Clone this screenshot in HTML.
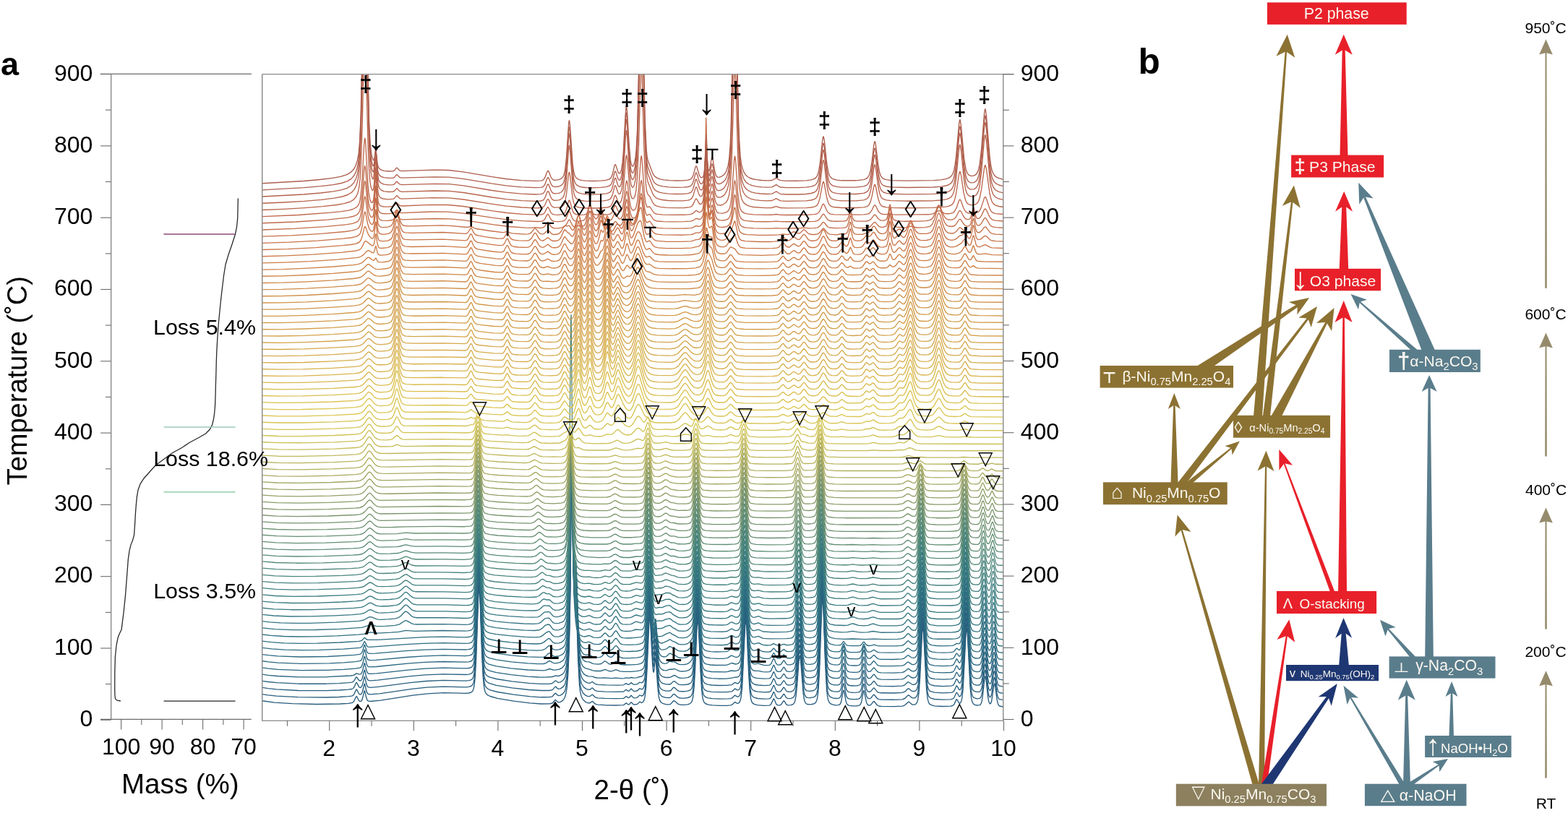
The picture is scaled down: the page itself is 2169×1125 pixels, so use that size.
<!DOCTYPE html><html><head><meta charset="utf-8"><title>figure</title><style>html,body{margin:0;padding:0;background:#fff;width:2169px;height:1125px;overflow:hidden}svg{display:block}</style></head><body>
<svg width="2169" height="1125" viewBox="0 0 2169 1125">
<defs><clipPath id="pc"><rect x="363.2" y="103.2" width="1024.1" height="893.6"/></clipPath></defs>
<rect width="2169" height="1125" fill="#fff"/>
<g clip-path="url(#pc)" fill="none" stroke-width="1.35" stroke-linejoin="round">
<path stroke="#285c7e" d="M360.1 969.4l19.5 2.7 25 1.6 33.5 .8 32-.5 12-.7 5.5-1 2-1.8 2.5-5.7 1-1.2 .5 .4 3 5.8 1 .7 1.5 0 1-.8 1-2.1 3-11.8 .5 .4 2 8.6 1.5 4.1 1.5 1.3 2.5 .3 14.5-1.4 44.5-6.9 20.5-2.4 22-1.1 30.5 .7 4.5-.4 3-.9 2-1.6 1.5-3.5 1-5.1 1-9.4 1.5-26.3 3-84.6 1-14 .5 .7 1 16.3 2.5 73.2 1.5 31 1 11.9 1 6.8 1 3.7 1.5 2.8 2 1.8 3.5 1.7 10 2.8 22.5 3.9 22.5 2.7 15.5 1.1 11.5-.1 4-.9 4-4.5 1 .4 2 2.2 1.5 .7 2.5-.4 3-1.8 2.5-3 1.5-3.5 2-10.3 1.5-17.3 1.5-33.3 1-37.7 1-64.4 2-199.8 2 183.3 1 37.7 .5 5.4 .5 0 1-5 .5 1.4 .5 7.5 2.5 81 2 37.4 1 8.2 1.5 6.3 2.5 4.8 3 2.8 3 1.4 2.5 .4 1.5-.4 2-1.7 1-.3 3.5 3.4 1.5 .7 2.5 .5 9.5 .6 15 .3 10.5-.3 1.5-.6 2.5-2.3 2.5 1.9 1 .2 1-.4 2.5-2.9 3 3.1 1.5 .3 2-.1 2.5-.8 2.5-2.8 .5-.1 2.5 1.3 2-1.2 1.5-2.9 1-4.3 1.5-13.4 1.5-25.9 2.5-58.7 1-11.8 .5 .2 .5 4.3 3 59.6 1 10.7 .5 1.2 .5-1.4 1.5-14.5 .5-3.6 .5 .2 2.5 36.9 1.5 15 1 4.7 1 2.4 1.5 2 2 1.3 4.5 1.4 5 .1 2-.9 3-3.6 1-.6 1.5 .6 3.5 3.3 2 1.1 3 .7 4.5 0 4.5-.6 3-1 2-1.5 1-1.7 1.5-5.6 1.5-13.5 1.5-26 2.5-57.8 1-10.7 .5 .8 1 13.6 2.5 58.2 1.5 24.3 1 9.3 1 5.2 1 2.7 2 2.4 4 1.6 6 .8 10.5 .5 11-.2 3.5-.4 2-.6 4-3.8 3 1.9 1.5 0 1.5-1 1-1.6 1.5-5.7 1.5-13.7 4-83.9 1-10.2 .5 1.2 1 14 2.5 58.3 1.5 24 1.5 12 1 3.7 1 2 2.5 2 4.5 1.3 8.5 .7 7.5-.2 1.5-.4 1.5-1.4 3.5-7.6 1 1.2 2.5 6 1 1.2 1.5 .7 2.5 0 1.5-.6 4-5.7 1 .8 2.5 4.2 1.5 1 2 .3 3-.3 2-.6 1.5-.9 1-1.2 1-2.4 1.5-7.5 1.5-14.8 2.5-33.9 1-7 .5 0 1 7.2 3.5 44.4 1 7.1 1 4.3 1.5 2.9 2 1.3 4.5 .4 4.5-.9 1.5-.8 1.5-1.5 1.5-3.5 1-5.1 1-9.4 1.5-26.2 3-84.9 1-14.7 .5 .3 1 15.8 2.5 72.7 2 37.9 1 9.1 1 4.9 1.5 3.5 2 1.8 3 1.2 4 .7 3.5-.1 2-.9 1-1.3 1-2.7 2.5-13.4 .5-1.8 .5-.4 1 3.7 2 11.2 1 3.2 1.5 2.1 2.5 1 4.5 .5 5 0 3-.5 2-1 1-1.3 1-2.8 2.5-13.5 .5-1.9 .5-.3 3.5 16.6 1.5 2.9 1.5 .9 1.5 0 1.5-.7 3.5-4.4 1-.4 4.5 5.5 2 1 3.5 .4 17.5 .2 11.5-.5 3.5-1.3 5-4.6 1 .2 3 2.7 2 1 2.5 0 2-1.1 1.5-2.1 1-3.2 1.5-10.4 1.5-21.2 3-61.7 .5-5.6 .5-1.8 1 8.1 4 77.3 1.5 13.2 1.5 5.6 1 1.7 1.5 1.2 5.5 1.7 11 .7 11.5-.4 2.5-.6 1.5-1 1-1.4 3-6.5 1 .7 2.5 4.5 1.5 .3 1.5-2.3 1-3.9 1.5-12.6 4-76.9 1-9.2 .5 1.2 1 12.9 3.5 69.4 1.5 14.2 1.5 6 2 2.7 1.5 .8 2.5 .6 4-.3 1-.6 1-1.6 1-3.1 1-5.7 3-26.7 .5-2 .5-.1 1 5.6 2.5 22.9 1 5.7 1 2.9 .5 .7 1 .2 1.5-3.3 3-20.8 1-3.9 .5 .6 .5 2.4 2.5 19.2 1.5 6.3 1 1.7 1 .9 5.5 1"/>
<path stroke="#285e7e" d="M360.1 960.2l10.5 1.6 12 1.3 29.5 1.6 39 .3 18-.5 13-.8 4.5-.6 2-1 1.5-2 2-4.9 1-1.2 .5 .4 3 5.8 1.5 .8 1.5-.4 1.5-2.6 3-11.8 .5 .3 2 8.7 1.5 4 1.5 1.3 2.5 .4 13-1.1 44.5-6.4 21-2.3 23-1 30.5 .7 4.5-.4 3-.9 2-1.7 1.5-3.4 1-5.1 1-9.4 1.5-26.1 3-82.3 1-12.9 .5 1.1 1 16.6 2.5 71.3 1.5 29.8 1 11.3 1 6.5 1 3.5 1.5 2.6 2 1.7 3.5 1.8 10 2.7 22.5 3.7 23 2.6 15 1 11.5-.1 4-.9 4-4.5 1 .4 2 2.2 1.5 .7 2.5-.5 3-1.7 2.5-3 1.5-3.4 2-10.3 1.5-17.4 1.5-33.1 1.5-65.4 2-207.1 .5-19.5 2 181.1 1 34.5 .5 4.3 .5-.7 1-6.1 .5 1.1 .5 7.2 2.5 80.2 2 37.2 1 8.1 1.5 6.2 2.5 4.8 3 2.8 3 1.4 2.5 .4 1.5-.5 2-1.7 1-.3 3.5 3.5 1.5 .7 2.5 .4 9.5 .6 15 .3 10.5-.3 1.5-.6 2.5-2.3 2.5 1.9 1 .2 1-.4 2.5-2.9 3 3.1 1.5 .4 2-.1 2.5-.9 2.5-2.7 .5-.1 2.5 1.2 2-1.1 1.5-3 1-4.3 1.5-13.5 1.5-25.8 2.5-57 1-10.6 .5 .7 .5 4.7 2.5 50 1.5 18.2 .5 .9 .5-1.8 1.5-15.1 .5-3.6 .5 .1 2.5 36.8 1.5 14.8 1 4.7 1 2.5 1.5 1.9 2 1.4 4.5 1.3 5 .1 2-.9 3-3.6 1-.5 1.5 .6 3.5 3.3 2 1.1 3 .6 4.5 0 4.5-.6 3-1 2-1.5 1-1.7 1.5-5.7 1.5-13.6 4-81.9 1-9.4 .5 1.4 1 14 2.5 56.8 1.5 23.1 1 8.7 1 4.8 1 2.6 2 2.2 4 1.5 6 .9 10.5 .4 11-.2 3.5-.3 2-.7 4-3.8 3 1.9 1.5 .1 1.5-1.1 1-1.6 1.5-5.8 1.5-13.9 4-82 1-8.8 .5 1.8 1 14.6 3.5 73.4 1.5 14.5 1 4.8 1.5 3.3 2.5 1.9 5 1.3 8 .6 7.5-.2 1.5-.4 1.5-1.4 3.5-7.6 1 1.2 2.5 6 1 1.2 1.5 .7 2.5 0 1.5-.6 4-5.7 1 .8 2.5 4.2 1.5 1 2 .3 3-.3 2-.6 1.5-.9 1-1.3 1-2.4 1.5-7.7 1.5-14.7 2.5-32.9 1-6.2 .5 .5 1 7.6 3.5 43.1 1 6.6 1 4 1.5 2.7 2 1.2 4.5 .4 4.5-1 2.5-1.6 1.5-2.7 1.5-6.8 1-9.6 1.5-26.4 3-82.6 1-12.8 .5 1.2 .5 6.3 3 81.4 2 35.7 1 8.4 1 4.6 1.5 3.2 2 1.7 3 1.2 4 .6 3.5-.1 2-.9 1-1.3 1-2.7 2.5-13.4 .5-1.8 .5-.4 1 3.7 2 11.2 1 3.2 1.5 2.1 2.5 1 4.5 .5 5-.1 3-.4 2-1 1-1.4 1-2.7 2.5-13.5 .5-1.9 .5-.3 3.5 16.6 1.5 2.9 1.5 .8 1.5 .1 1.5-.7 3.5-4.4 1-.4 4.5 5.5 2 1 3.5 .4 17.5 .2 11.5-.5 3.5-1.3 4-3.9 1-.6 1 .3 3 2.6 2 1 2.5-.1 2-1.1 1.5-2.2 1-3.4 1.5-10.7 1.5-21.5 2.5-52.2 1-12.5 .5-1 1 9.2 4 75.3 1.5 12.4 1.5 5.1 1 1.6 1.5 1.1 5.5 1.6 11 .7 11.5-.4 2.5-.6 1.5-1 1-1.4 3-6.6 1 .8 2.5 4.5 1 .4 .5-.2 1.5-2.4 1-4.1 1.5-13 4-75.5 1-7.6 1 7.5 4 75.6 1.5 13.2 1.5 5.5 1 1.7 1.5 1.1 4 1.1 3.5-.4 1-.7 1-1.6 1-3.4 1-5.8 2.5-22.6 1-4.9 .5 .3 .5 2.3 3 26.1 1 5.2 1 2.7 .5 .6 1-.1 1.5-3.5 3-20.6 1-3.2 1 3.7 2.5 18.7 1.5 5.8 1 1.6 1 .7 5.5 1"/>
<path stroke="#29607f" d="M360.1 951.0l10.5 1.6 12 1.3 30 1.6 38.5 .1 18-.6 13-.8 4.5-.7 2-1 1.5-2 2-4.9 1-1.2 .5 .4 3 5.8 1.5 .9 1.5-.5 1.5-2.6 3-11.8 .5 .3 2 8.7 1.5 4.1 1.5 1.2 2.5 .4 11.5-.9 44-5.7 22-2.2 24-1.1 30.5 .7 4.5-.4 3-.9 2-1.6 1.5-3.4 1-5.1 1-9.4 1.5-25.8 3-80 1-11.9 .5 1.5 1 16.9 2.5 69.3 1.5 28.6 1.5 14.4 1 4.5 1.5 3.3 2 1.9 3 1.6 9.5 2.7 21.5 3.6 23.5 2.6 16.5 1 12 0 4-.9 4-4.5 1 .4 2 2.2 1.5 .7 2.5-.5 3-1.7 2-2.2 1.5-2.8 1.5-5.3 1-6.4 1.5-17.3 1.5-32.9 1.5-65.5 2-202.9 .5-13.2 1.5 144.4 .5 33.6 1 31.3 .5 3.5 1.5-8.6 .5 .7 .5 6.9 3 92.1 1 18.2 1 10.8 1 6 1.5 4.9 2.5 4 3 2.4 2.5 1.1 2.5 .4 1.5-.5 2-1.7 1-.2 3.5 3.4 3 1 10.5 .7 17 .3 9-.4 3.5-2.8 2.5 1.9 1 .3 1-.5 2.5-2.9 3 3.1 1.5 .4 2-.1 2.5-.9 2.5-2.7 .5-.1 2.5 1.3 2-1.2 1.5-3 1-4.4 1.5-13.6 4-80.7 1-9.4 .5 1.2 .5 5 2.5 48.9 1.5 17 .5 .5 .5-2 1.5-15.6 .5-3.8 .5 .1 2.5 36.6 1.5 14.8 1 4.7 1 2.5 1.5 1.9 2 1.3 4.5 1.3 5 .1 2-.8 3-3.6 1-.6 1.5 .7 3 2.9 2.5 1.5 3 .5 4.5 0 4.5-.6 3-.9 2-1.6 1-1.7 1.5-5.8 1.5-13.7 4-79.9 1-8.2 1 7.7 3 64 1.5 21.9 1 8.1 1 4.6 1 2.4 1.5 1.7 3.5 1.5 5.5 1 9.5 .4 11.5 0 7-.8 1.5-1 3-3 3 1.8 1 .2 1.5-.6 1-1.2 1-2.4 1-4.5 1.5-14.1 3.5-71.3 1-14.3 .5-1.8 1 8.5 4 79.9 1.5 13.6 1 4.4 1.5 3.1 2.5 1.8 5 1.2 9 .7 7-.4 1.5-.7 1-1 3.5-7.6 1 1.2 2.5 6 1 1.2 1.5 .7 2.5 0 1.5-.6 4-5.7 1 .8 2.5 4.2 1.5 1 2 .3 3-.3 2-.6 1.5-.9 1-1.3 1-2.5 1.5-7.8 4-46.5 1-5.3 .5 .8 1 8 3 37.3 2 12.7 1.5 3.5 2 1.5 4.5 .5 5-.9 2.5-1.7 1.5-2.7 1.5-7.1 1-9.7 1.5-26.6 3-80.2 1-10.9 .5 2.1 .5 6.8 3 79.8 1.5 27.8 1 10.3 1 5.8 1.5 4 2.5 2.3 3 1.1 4 .6 3.5-.1 2-.9 1-1.3 1-2.7 2.5-13.4 .5-1.9 .5-.3 1 3.7 2 11.2 1 3.2 1.5 2.1 2.5 1 4.5 .5 5-.1 3-.4 2-1 1-1.4 1-2.7 2.5-13.5 .5-1.9 .5-.4 3.5 16.7 1.5 2.9 1.5 .8 1.5 0 1.5-.6 3.5-4.4 1-.4 4.5 5.5 2 1 3 .4 18 .2 11.5-.6 3.5-1.2 4-3.9 1-.5 1 .4 3 2.6 1.5 .7 2.5 .1 2-.8 1.5-1.7 1-2.5 1-4.7 1-8.4 1.5-21.8 2.5-51 1-11 .5-.3 1 10.3 3.5 67.2 1.5 14.7 1 5 1 2.6 1 1.4 1.5 1.1 5.5 1.5 11 .7 11.5-.5 2.5-.5 1.5-1 1-1.4 3-6.6 1 .8 2.5 4.5 1 .4 .5-.2 1-1.4 1-3 1.5-10.2 1.5-20.8 2.5-51.1 1-12.5 .5-1.2 1 8.7 4 73.8 1.5 12.2 1.5 5.1 2 2.2 3.5 1.2 4-.1 1-.5 1-1.2 1-2.5 1-4.6 3-25.6 1-4.1 .5 .8 .5 2.6 3 25.5 1 4.8 1 2.4 1 .6 .5-.3 1.5-3.8 3-20.3 .5-2.1 .5-.4 1 4.2 2.5 18.2 1.5 5.3 1 1.5 1 .7 5.5 .9"/>
<path stroke="#2a6280" d="M360.1 941.9l11 1.6 12 1.2 30 1.5 38 0 18-.6 13.5-1 4-.5 2-.8 1.5-1.7 2-3.9 1-1 3.5 4.8 1.5 .6 1.5-.6 1.5-2.5 3-11.9 .5 .3 2 8.7 1.5 4 1.5 1.3 2.5 .4 10.5-.7 43.5-5.2 22.5-2.1 24.5-1 31 .7 4.5-.4 3-.9 2-1.6 1.5-3.4 1-5.1 1-9.3 1.5-25.5 3-77.8 1-10.8 .5 1.9 .5 6.6 3 77.8 1.5 27.4 1.5 13.7 1 4.3 1.5 3.1 2 1.8 3 1.6 9.5 2.6 21.5 3.4 23.5 2.5 16.5 1 12-.1 4-.8 4-3.6 1 .3 2 1.6 1.5 .5 2.5-.5 3-1.8 2-2.1 1.5-2.8 2-8.1 1.5-13.8 1.5-26.6 2-78.8 2-198.1 .5-7 1.5 142.8 .5 31.3 1 28.3 .5 2.5 1.5-10.2 .5 .4 .5 6.6 3 91.3 1 18.1 1 10.7 1 6 1.5 4.8 2.5 4 3 2.4 2.5 1.2 2.5 .4 1.5-.3 2-1.3 1-.2 3.5 2.8 4 1 11 .6 16 .2 8.5-.3 3.5-2.2 2.5 1.5 1 .2 1-.4 2.5-2.3 3 2.4 3.5 .2 2.5-.8 2.5-2.2 3 .7 2-1.3 1.5-3 1-4.5 1.5-13.6 4-78.8 1-8.2 .5 1.6 .5 5.3 2.5 47.9 1 12.9 .5 2.8 .5 .3 .5-2.3 1.5-16.2 .5-3.9 .5 0 2.5 36.5 1.5 14.8 1 4.7 1 2.4 1.5 1.9 2 1.4 4.5 1.3 5 .1 2-.7 3-3.2 1.5-.5 1.5 .8 3 2.6 2 1.1 3 .5 4.5-.1 4.5-.5 3-1 2-1.5 1-1.8 1.5-5.8 1.5-13.9 3.5-69.4 1-13.7 .5-1.6 1 8.5 3 62.4 1.5 20.8 1 7.6 1 4.2 1 2.2 1.5 1.7 3.5 1.4 6 .9 9.5 .5 11.5-.1 6.5-.7 4.5-3.3 3 1.3 1.5 0 2-1.9 1-2.4 1-4.6 1.5-14.3 3.5-69.7 1-13 .5-1.1 1 9.2 4 77.5 1.5 12.8 1 4 1.5 2.9 3 1.9 5 1 9 .6 6.5-.4 1.5-.7 1-1 3.5-7.6 1 1.2 2.5 6 1 1.2 1.5 .7 2.5 0 1.5-.6 4-5.7 1 .8 2.5 4.2 1.5 1 2 .3 3-.3 2-.5 1.5-1 1-1.3 1-2.6 1.5-7.9 4-45.4 1-4.4 .5 1.1 1 8.4 3 36.1 2 11.9 1.5 3.2 2 1.4 4.5 .5 5-1 2.5-1.7 1.5-2.8 1-4 1-7.5 2-32.3 3-77.7 .5-6.8 .5-2.2 1 10.2 3 78 1.5 26.1 1 9.6 1 5.4 1.5 3.7 2 1.9 3 1.2 4 .6 4-.1 2-.9 1-1.3 1-2.7 2.5-13.4 .5-1.9 .5-.3 1 3.7 2 11.2 1 3.2 1.5 2.1 2.5 1 4.5 .5 5-.1 3-.4 2-1 1-1.4 1-2.8 2.5-13.5 .5-1.8 .5-.4 3.5 16.7 1.5 2.8 1.5 .9 1.5 0 1.5-.7 3.5-4.4 1-.4 4.5 5.6 2 .9 3 .4 18 .3 11.5-.6 3.5-1.3 4-3.8 1-.3 5.5 3.6 2.5 0 2-.8 1.5-1.8 1-2.6 1-4.9 1-8.6 1.5-22 2.5-49.7 1-9.6 .5 .5 1 11.3 3.5 65.3 1.5 13.8 1 4.5 1 2.5 1 1.3 2 1.2 5.5 1.3 11.5 .6 11-.5 2.5-.7 1.5-1.4 3.5-7.4 1 .7 2.5 4.6 1 .3 .5-.2 1-1.4 1-3.2 1.5-10.6 1.5-21.1 2.5-49.9 1-11 .5-.3 1 9.8 3.5 65.7 1.5 14.5 1 4.9 1 2.5 2 2.2 4 1.1 3.5-.2 1-.6 1-1.2 1-2.6 1-4.8 3-25.1 .5-2.5 .5-.8 1 4 3 24.9 1 4.4 1 2.1 1 .4 .5-.3 1-2.2 1-4.5 2.5-17.4 .5-1.7 .5 0 1 4.7 2 14.9 1.5 6.5 1 1.9 1.5 1.1 5.5 .9"/>
<path stroke="#2a6480" d="M360.1 932.7l11 1.6 12.5 1.2 30.5 1.4 38-.2 33-1.7 4-.7 4-2.4 4 1.3 1.5-.3 1-.6 1.5-2.7 3-11.9 .5 .3 2 8.6 1.5 4.1 1.5 1.3 2.5 .4 9-.6 43.5-4.7 23.5-2 25-.9 31 .7 4.5-.4 3-.9 2-1.6 1.5-3.5 1-5 1-9.3 1.5-25.2 3-75.3 1-9.8 .5 2.2 .5 6.7 3 75.9 1.5 26.2 1.5 12.9 1 4.1 1.5 3 2 1.7 3 1.5 9.5 2.5 20.5 3.1 23 2.5 14.5 .8 10 .1 9.5-.6 4-1.3 4.5 .3 2.5-.8 2.5-1.4 2-1.9 1.5-2.4 1.5-4.2 1-5 1.5-13.7 1.5-26.6 2-79.1 2-193.9 .5-1 1.5 141.4 1 46.5 .5 8.4 .5 1.7 1.5-11.7 .5 0 .5 6.4 3 90.5 1 18.1 1 10.6 1 6 1.5 4.8 2.5 3.9 3 2.4 4 1.4 5.5 .3 3.5 1.3 3 .5 5 .2 6-.3 8 .7 7-.5 8.5 .7 2.5-.2 3-.7 4 .5 3-.9 3.5 .7 4-.3 4-1.4 3-.5 2-1.5 1.5-3.2 1-4.5 1.5-13.7 3.5-68.3 1-13.7 .5-1.7 1 7.6 2.5 46.7 1 12 .5 2.5 .5-.1 .5-2.5 1.5-16.7 .5-4 .5 0 2.5 36.3 1.5 14.8 1 4.7 1 2.4 1.5 1.9 2 1.3 4 1.2 4.5 0 3-.6 3.5-2.1 1.5-.3 1.5 .6 3 2.1 2 .8 3 .4 4.5-.2 4-.6 3-1.1 2-1.6 1-1.7 1.5-5.9 1.5-13.8 3.5-67.8 1-12.5 .5-1 1 9.2 3 60.8 1.5 19.6 1 7.2 1 3.9 1 2.1 1.5 1.5 3.5 1.4 5.5 .8 9.5 .5 11-.1 8-.9 4-1.1 3.5-.1 1.5-.7 1.5-1.7 1-2.5 1-4.7 1.5-14.4 3.5-68.1 1-11.7 .5-.5 1 10 2.5 51.9 1.5 23 1.5 12 1 3.7 1.5 2.7 2.5 1.5 3.5 .8 9.5 .9 8-.3 1.5-.7 1-1 3.5-7.6 1 1.2 2.5 6 1 1.2 1.5 .7 2.5 0 1.5-.6 4-5.7 1 .8 2.5 4.2 1.5 1 2 .3 3-.3 2-.5 1.5-1 1-1.4 1-2.6 1.5-8 3.5-39.5 1-7.5 .5-.8 1 5.1 3.5 40 2 11 1.5 3 2 1.3 5 .4 4.5-.9 2.5-1.7 1.5-2.9 1-4.1 1-7.7 2-32.5 3-74.9 .5-6 .5-1.3 1 11.4 3 76.1 1.5 24.5 1 8.9 1 4.9 1.5 3.5 2 1.7 3 1.1 4 .6 4-.1 2-.9 1-1.3 1-2.7 2.5-13.4 .5-1.9 .5-.3 1 3.7 2 11.2 1 3.2 1.5 2.1 2.5 1 4.5 .4 5 0 3-.4 2-1 1-1.4 1-2.8 2.5-13.5 .5-1.8 .5-.4 3.5 16.6 1.5 2.9 1.5 .9 1.5 0 1.5-.7 3.5-4.4 1-.4 4.5 5.6 2 .9 3 .4 17 .3 12-.5 3.5-1.1 4-3.6 1.5-.7 4 2.9 1.5 .6 2.5 0 2-.9 1.5-1.8 1-2.7 1-5.1 1-8.8 4-70.4 1-8.2 .5 1.2 1 12.2 3.5 63.4 1.5 12.8 1 4.2 1 2.2 1 1.2 2 1.2 5.5 1.2 12 .5 10.5-.5 2.5-.7 1.5-1.3 3.5-7.4 1 .7 2.5 4.5 1 .4 .5-.3 1-1.4 1-3.4 1.5-10.9 1.5-21.4 2.5-48.5 1-9.6 .5 .4 1 10.9 2.5 48.8 1.5 20.7 1.5 10.5 1.5 4.2 2 2 4 1 3.5-.3 1-.5 1-1.3 1-2.8 1-5 3-24.4 .5-2.2 .5-.3 1 4.6 2.5 21.1 1 5.3 1 2.9 .5 .7 1 .3 1.5-2.9 1-4.6 2-14.2 1-4 .5 .4 .5 2 2.5 17.5 1.5 6 1 1.7 1 .8 2 .6 4 .5"/>
<path stroke="#2a6680" d="M360.1 923.5l11.5 1.7 13 1.2 32.5 1.2 39-.4 19.5-.9 15.5-1.2 6.5-1 1.5-.7 1-1 1.5-3.8 2.5-10.3 .5 .3 .5 1.7 2.5 10.1 1.5 1.9 2.5 .6 9-.4 43-4.3 24-1.8 25.5-.9 30.5 .7 5-.4 3-.8 2-1.6 1.5-3.5 1-5 1-9.2 1.5-24.8 3-73.1 1-8.8 1 9.4 3 73.9 1.5 25 1.5 12.3 1 3.9 1.5 2.8 2 1.7 3 1.4 9.5 2.4 20.5 3 23 2.2 21.5 .9 3.5-.5 5-1.9 5 1.5 3 .2 5.5-1.1 4-2 2.5-2.5 1.5-2.8 2-8.1 1.5-13.7 1.5-26.3 2-79.1 2-187.7 .5 4.7 1.5 138 1 42.8 .5 7.2 .5 .8 1.5-13.2 .5-.3 .5 6.1 3 89.8 1 18 1 10.5 1 6 1.5 4.7 2 3.3 3 2.4 5.5 1.4 5 1.8 4 .6 7 0 6-2.1 5 2.1 3 .4 2.5-.5 4.5-1.8 5.5 2.3 5.5 .5 10.5-.1 7.5-.6 5-1.1 3-1.8 1.5-2.3 1-3.3 1.5-10.7 1.5-21.1 2.5-51.3 1-12.6 .5-1.2 1 8.2 2.5 45.5 1 11.2 .5 2.1 .5-.4 2.5-24 .5-.1 2.5 36.2 1.5 14.8 1 4.6 1 2.4 1.5 1.9 2 1.3 2.5 .7 2.5 .1 5-1.6 3.5 0 3-.7 6.5 3.2 3 .3 4.5-.1 3.5-.7 2.5-1.1 2.5-1.8 1.5-2.3 1.5-5.7 1.5-13.6 3.5-65.8 1-11.3 .5-.5 1 9.9 2.5 50.4 1.5 22.3 1 8.7 1 5 1 2.7 2 2.2 3.5 1.3 5.5 .9 19 .3 4-.4 4.5-1.4 5 .5 2.5-.3 2.5-1.1 1.5-1.8 1-2.5 1-4.8 1.5-14.5 3.5-66.4 1-10.4 .5 0 1 10.7 2.5 50.5 1.5 21.8 1.5 11.2 1 3.5 1.5 2.4 3 1.5 6 .1 5.5 1.3 5 .2 4-.3 1.5-.7 1-1 3.5-7.6 1 1.2 2.5 6 1 1.2 1.5 .7 2.5 0 1.5-.6 4-5.7 1 .8 2.5 4.2 1.5 1 2 .3 3-.3 2-.5 1.5-1 1-1.4 1-2.7 1.5-8 3.5-38.6 1-6.8 .5-.4 1 5.6 3.5 38.7 2 10.4 1.5 2.7 2 1.2 5 .4 4.5-1 2.5-1.7 1.5-2.9 1-4.3 1-7.8 2-32.6 2.5-63.2 1-14 .5-.4 1 12.5 3 73.9 1.5 23 1 8.2 1 4.6 1.5 3.1 2 1.6 3.5 1.2 4 .5 3.5-.2 2-.9 1-1.3 1-2.7 2.5-13.4 .5-1.8 .5-.4 1 3.7 2 11.2 1 3.2 1.5 2.1 2.5 1 4.5 .4 5 0 3-.4 2-1 1-1.4 1-2.8 2.5-13.5 .5-1.9 .5-.3 3.5 16.6 1.5 2.9 1.5 .9 1.5 0 1.5-.7 3.5-4.4 1-.4 4.5 5.5 2 1 3 .4 17 .3 12-.5 3.5-1.1 5-4.2 1 .2 3 2.4 2 .9 2.5-.1 2-.9 1.5-1.9 1-2.8 1.5-9.2 1.5-18.8 3-55.3 1-6.7 1 7 4 69.1 1.5 12 1.5 5 1 1.5 1.5 1.1 5.5 1.5 11.5 .6 11.5-.4 2.5-.5 1.5-1 1-1.5 3-6.5 1 .7 2 4 1.5 .8 1.5-1.8 1-3.4 1.5-11.3 4-68.7 1-8.1 .5 1.2 1 11.7 3.5 62 1.5 12.5 1.5 5.4 2 2.4 4 1.2 4-.3 1-.6 1-1.4 1-2.8 1-5.2 3-23.8 .5-1.7 .5 0 1 5.1 2.5 20.5 1 5 1 2.6 .5 .6 1 .1 1.5-3.1 3-18.6 1-3.4 1 3 2.5 17.1 1.5 5.5 1 1.6 1 .7 6 .9"/>
<path stroke="#2b6881" d="M360.1 914.3l11.5 1.6 13 1.2 32.5 1.2 39-.5 20-1 15.5-1.2 6-1 1.5-.6 1-1 1.5-3.8 2.5-10.3 .5 .3 .5 1.7 2.5 10.1 1.5 2 2.5 .6 8.5-.3 42-3.8 24.5-1.7 26.5-.9 30.5 .7 5-.4 3-.8 2-1.6 1.5-3.4 1-5.1 1-9.1 1.5-24.5 3-70.6 .5-6.1 .5-1.8 1 9.8 4 89.3 1 11.4 1 6.7 1 3.6 1.5 2.7 2 1.6 3 1.3 9.5 2.3 20.5 2.9 23 2.1 13.5 .7 8.5-.1 3-.9 3.5-2.5 1.5-.6 1 .3 4 2.5 3.5 .5 5-1 4-1.9 2-1.8 1.5-2.4 1.5-4.2 1-4.9 1.5-13.6 1.5-26.2 1-29.5 1-49.4 2-180.9 .5 9.9 1.5 134 1 39.2 .5 6.1 .5 .1 1.5-14.8 .5-.6 .5 5.8 3 89.1 1 17.9 1 10.5 1 5.9 1.5 4.7 2 3.2 2.5 2 2 .7 4 .2 4 2 2.5 .8 6 .5 4-.7 4-3 1.5-.6 1 .4 4 3.2 1.5 .5 2 .1 2-.8 3.5-2.8 1-.3 1 .3 3 2.6 2 1.2 2.5 .5 4 .2 9.5-.1 7.5-.6 4.5-1 3-1.7 1.5-2.4 1-3.4 1.5-10.6 1.5-21 2.5-49.7 1-11.5 .5-.8 1 8.8 2.5 44.2 1 10.4 .5 1.8 .5-.7 2-20.7 .5-4.1 .5-.2 2.5 36.1 1.5 14.7 1 4.6 1 2.4 1.5 1.9 2 1.2 2.5 .7 2-.1 2-.9 3-2.1 1-.2 3 .9 3.5 .2 4 2.5 2 .8 3 .3 4.5-.2 3-.6 2.5-1.2 3-2.6 1.5-2.2 1.5-5.5 1.5-13.5 3.5-63.8 1-10.1 .5 .1 1 10.4 2.5 49.1 1.5 21.2 1.5 10.8 1.5 4.4 1.5 1.8 3 1.3 5 .9 7 .5 15-.2 2.5-.6 5-2.2 5.5 1.5 2-.3 2-.9 1.5-1.8 1-2.6 1-4.9 1-8.5 1.5-21.8 2.5-48.8 1-9.2 .5 .6 1 11.3 2.5 49.1 1.5 20.6 1.5 10.3 1 3.3 1 1.7 1.5 1.1 2 .6 5.5-.6 7 2.2 4.5 .2 3.5-.3 1.5-.7 1-1 3.5-7.6 1 1.1 2.5 6.1 2 1.8 2.5 .2 2-.7 4-5.7 1 .8 2.5 4.2 1.5 1 4.5 .1 3.5-1.2 1-1 1-2 1.5-6.3 1.5-12.4 2.5-28.6 1-6 .5 0 1 6 3.5 37.5 2 9.6 1.5 2.5 2 1.1 4.5 .3 4.5-.7 3-2 1.5-2.9 1-4.4 1-7.9 1.5-22.2 3-71.6 1-12.3 .5 .4 1 13.4 2.5 61.3 2 31.8 1 7.7 1 4.2 1.5 2.8 2 1.6 3.5 1.1 4 .4 3.5-.2 2-.8 1-1.4 1-2.7 2.5-13.4 .5-1.8 .5-.4 1 3.7 2 11.2 1 3.2 1.5 2.1 2.5 1 4.5 .4 5 0 3-.4 2-1 1-1.4 1-2.8 2.5-13.5 .5-1.9 .5-.3 3.5 16.6 1.5 2.9 1.5 .9 1.5 0 1.5-.7 3.5-4.4 1-.4 4.5 5.5 2 1 3 .4 17 .2 12-.5 3.5-1.1 4-3.5 1-.4 1 .2 3 2.3 2 .9 2.5-.1 2-1 1.5-2 1-2.9 1.5-9.5 1.5-19.1 2.5-46.5 1-11.3 .5-1 1 8.1 4 67.2 1.5 11.1 1.5 4.6 1 1.4 1.5 1 6 1.5 12 .5 11-.5 2.5-.7 1.5-1.4 3.5-7.3 1 .7 2 3.9 1.5 .9 1.5-1.9 1-3.6 1.5-11.7 4-67.3 1-6.5 1 6.8 4 67.5 1.5 11.6 1.5 4.9 1 1.4 1.5 1.1 4 .9 3.5-.4 1-.6 1-1.5 1-3 1-5.3 2.5-20.2 1-4.2 .5 .4 .5 2.2 3 23.2 1 4.6 1 2.3 .5 .5 1 0 1.5-3.3 3-18.4 .5-2.1 .5-.6 1 3.5 2.5 16.6 1.5 5.1 1 1.4 1 .6 6 .9"/>
<path stroke="#2c6a82" d="M360.1 905.2l11 1.5 13 1.1 31 1.2 38-.5 37-2.1 7.5-1 2.5-1.4 1.5-3.1 2.5-8.6 .5 .3 .5 1.4 2.5 8.3 1.5 1.6 2.5 .5 7.5-.3 42-3.5 25.5-1.5 26.5-.8 30.5 .7 4.5-.3 3-.7 2.5-1.8 1.5-3.4 1-5 1-9 1.5-24.1 2.5-59.3 1-14.6 .5-1.3 1 10.1 4 86.3 1 10.9 1 6.3 1 3.4 1.5 2.6 2 1.5 3 1.3 9.5 2.2 20.5 2.7 22.5 2 15 .6 7.5-.3 3-1.2 3.5-3.6 1.5-.8 1 .5 3.5 3.3 2.5 1.1 5.5-.4 5-2.1 2.5-2.4 1.5-2.7 2-8 1.5-13.4 1.5-25.9 1-29.2 1-49.5 2-174 .5 15.2 1.5 133 1 39.2 .5 7.2 .5 1.8 1.5-8.8 .5 .2 .5 5.4 2.5 64.7 2 30.4 1 6.6 1.5 5 2 3.3 2 1.7 2.5 .7 4.5-.4 5.5 3.1 5.5 .8 3-.2 2-.6 2-1.6 3-3.5 1-.4 1 .6 3.5 4 2.5 1.2 1.5-.1 1.5-.7 4-4.3 1-.5 1 .4 4.5 5.1 1.5 .7 2.5 .5 9.5 .2 9.5-.5 5.5-1.1 3-1.6 1.5-2.4 1-3.4 1.5-10.6 1.5-20.8 2.5-48 1-10.3 .5-.3 1 9.3 2.5 43.7 1 10.5 .5 2.2 .5 0 .5-2.2 1.5-13.8 .5-3.3 .5-.1 2.5 30 1.5 12.2 1 3.8 1 2 1.5 1.6 1.5 .8 2.5 .6 2.5-.4 2-1.3 2.5-2.6 1.5-.6 3.5 1.9 3 .7 3.5 2.4 2 .9 3.5 .4 4.5-.2 3-.7 2-1.1 3.5-3.4 1.5-2.1 1.5-5.4 1.5-13.3 3.5-61.7 1-8.9 .5 .6 1 10.9 3.5 62.2 1.5 13.1 1 4.3 1 2.3 2 2 3 1 5 .8 7 .4 9.5 .1 5-.4 2.5-.8 3.5-2.5 1.5-.5 5.5 2.4 2-.1 2-.9 1.5-1.8 1-2.7 1-4.9 1-8.5 4-68.7 1-8 .5 1.1 1 11.7 2.5 47.7 1.5 19.4 1.5 9.6 1 3 1 1.5 1.5 1.1 2 .4 5.5-1.3 6.5 2.9 3.5 .3 4.5-.1 1.5-.4 1.5-1.1 3.5-6.2 1 .9 2.5 5 1 1 1.5 .6 2.5 0 1.5-.5 4-4.7 1 .7 2.5 3.4 1.5 .8 4.5 0 3.5-1.2 1-1.1 1-2 1.5-6.4 1.5-12.3 2.5-27.6 1-5.3 .5 .4 1 6.3 3.5 36.1 1 5.7 1 3.3 1.5 2.3 2 1 4.5 .3 4.5-.8 2.5-1.4 1.5-2.2 1.5-5.8 1-8 1.5-22.3 3-69.3 1-10.6 .5 1.1 .5 5.3 3 68.4 2 29.9 1 7 1 3.9 1.5 2.6 2 1.4 3 1 4 .6 4-.1 2-.7 1-1.1 1-2.3 2.5-11 .5-1.6 .5-.3 3 12.4 1 2.6 1.5 1.8 2.5 .8 9.5 .3 3-.3 2-.8 1-1.2 1-2.3 2.5-11.1 .5-1.6 .5-.3 3.5 13.8 1.5 2.4 1.5 .7 1.5 0 1.5-.6 3.5-3.6 1-.3 4.5 4.5 2 .8 3 .4 17.5 .2 11.5-.6 3.5-1.1 4-3.5 1-.4 1 .3 3 2.3 1.5 .7 2.5 .1 2-.7 1.5-1.5 1-2.2 1-4.2 1-7.3 1.5-19.3 2.5-45.4 1-10 .5-.2 1 9 3.5 59.7 1.5 13.2 1 4.4 1 2.4 2 2 4 1.2 6.5 .7 9 .2 8.5-.2 4-.8 2-1.9 3-5.4 1 .5 2 3.1 1.5 .5 1-1.1 1-2.6 1.5-9.2 1.5-18.6 2.5-45.4 1-11 .5-.9 1 7.9 4 65.6 1.5 10.7 1.5 4.5 2 2 3.5 1 4-.1 2-1.5 1-2.3 1-4.2 3-22.7 1-3.5 1 3.2 3 22.7 1 4.2 1 2.1 1 .4 .5-.3 1-1.8 1.5-6.7 2-13 .5-1.8 .5-.2 1 3.9 2.5 16.1 1.5 4.7 2 1.8 6 .8"/>
<path stroke="#2c6c82" d="M360.1 896.0l15.5 1.9 18.5 1.2 22.5 .5 25-.2 33.5-1.3 22.5-1.8 2-.6 1-.9 3.5-7.3 1 1.1 2.5 5.4 1.5 1.1 2.5 .2 50.5-3.6 23-1.3 28-.7 30.5 .7 4.5-.3 3-.7 2-1.2 1.5-2.5 1-3.6 1-6.7 2-28.8 3-65.8 .5-5.1 .5-.9 1 10.4 4 83.4 1 10.3 1 5.9 1 3.3 1.5 2.4 2 1.4 3 1.3 9.5 2.1 20.5 2.5 22.5 1.9 14 .5 6.5-.5 4-1.7 4.5-4.1 1-.5 1.5 .7 3.5 3.9 2.5 1.2 2.5 .1 3.5-.5 2.5-.8 2.5-1.3 2-1.9 1.5-2.7 2-7.7 1.5-13.2 1.5-25.5 1-29.1 1-49.6 2-166.9 2 154.1 1.5 51.2 .5 5.1 .5 1.8 1-.1 1 6.5 2.5 45.9 2 20.9 1 4.7 1 2.7 1.5 2.3 2.5 2 2.5 .7 4.5-.9 6.5 3.2 7 .5 3.5-1.1 4-4.3 1.5-.9 1 .5 3.5 4 1.5 .8 1.5 .2 2.5-1.2 3.5-4.3 1.5-.9 1 .5 4.5 5.7 1.5 .9 2.5 .6 9 .3 10-.5 5.5-1 3-1.6 1.5-2.4 1-3.3 1.5-10.6 1.5-20.5 2.5-46.2 1-9.2 .5 .3 .5 3.6 3 49.8 1.5 14.3 .5 1.2 .5-.4 2-9.5 .5 .1 3.5 26.4 1.5 4.6 1 1.3 1.5 .9 2.5 .3 3.5-.7 2-.9 3-2.5 1.5-.5 3.5 2.2 3 .9 5 3 3.5 .6 5-.2 3-.7 2-1.2 3.5-3.3 1.5-2.2 1.5-5.4 1.5-13.3 3.5-59.7 1-7.9 .5 1.1 1 11.2 3.5 60 1.5 12.3 1 4 1 2.1 2 1.8 3 1 5 .8 7.5 .4 14-.4 2.5-.8 3.5-2.5 1.5-.5 5.5 2.4 2-.1 2-.9 1.5-1.8 1-2.6 1.5-8.8 1.5-18 3-53.5 1-6.8 .5 1.6 1 12.1 3.5 59.4 1.5 11.7 1 3.8 1.5 2.6 1.5 1 2 .3 4.5-1.2 1.5-.1 5 2.6 5.5 .6 4-.1 2-.5 4-4.5 1 .7 2.5 3.3 2.5 1 4-.3 4-3.2 1 .4 2.5 2.3 1.5 .5 5-.3 3-1.1 1-1.1 1-2.1 1.5-6.5 4-38.8 1-4.5 .5 .7 1 6.6 3 31.1 2 10.7 1.5 2.9 2 1.3 4.5 .4 5-.8 2.5-1.4 1.5-2.3 1.5-5.9 1-8.1 1.5-22.3 3-66.9 1-9 .5 1.8 .5 5.8 3 66.7 1.5 23 1 8.6 1 4.9 1.5 3.3 2.5 1.9 3 1 3.5 .5 4 .1 2.5-.4 1-.7 1-1.5 2.5-7.3 .5-1 .5-.2 3 8.2 1 1.7 1.5 1.2 3 .6 9.5 .2 4.5-.7 2-2.3 2.5-7.3 .5-1.1 .5-.1 3.5 9 1.5 1.6 1.5 .5 3-.4 3.5-2.4 1-.2 4 2.8 3 .8 15 .3 14.5-.4 3-.5 2-.8 4.5-4.2 1-.4 1 .3 4.5 3.3 2.5 .3 2-.6 1.5-1.5 1-2.3 1-4.3 1-7.5 1.5-19.5 2.5-44 1-8.7 .5 .4 1 9.9 2.5 44.2 1.5 18.8 1.5 9.5 1.5 3.9 2 1.9 3.5 1.1 6 .7 9 .3 9-.2 4.5-.6 2-1.3 3-3.8 1 .3 2 1.8 1 .1 1.5-1.5 1-2.9 1.5-9.5 1.5-18.9 2.5-44.2 1-9.6 .5-.2 1 8.9 3.5 58.2 1.5 12.8 1 4.2 1 2.3 2 1.8 4 1 3.5-.2 2-1.6 1-2.3 1-4.4 3-22.2 .5-2.2 .5-.5 1 3.7 3 22 1 3.8 1 1.9 1 .3 .5-.4 1.5-3.7 2.5-15.1 1-4 .5 .1 .5 1.6 2.5 15.9 1.5 5.6 1 1.7 1.5 .9 6 .8"/>
<path stroke="#2e6e82" d="M360.1 886.8l15 1.9 18 1.1 21.5 .5 24-.2 31.5-1.1 26.5-1.7 4-1 3.5-3.9 .5 .1 2 1.9 1.5 .9 14 .1 65-3.7 26.5-.6 29.5 .7 4.5-.3 3.5-.7 2-1.2 1.5-2.4 1-3.6 1-6.7 2-28.2 2.5-55.5 1-12.5 .5-.6 1 10.6 2.5 55.6 1.5 24.9 1 9.7 1 5.7 1 3 1.5 2.3 2 1.4 3 1.2 9.5 2 19.5 2.3 22 1.7 13.5 .5 6.5-.5 3.5-1.4 6.5-5.1 1.5-.6 1.5 1 3.5 4.3 2.5 1.3 2.5 .2 3.5-.4 2.5-.7 2.5-1.3 2-1.8 1.5-2.5 2-7.6 1.5-13 1.5-25.1 1-28.8 1-49.8 2-159.2 2 159.2 1.5 56.1 1 13.9 2 14.2 2 22.4 1.5 11.8 2 7.1 1.5 2.2 2.5 1.8 3.5 .7 4.5-1.2 6.5 3 3.5 .4 4-.1 2-.5 1.5-.9 3.5-4.1 1.5-.8 1 .5 3.5 3.9 2.5 .8 2.5-1.1 4-5.2 1.5-.9 1 .7 4.5 6.3 1.5 1 2.5 .7 8.5 .4 10.5-.4 5.5-1 3-1.6 1.5-2.3 1-3.4 1.5-10.5 1.5-20.1 2.5-44.3 1-8.1 .5 .7 .5 3.9 3 49.9 1.5 15.8 1 3.7 .5 .2 1.5-1.9 .5 .3 3 12.3 1.5 3.1 1.5 1.1 2 .3 2.5-.6 4.5-2 4.5-2.5 1 .3 2.5 2 3.5 1.2 5 3 3.5 .5 4.5-.1 3-.6 2-.9 2.5-2.1 2.5-2.9 1.5-3.9 1.5-10.2 4-63.3 1-6.8 .5 1.5 .5 4.6 3 51.6 1.5 17.8 1 6.7 1 3.7 1 2 1.5 1.4 3 1.1 5 .8 17.5 .4 6-.7 5.5-3.4 1 0 3.5 2 2 .4 2.5-.4 2-1.6 1-2 1-3.7 1.5-11.5 3.5-57.6 1-11.3 .5-1.3 1 7.1 4 64.4 1.5 10.8 1 3.5 1.5 2.4 1.5 .9 2 .4 4.5-1.3 1.5-.1 5.5 2.7 6 .6 5-.3 4-2.1 4 2.1 3 .3 3.5-.3 3.5-1.4 3.5 1.2 2.5 .2 4.5-.6 2.5-1 1-1.2 1-2.1 1.5-6.5 4-37.7 1-3.8 .5 1 1 6.9 3 30 2 9.9 1.5 2.7 2 1.1 4.5 .4 5-.8 2.5-1.4 1.5-2.3 1-3.4 1-6.2 2-26.9 3-64.4 .5-5.7 .5-1.7 1 8.6 3 64.8 1.5 21.6 1 7.9 1 4.5 1.5 3 2.5 1.8 6 1.4 7 .2 2-1 2.5-3.5 1-.6 3 4 2 1.4 5.5 .5 10 0 2-.3 1.5-.7 3-3.9 1-.6 3.5 4.4 2.5 1 3.5-.2 4.5-1.2 4 1.3 3 .4 25.5-.1 5-.4 3-.8 2-1.4 3.5-3.9 1-.4 1 .4 3 2.7 2 1.2 2 .3 2-.6 1.5-1.5 1-2.4 1-4.4 1-7.7 4-62.2 1-7.3 .5 1 1 10.5 3.5 56.1 1.5 11.5 1 3.7 1 2 2 1.7 3.5 1 5.5 .7 8.5 .3 13.5-.4 2.5-.6 3.5-2.4 3 .5 1-.3 1.5-1.9 1-3 1.5-9.9 1.5-19.1 2.5-42.9 1-8.2 .5 .4 1 9.8 3.5 56.4 1.5 11.8 1 3.9 1 2.1 1 1.1 1.5 .8 4 .7 3-.3 1-.5 1-1.2 1-2.4 1-4.5 3-21.6 .5-1.8 .5-.2 1 4.2 2.5 18.6 1 4.7 1 2.5 .5 .6 1 .1 1.5-2.5 3-16.7 1-3.4 .5 .4 .5 1.8 2.5 15.5 1.5 5.2 1 1.5 1.5 .9 6 .7"/>
<path stroke="#307081" d="M360.1 877.6l14.5 1.8 17.5 1.1 20.5 .5 23.5-.1 30-1 29.5-1.7 7.5-.9 9.5-2.4 10.5 1.2 18-.9 10.5-.9 10-2 12 1 38-.8 31.5 .6 4.5-.2 3.5-.7 2-1.2 1.5-2.4 1-3.6 1-6.6 2-27.7 2.5-53.4 1-11.7 .5-.2 1 10.8 2.5 53.9 1.5 23.6 1 9.3 1 5.3 1 2.9 1.5 2.1 2 1.3 3 1.2 9 1.8 18.5 2.1 21.5 1.6 14 .5 6.5-.5 3-1.2 6-4.8 3.5-1.6 1.5 .7 4 5.1 2.5 1.4 2.5 .2 3.5-.3 5-1.8 2-1.7 1.5-2.4 2-7.4 1.5-12.8 1.5-24.7 1-28.7 1-49.8 1.5-134.5 .5-16.5 2 163.1 1 45.8 1 26.3 1.5 22.3 1.5 11.1 1 4 1.5 3.3 1.5 1.8 2.5 1.7 2.5 .8 2.5 .3 6-1.6 6 2.7 7 .3 3.5-1.1 4-4.5 1.5-.9 1 .6 3.5 3.7 1 .6 1.5 .1 2.5-1.4 4-5.8 1.5-.8 1 .8 4.5 6.9 2 1.4 2 .6 6 .4 6.5-.2 11.5-1.2 2-.5 1.5-.9 1.5-2.3 1-3.4 1.5-10.4 4-62.2 1-7 .5 1.2 1 10.8 3.5 55.7 1.5 11.1 1.5 4.6 1 1.3 1.5 .8 2.5 .4 3-.1 2-.5 4.5-2.5 6-2.5 4 2.9 2.5 .9 4 2.6 2 .7 3 .4 4-.1 3-.5 2-.8 2.5-1.8 3-3.4 1-2.2 1-4.3 2-19.7 3-49.2 .5-4.3 .5-1.4 1 6.6 3 50.1 1.5 16.8 1 6.2 1 3.4 1 1.8 1.5 1.4 3 1 5 .8 17.5 .4 6-.8 5.5-3.3 1 0 3.5 1.9 2 .5 2.5-.4 2-1.6 1-2 1-3.8 1.5-11.5 3.5-56 1-10.2 .5-.8 1 7.7 2.5 42.7 1.5 19.3 1.5 10.1 1 3.2 1.5 2.2 1.5 .9 2 .3 5.5-1.5 6.5 2.9 8.5 .6 24-.2 5.5-.6 3-1.1 2-2.6 1.5-5.1 1.5-10.3 2.5-25 1-6.3 .5-.6 1 4.2 3.5 33.1 2 9.3 1.5 2.5 2 1 4.5 .4 5-.8 2.5-1.4 1.5-2.4 1-3.4 1-6.3 2-26.9 3-61.8 .5-4.8 .5-1.1 1 9.6 3 62.7 1.5 20.2 1 7.4 1 4 1.5 2.8 2.5 1.7 6.5 1.5 12 .7 12.5-.3 17 .6 11.5-.4 13.5 .5 20-.3 5-.5 3-1 2-1.5 3.5-4.2 1-.4 1 .3 3 3 2 1.4 2 .4 2-.5 1.5-1.5 1-2.5 1.5-8 1.5-16.5 3-48.6 1-6.1 1 6.1 4 60.9 1.5 10.6 1.5 4.5 1.5 1.7 2 1 3.5 .8 5.5 .5 19.5 0 6-.5 4-1 2-1.5 1-1.8 1-3.2 1-5.9 1.5-16.1 3-48.9 1-6.9 .5 1.1 1 10.5 3.5 54.4 1.5 11 1.5 4.7 2 2.1 4 1 4-.2 1-.6 1-1.2 1-2.6 1-4.6 2.5-18.2 1-4.2 .5 .1 .5 1.7 3 21 1 4.3 1 2.2 .5 .5 1 .1 1.5-2.8 3-16.5 1-2.8 1 2.8 2.5 15.1 1.5 4.7 1 1.4 1.5 .7 6 .8"/>
<path stroke="#327281" d="M360.1 868.5l20 2.1 25 1 31-.1 35-1.2 29-2 4-.9 8-3.1 2 .2 6 1.8 4 .4 9.5-.3 13-1 6-1.5 7-4.6 2-.6 2 .6 6 3.6 2.5 .7 3.5 .4 38-.4 29.5 .7 4.5-.2 3.5-.7 2-1.2 1.5-2.3 1-3.6 1-6.5 1.5-18.3 3-60.3 1-10.7 .5 .1 1 11 2.5 52 1.5 22.5 1 8.7 1 5 1 2.8 1.5 1.9 2 1.3 3 1.1 9 1.8 18 2 21 1.4 14 .4 6.5-.5 3.5-1.8 5.5-5.1 4-1.1 1.5 .5 4 5.2 1.5 1.3 1.5 .6 2.5 .3 3.5-.3 5-1.8 2-1.7 1.5-2.3 2-7.4 1.5-12.6 1.5-24.5 1.5-49.5 2-159.1 .5-11.2 2 159.8 1 43 1 24.7 1.5 21.1 1.5 10.5 1 3.7 1.5 3.2 1.5 1.7 2.5 1.5 2.5 .9 2.5 .2 6-1.6 6 2.7 3.5 .4 4-.2 2-.6 1.5-.9 3.5-4.1 1.5-.9 1 .5 3.5 3.7 1 .5 1.5 0 2.5-1.7 4-6.3 1-.8 .5 0 1 .9 4.5 7.6 2 1.5 2 .6 4.5 .4 5-.1 3-.5 5.5-1.9 6.5 .6 1.5-.2 1.5-.8 1.5-2.2 1-3.3 1.5-10.4 4-60.1 1-6 1 5.9 4 59.8 1.5 10.2 1.5 4 1 .9 1 .4 7-.3 2-.7 4-2.2 5-1.3 1.5 .6 3 2.7 3 1.3 3.5 2.4 2 .7 7 .3 3-.4 2-.8 2.5-1.9 3-3.3 1-2.3 1-4.2 2-19.6 3-47.2 .5-3.8 .5-.9 1 7.2 3 48.4 1.5 15.8 1 5.7 1 3.2 1 1.7 1.5 1.2 3.5 1.1 5 .7 17.5 .3 5.5-.7 5.5-3.4 1 .1 3.5 1.9 2 .5 2.5-.5 2-1.6 1.5-3.6 1.5-8.9 1.5-17.6 2.5-41.5 1-9.1 .5-.3 1 8.3 2.5 41.3 1.5 18.2 1.5 9.4 1 2.9 1.5 2 1.5 .8 2 .3 5.5-1.5 6.5 2.8 10.5 .7 22-.3 5-.7 3-1.2 1.5-1.5 1-1.9 1.5-5.4 1.5-10.3 2.5-23.9 1-5.4 .5-.2 1 4.8 3.5 32.3 2 8.7 1.5 2.3 2.5 1.1 4.5 .2 4.5-.7 2.5-1.4 1.5-2.4 1-3.5 1-6.4 2-26.9 2.5-51.8 1-11.3 .5-.3 1 10.3 3 60.6 1.5 18.8 1 6.8 1 3.7 1.5 2.6 2 1.3 6 1.5 10.5 .6 7.5-.1 7.5-1.4 7 1.4 5 .4 8.5-.2 7.5-1.4 10.5 1.7 24-.2 4.5-.5 3-1.1 2-1.7 3-4 1.5-1 1 .4 3 3.2 2 1.6 2 .5 2-.4 1.5-1.6 1-2.4 1.5-8.3 1.5-16.6 2.5-40.9 1-10 .5-.9 1 7 4 59 1.5 9.8 1.5 4.1 1.5 1.6 2 1 3.5 .7 5.5 .5 19.5 .1 6-.6 4-1 2-1.6 1-1.7 1-3.4 1-6.1 1.5-16.2 3-47.4 .5-4.2 .5-1.4 1 6.2 4 59.1 1.5 10.1 1.5 4.3 1 1.2 1.5 .9 4 .8 3.5-.3 1-.6 1-1.3 1.5-4.8 3-20.4 1-3.5 .5 .5 .5 1.9 3 20.4 1 4 1 2 .5 .4 1-.1 1.5-3 3-16.2 .5-1.7 .5-.4 1 3.2 2.5 14.6 1.5 4.3 1 1.2 1.5 .7 6 .7"/>
<path stroke="#337481" d="M360.1 859.3l13 1.5 15.5 1.1 18 .4 21 0 37-1.1 32-1.9 6.5-1.3 7-3.8 2-.6 2 .3 5 2.3 3.5 .9 5 .3 9-.5 9.5-.8 4.5-1.2 3.5-2.2 5.5-5.9 2-.8 2 1.1 6 5.7 2.5 1.2 3.5 .7 39.5 0 27.5 .8 5-.2 3.5-.7 2-1.1 1.5-2.4 1-3.5 1-6.4 1.5-18 3-58 1-9.8 .5 .4 1 11.1 2.5 50.1 1.5 21.4 1 8.3 1 4.7 1 2.5 1.5 1.9 2 1.2 3 1.1 9 1.7 17.5 1.8 21 1.4 13.5 .4 6.5-.5 3.5-1.7 5.5-5.1 1.5-.5 3.5-.4 1.5 .4 4 5 1.5 1.2 1.5 .6 2.5 .3 3.5-.3 5-1.7 2-1.7 1.5-2.3 2-7.3 1.5-12.5 1.5-24.1 1.5-49.3 2-154.5 .5-6.1 2 155.9 1 40.3 1 23.2 1.5 19.8 1.5 9.9 1 3.6 1.5 2.9 1.5 1.6 2.5 1.5 2.5 .8 2.5 .2 6-1.7 6 2.8 3.5 .3 4-.2 2-.5 1.5-.9 3.5-4.1 1.5-.9 1 .5 3.5 3.6 1 .5 1.5 0 2.5-1.8 3.5-5.8 1.5-1.5 .5 0 1 1 4.5 7.7 2 1.6 2 .6 5 .4 5-.3 2.5-.8 4.5-2.4 1.5-.5 6 1.7 1.5 0 1.5-.7 1.5-2.2 1-3.3 1.5-10.3 3.5-51.7 1-10.2 .5-1.2 1 6.4 4 57.4 1.5 9.3 1 2.8 1.5 1.4 4.5-.7 4.5 .2 5-2.3 5-1 1.5 .7 3 2.8 2.5 1.1 4.5 2.9 3 .7 4 .2 4-.4 2.5-.9 2-1.5 3-3 1-1.7 1-3.1 1.5-10.1 3.5-51.1 1-9.1 .5-.4 1 7.6 2.5 39.8 1.5 17.8 1.5 9.2 1.5 3.9 1.5 1.5 3 1.1 4.5 .7 7 .4 10.5 .1 5.5-.4 2.5-.8 3.5-2.5 1.5-.5 5 2.4 2 .1 2-.6 1.5-1.4 1-2 1-3.8 1-6.8 1.5-17.4 2.5-39.8 1-8.1 .5 .2 1 8.7 2.5 39.9 1.5 17.1 1.5 8.7 1 2.7 1.5 1.8 1.5 .7 2 .3 5.5-1.6 5 2.4 2 .6 11 .5 21-.3 4.5-.7 3-1.2 1.5-1.4 1-1.6 2-6.8 4-33.1 1-4.5 .5 .1 1 5.2 3.5 31.5 2 8.1 1.5 2.1 2 .9 4.5 .4 4.5-.6 3-1.6 1.5-2.4 1-3.5 1-6.5 1.5-18.1 3-58.3 1-9.9 .5 .3 1 11 2.5 50 2 25.9 1 6.2 1 3.3 1.5 2.4 2 1.3 7 1.4 13 .5 4.5-.4 5.5-1.9 2-.2 7.5 2.4 7.5 .4 5.5-.5 5.5-1.9 2-.3 6 2.1 4 .6 24-.1 4.5-.5 3-1.1 2-1.8 3-4.1 1.5-.8 1 .4 3 3.2 2 1.6 2 .5 2-.4 1.5-1.6 1-2.6 1.5-8.4 1.5-16.8 2.5-39.6 1-8.9 .5-.3 1 7.8 3.5 52.3 1.5 11.6 1 3.9 1 2.1 1.5 1.5 2.5 1 9 1.1 19.5 0 6-.6 3.5-1 2-1.6 1-1.8 1-3.5 1-6.2 1.5-16.5 2.5-39.8 1-9.4 .5-.8 1 7.1 2.5 39.4 1.5 17.9 1.5 9.3 1.5 3.9 2 1.7 3.5 .9 4-.1 2-1.4 1-2 1-3.7 3-19.9 1-2.9 1 2.9 3 19.8 1 3.6 1 1.8 1 .4 .5-.3 1-1.6 1-3.6 2.5-13.8 .5-1.4 .5-.1 1 3.5 2.5 14.1 1.5 4 1 1 1.5 .7 6 .6"/>
<path stroke="#357781" d="M360.1 850.1l18.5 1.9 23 1 28.5-.1 33.5-1 24-1.2 11.5-1 5-1.5 6-3.9 2-.6 2 .4 5.5 2.9 3.5 .9 5 .3 10-.5 8.5-.8 4.5-1.3 3.5-2.4 5-5.4 2-.8 2 1.1 6 5.7 2.5 1.2 3.5 .7 39.5 .1 27.5 .8 5-.2 3.5-.6 2-1.1 1.5-2.3 1-3.4 1-6.4 1.5-17.6 3-55.8 1-8.9 .5 .7 1 11.1 2.5 48.3 1.5 20.3 1 7.8 1 4.4 1 2.4 1.5 1.8 2 1.1 3 1.1 9 1.6 17.5 1.8 20.5 1.2 13 .3 6.5-.4 2-.6 2-1.2 5.5-4.9 6-.6 1.5 .7 4 4.8 2.5 1.3 2.5 .3 3.5-.4 5-1.6 2-1.6 1.5-2.4 2-7.2 1.5-12.3 1.5-23.8 1.5-49 2-149.3 .5-1.4 2 151.4 1 37.7 1 21.8 1.5 18.7 1.5 9.3 1 3.3 1.5 2.8 1.5 1.5 2.5 1.4 2.5 .8 2.5 .1 6-1.7 6 2.7 3.5 .4 4-.2 2-.5 1.5-1 3.5-4.1 1.5-.9 1 .5 3.5 3.7 1 .5 1.5 0 2.5-1.9 3.5-5.7 1.5-1.5 .5 0 1 1 4.5 7.7 2 1.5 2 .7 5 .4 5-.4 2.5-.7 4.5-2.5 1.5-.4 6 1.7 1.5 0 1.5-.7 1-1.1 1-2.4 1.5-7.9 1.5-15.8 2.5-38.5 1-9.3 .5-.7 1 6.7 2.5 37.9 1.5 17.1 1.5 8.7 1 2.6 1.5 1.2 4.5-.8 4.5 .2 5-2.3 5-1 1.5 .7 3 2.8 6.5 3.8 3 .9 4.5 .1 4-.4 2.5-.8 2.5-1.9 2.5-2.6 1.5-3 1.5-7.6 1.5-15.8 2.5-37.8 1-8 .5-.1 1 8 3.5 50.6 1.5 11 1 3.7 1 2 1.5 1.4 3 1.1 5 .7 7 .3 10 .1 5.5-.4 2.5-.8 3.5-2.5 1.5-.5 5 2.4 2 .1 2-.6 1.5-1.4 1-2 1-3.9 1-6.7 1.5-17.3 2.5-38.1 1-7 .5 .7 1 9 2.5 38.5 1.5 16 1.5 8 1 2.4 1 1.3 2 1.1 2 .2 5.5-1.6 6.5 2.8 10 .6 22-.3 5-.6 3-1.3 1.5-1.3 1-1.6 2-6.9 4-32 1-3.9 .5 .5 1 5.4 3.5 30.2 2 7.4 1.5 2 2 .9 4.5 .3 4.5-.6 2.5-1.1 1.5-1.8 1.5-4.7 1-6.6 1.5-18 3-56 1-8.5 .5 1 .5 4.3 3 55.3 2 24.1 1 5.7 1 3.1 1.5 2.1 2 1.2 3 .9 4.5 .6 12.5 .4 4.5-.4 5.5-1.9 2-.3 7.5 2.4 7.5 .4 5.5-.5 5.5-1.9 2-.3 6 2.1 4 .6 24 0 4.5-.5 2.5-.9 2.5-2.1 3-4 1.5-.7 1 .4 3 3.2 2 1.4 2 .6 2-.5 1.5-1.6 1-2.7 1.5-8.6 1.5-16.9 2.5-38.4 1-7.6 .5 .2 1 8.5 2.5 38.7 1.5 16.4 1.5 8.4 1.5 3.4 1.5 1.3 2.5 1 9 1 19 0 5.5-.4 4-1 2-1.2 1-1.4 1-2.6 1-4.9 2-20.2 2.5-38.5 1-8.3 .5-.1 1 7.9 3.5 50.7 1.5 11 1 3.7 1 2 2 1.6 4 .8 3.5-.2 2-1.4 1-2.1 1-3.8 3-19.4 .5-1.8 .5-.5 1 3.4 3 19.2 1 3.3 1 1.5 1 .3 .5-.4 1-1.8 1-3.6 2-11.1 1-3.4 .5 .2 .5 1.5 2.5 13.8 1 3.7 1 2 1 1 1.5 .5 6 .6"/>
<path stroke="#377980" d="M360.1 841.0l19 1.9 24 .8 30-.1 35-1.2 22-1.1 9.5-1 4.5-1.5 6-3.9 2-.7 2 .4 5.5 3.2 3.5 .9 5.5 .3 10.5-.5 8-.8 4-1.1 3.5-2.5 5-5.3 2-.8 2 1 6 5.8 2.5 1.2 3.5 .7 40 .2 27 .8 5-.2 3.5-.6 2-1.1 1.5-2.3 1-3.4 1-6.3 1.5-17.3 3-54.1 1-8.1 .5 .9 1 11.3 2.5 46.8 1.5 19.4 1 7.4 1 4.1 1 2.3 1.5 1.7 2 1.1 3 1 9.5 1.6 17.5 1.7 20 1.2 13.5 .2 6-.5 3-1.4 5-4.5 1.5-.7 3.5 .5 2.5-.3 1 .2 4.5 4.7 3 1.3 5.5-.2 5-1.6 2-1.6 1.5-2.3 2-7.1 1.5-12.2 1.5-23.5 1.5-48.6 2-143.2 .5 3.2 2 145.7 1 35.1 1 20.5 1.5 17.6 1.5 8.8 1 3.1 1.5 2.6 1.5 1.5 2.5 1.3 2.5 .7 2.5 .2 6-1.6 6 2.6 3.5 .3 4-.2 2-.5 1.5-.8 3.5-3.9 1.5-.8 1 .4 3.5 3.4 2 .5 1.5-.5 1.5-1.4 3.5-5.5 1.5-1.4 1.5 1 4.5 7.4 2 1.5 2 .6 5 .4 5-.4 2.5-.7 4.5-2.5 1.5-.4 6 1.7 1.5 0 1.5-.7 1-1.2 1-2.4 1.5-7.8 1.5-15.7 2.5-37.3 1-8.4 .5-.4 1 7.1 2.5 36.9 1.5 16.2 1.5 8.2 1 2.3 1 .9 1.5 .2 3.5-.9 4.5 .2 5-2.3 5-.7 1.5 .8 3 2.6 6.5 3.6 3 .9 4 .1 4-.3 3-.9 2.5-1.8 2.5-2.6 1-1.7 1-3.1 1.5-10.2 3.5-48 1-7.1 .5 .4 1 8.3 2.5 37.4 1.5 15.8 1.5 8 1.5 3.3 1.5 1.3 3 1 10.5 .9 11 .1 6-.3 2.5-.8 3.5-2.3 1.5-.5 5 2.2 3-.1 1.5-.7 1.5-2 1-2.9 1-5.2 1.5-14.3 3-43.3 1-6.1 .5 1.1 1 9.4 3.5 48.3 1.5 9.7 1 3.1 1.5 2.2 2 .9 2 .2 5.5-1.4 6.5 2.6 10.5 .6 22-.3 4.5-.7 3-1.2 1.5-1.4 1-1.6 1.5-4.6 1.5-8.7 3-24.8 1-3.3 .5 .7 1 5.7 3 26.1 2 8.9 1.5 2.5 2 1.1 4.5 .4 5-.6 2.5-1.2 1.5-1.8 1.5-4.8 1-6.6 1.5-18.1 3-54.1 1-7.2 .5 1.5 .5 4.8 3 53.9 1.5 18.7 1 6.9 1 3.9 1.5 2.7 2.5 1.6 7.5 1.3 12.5 .4 4.5-.4 5.5-1.9 2-.3 7.5 2.4 7.5 .4 5.5-.4 5.5-2 2-.2 6 2 4 .7 24-.1 4.5-.5 2.5-.9 2-1.5 3.5-4.4 1.5-.8 1 .5 3 3.1 2 1.4 2 .6 2-.5 1.5-1.8 1-2.7 1.5-8.8 4-53.9 1-6.5 .5 .8 1 9.1 3.5 48.8 1.5 9.9 1.5 4.3 1.5 1.7 2 .9 8.5 1.2 20 .1 6-.5 4-.9 2-1.3 1-1.4 1-2.8 1-5 1.5-13.8 3-43.8 1-7 .5 .5 1 8.6 3.5 48.9 1.5 10.2 1 3.4 1 1.7 2.5 1.7 4 .6 3-.2 2-1.6 1-2.1 1-4 3-18.7 .5-1.5 .5-.1 1 3.8 2.5 16.1 1 4 1 2.1 .5 .5 1 .1 1.5-2.3 3-14.5 1-2.8 .5 .4 .5 1.7 2.5 13.4 1.5 4.5 1 1.2 1.5 .8 6.5 .6"/>
<path stroke="#397b80" d="M360.1 831.8l20 1.9 24.5 .8 31.5-.2 37-1.3 19-1.1 8-.9 4-1.4 6-4.2 2-.6 2 .5 5.5 3.3 3.5 1 5.5 .3 10.5-.4 8-.8 4-1.1 3.5-2.3 5-5.2 2-.7 2 1 6 5.5 2.5 1.2 3.5 .7 40 .1 27 .8 5-.2 3.5-.6 2-1.1 1.5-2.3 1-3.4 1-6.3 1.5-17.1 3-52.6 1-7.5 .5 1.2 1 11.4 2.5 45.6 1.5 18.6 1.5 9.3 1 2.9 1.5 2.1 2 1.3 2.5 .9 9 1.7 16.5 1.6 20.5 1.2 14 .4 6.5-.5 3.5-1.4 4.5-4.2 2-.8 3.5 1.1 4 0 4.5 4 2.5 1.1 6-.2 5-1.6 2-1.5 1.5-2.3 2-7.1 1.5-12.1 1.5-23.2 1.5-48.2 2-136.7 .5 7.4 2 139.6 1.5 43.6 1.5 20.8 1.5 10.5 1 3.8 1.5 3.1 1.5 1.6 2.5 1.5 5 1.1 6.5-1.3 6 2.2 7 .2 3.5-.9 4.5-4.1 1-.3 1 .4 3.5 2.9 2 .4 1.5-.6 1.5-1.3 3.5-5.1 1.5-1.2 1.5 .9 4.5 6.8 2 1.4 2 .6 5 .3 5-.3 2.5-.7 6-2.8 6 1.6 1.5 0 1.5-.7 1-1.2 1-2.4 1.5-8 1.5-15.6 2.5-36.2 1-7.7 .5 0 1 7.5 3.5 47.3 1.5 10 1.5 4 1 .9 1 .2 4-.9 4 .2 5.5-2.3 5-.2 1 .3 3 2.4 8.5 4.2 7 .4 3-.4 2.5-.7 3-2.1 2.5-2.8 1-2.4 1-4.5 1.5-13 3-41.6 1-6.4 .5 .7 1 8.8 3.5 47.3 1.5 9.8 1 3.2 1 1.7 1.5 1.2 3 .9 11 1 16.5-.2 2.5-.7 3.5-2.1 1.5-.4 5 1.9 3-.2 1.5-.8 1.5-2 1-2.9 1-5.3 1.5-14.3 3-42.1 1-5.2 1 5.3 4 52.6 1.5 9.1 1 2.9 1.5 2 2 1 2 .2 5.5-1.2 7 2.4 10.5 .4 21.5-.3 4.5-.6 3-1.2 1.5-1.4 1-1.7 1.5-4.6 1.5-8.7 3-24.1 .5-2.1 .5-.7 .5 1 1 5.9 3 25.3 2 8.3 1.5 2.3 2 1 4.5 .4 5-.6 2.5-1.1 1.5-1.9 1-2.8 1-5.1 2-22 3-52.4 .5-4.6 .5-1.4 1 7.2 3 52.8 1.5 17.5 1 6.5 1 3.6 1.5 2.5 2.5 1.4 7.5 1.3 12.5 .4 4.5-.4 5.5-1.8 2-.3 7.5 2.4 7.5 .3 5.5-.4 5.5-1.8 2-.3 6 2 4 .6 24-.1 4.5-.5 2.5-.9 2-1.5 3.5-4.4 1.5-.6 1 .5 3 3 2 1.4 2 .5 2-.5 1.5-1.8 1-2.9 1.5-8.9 4-52.5 1-5.4 1 5.1 4 52.8 1.5 9.2 1.5 3.9 1.5 1.5 2 .9 9 1.1 19.5 .1 6-.5 4-.9 2-1.3 1-1.5 1-2.9 1-5.1 1.5-14 3-42.3 1-5.8 .5 1 1 9.2 3.5 47.1 1.5 9.4 1.5 4 2 1.8 4 .9 4-.2 2-1.6 1-2.3 1-4 2.5-15.8 1-3.5 .5 .2 .5 1.6 3 18.1 1 3.6 1 1.9 .5 .5 1 0 1.5-2.5 3-14.3 1-2.3 1 2.5 2.5 13.1 1.5 4 1 1.1 1.5 .7 6.5 .6"/>
<path stroke="#3c7d7f" d="M360.1 822.6l20.5 1.9 25.5 .8 32.5-.3 38-1.4 16.5-.9 7-.9 4-1.5 6-4.3 2-.6 2 .6 5.5 3.4 3.5 1.1 5.5 .3 10.5-.4 7.5-.6 4.5-1.1 3.5-2.1 5-4.7 2-.7 2 .9 6 5 2.5 1.1 3.5 .6 39.5 .1 27.5 .7 5-.2 3.5-.6 2-1.1 1.5-2.3 1-3.4 1-6.2 1.5-17 3-51.1 1-6.7 .5 1.4 .5 4.5 3 51.4 1.5 17.8 1.5 8.8 1 2.8 1.5 2 2 1.2 2.5 .9 9 1.6 16.5 1.6 20.5 1.2 13.5 .3 6.5-.5 3.5-1.5 4.5-4 1.5-.7 1 .1 3.5 1.7 4 .1 4.5 3.3 2.5 .9 6-.2 5-1.6 1.5-1 1.5-1.8 2-5.5 1.5-9.5 1.5-18.6 1-21.1 1-36 2-129.6 .5 11 2 133.2 1.5 40.8 1.5 19.6 1.5 9.9 1 3.6 1.5 2.9 1.5 1.5 2.5 1.5 5 1 6.5-1 6 1.9 7 .2 3.5-.8 4.5-3.5 1-.3 4.5 2.8 2 .2 2.5-1.3 4-5.1 1.5-1.1 1.5 .9 4.5 6.2 2 1.3 2 .5 5 .4 5-.4 2.5-.6 6-2.6 6 1.5 1.5-.1 1.5-.7 1-1.3 1-2.4 1.5-8 1.5-15.6 2.5-35.1 1-6.9 .5 .3 1 7.8 3.5 45.9 1.5 9.5 1.5 3.8 1 .8 1 .2 4-.8 3.5 .1 2-.5 4-1.9 4.5 .2 1.5 .4 3 2.1 3 1.1 3.5 2 2 .7 7 .4 5.5-1 3-1.9 2.5-2.8 1-2.5 1-4.6 1.5-13.1 3-40.5 1-5.5 .5 1 .5 3.6 3 40.9 1.5 14.2 1 5.4 1 2.9 1 1.6 2 1.4 3.5 .9 5.5 .5 17.5 .2 5-.5 5.5-2.4 6.5 1.5 2.5-.5 1.5-1 1-1.6 1-3 1.5-9.3 3.5-45.8 1-8.7 .5-.9 1 5.8 4 51.1 1.5 8.5 1 2.7 1.5 1.9 1.5 .7 2.5 .4 5.5-1 7 2.1 10.5 .4 21.5-.3 4.5-.6 3-1.2 1.5-1.3 1-1.7 1.5-4.6 1.5-8.7 2.5-20.4 1-4.8 .5-.4 1 3.7 3.5 27.9 2 7.8 1.5 2.1 2 1 4.5 .3 5-.6 2.5-1.1 1.5-2 1-2.8 1-5.2 2-22.2 3-50.7 .5-3.9 .5-.8 1 7.9 3 51.6 1.5 16.5 1 6 1 3.3 1.5 2.3 2 1.2 7 1.4 13 .4 5-.3 5.5-1.7 2-.2 7.5 2.1 7 .3 6-.4 5.5-1.7 2-.2 6 1.8 4 .6 24-.1 4.5-.5 2.5-.9 2-1.6 3.5-4.2 1-.6 1.5 .5 3 2.9 2 1.4 2 .5 2-.5 1-1 1-2.1 1.5-7 1.5-14.3 2.5-35.2 1-8.7 .5-.8 1 5.8 4 51 1.5 8.5 1.5 3.5 1.5 1.4 2 .8 9 1.1 20 0 6-.5 3.5-.8 2-1.4 1-1.5 1-3 1-5.2 1.5-14.1 3-40.8 .5-3.5 .5-1.1 1 5.4 4 50.9 1.5 8.7 1.5 3.6 2 1.6 3.5 .8 4 0 2-1.2 1-1.6 1-3.2 3-17.6 1-2.9 .5 .5 .5 1.7 3 17.6 1 3.3 1 1.7 .5 .4 1-.2 1.5-2.6 3-14 .5-1.4 .5-.3 1 2.9 2.5 12.5 1.5 3.7 1 1 1.5 .6 6.5 .6"/>
<path stroke="#407f7e" d="M360.1 813.4l21 1.9 26 .8 33.5-.4 39-1.4 15-.9 6-.9 3.5-1.4 6-4.5 2-.6 2 .6 5.5 3.7 3 1 5 .4 11-.3 8-.6 4.5-1 3.5-1.9 5-4.3 2-.6 2 .8 6 4.5 2.5 1 3.5 .6 39.5 0 27.5 .7 5-.2 3.5-.6 2-1.1 1.5-2.3 1-3.4 1-6.2 1.5-16.8 3-49.6 1-6.1 1 6.3 3 50 1.5 17.1 1.5 8.4 1 2.6 1.5 2 2 1.1 2.5 .8 8.5 1.5 16 1.6 20 1.1 14.5 .4 6.5-.5 3-1.2 5-4.3 1.5-.6 1 .2 4 2.4 4.5 .3 3.5 2.3 2.5 .9 6-.1 5-1.4 2-1.3 1.5-1.7 2-5.5 1.5-9.4 1.5-18.3 1-20.9 1-35.6 2-122.2 .5 14.2 1.5 104.4 1 38.4 1 21.8 1.5 18.5 1.5 9.3 1 3.3 1.5 2.8 1.5 1.5 2.5 1.3 5 1 6.5-.8 6 1.7 7 .2 3.5-.7 4.5-2.9 1-.3 4.5 2.3 2 .1 2.5-1.3 4-4.7 1.5-.9 1.5 .9 4.5 5.6 2 1.2 2 .5 5 .3 5-.3 8.5-2.9 6 1.2 1.5-.1 1.5-.7 1-1.3 1-2.5 1.5-8.1 1.5-15.4 2.5-34.1 1-6.1 .5 .6 1 8.2 3.5 44.4 1.5 9 1.5 3.5 1 .8 1 .2 4-.7 3.5 0 2-.7 3-1.6 1.5-.3 5 1 3 1.8 3 .9 4 2.2 2.5 .7 7.5 .2 5-1.1 3-1.9 2-2.4 1-2.6 1-4.7 1.5-13.1 3-39.4 1-4.7 1 5.1 3 40 1.5 13.4 1 5 1 2.8 1 1.5 1.5 1 3.5 1 5 .5 18.5 .3 5-.4 5.5-2 5 1.1 2 0 2-.5 1.5-1.1 1-1.6 1-3.1 1.5-9.3 3.5-44.8 1-8 .5-.5 1 6.4 2.5 34.1 1.5 15.4 1.5 7.9 1 2.6 1.5 1.7 3.5 1.1 6-.8 7 1.9 10.5 .3 21.5-.3 4.5-.6 3-1.1 1.5-1.3 1-1.7 1.5-4.7 1.5-8.6 2.5-19.9 1-4.3 .5-.2 1 4 3.5 27.1 2 7.3 1.5 2 2.5 .9 4.5 .2 4.5-.6 2.5-1.1 1.5-2 1-2.9 1-5.4 2-22.2 2.5-42.9 1-9.3 .5-.2 1 8.6 3 50.2 1.5 15.5 1 5.6 1 3 1.5 2.1 2 1.2 6 1.2 10 .5 8.5-.2 7.5-1.8 7 1.7 4.5 .5 8.5-.2 8-1.9 7 1.7 3.5 .4 24-.1 4.5-.5 2.5-.9 2-1.5 3.5-4.2 1-.4 1.5 .5 3 2.8 2 1.3 2 .5 1.5-.3 1.5-1.3 1-2.2 1.5-7.1 1.5-14.3 2.5-34 1-7.7 .5-.3 1 6.5 3.5 44.9 1.5 10 1 3.4 1 1.8 1.5 1.3 2.5 .9 9 .9 19.5 0 6-.5 3.5-.9 2-1.3 1-1.6 1-3.1 1-5.3 1.5-14.2 2.5-34.1 1-8 .5-.5 1 6.2 2.5 33.8 1.5 15.2 1.5 8 1.5 3.2 2 1.5 3.5 .7 4-.1 2-1.1 1-1.8 1-3.2 3-17.1 1-2.4 1 2.7 3 16.9 1 3.1 1 1.5 1 .3 .5-.3 1-1.5 1-3 2.5-11.9 .5-1.1 .5-.1 1 3.2 2.5 12 1.5 3.4 1 .9 1.5 .5 6.5 .5"/>
<path stroke="#44817d" d="M360.1 804.3l20.5 1.8 26 .8 33.5-.3 38.5-1.4 15-.8 6.5-.9 4-1.6 6-4.7 2-.6 2 .7 5.5 3.8 4 1.3 8.5 .2 15-.9 5.5-1.4 7-4.9 2-.6 2 .7 6 4.1 2.5 .8 3.5 .5 39 0 28 .6 5-.2 3.5-.6 2-1.1 1.5-2.3 1-3.4 1-6.1 1.5-16.6 3-48 .5-4.2 .5-1.3 1 6.5 4 60.7 1 7.8 1 4.6 1 2.5 1.5 1.8 4.5 1.9 8.5 1.5 16 1.4 20 1.2 13.5 .3 6.5-.4 3.5-1.3 5-4.4 1.5-.4 1.5 .6 3.5 2.5 4.5 .3 6 2.7 6-.1 5.5-1.4 2-1.2 1.5-1.8 2-5.3 1.5-9.4 1.5-18 1-20.6 1-35.2 2-114.5 2 116.1 1 35.6 1 20.4 1.5 17.4 1.5 8.8 1 3.1 1.5 2.6 1.5 1.4 2.5 1.2 4.5 1 6.5-.5 6.5 1.4 6.5 .2 4-.6 5.5-2.5 4 1.6 2 .2 3-1.4 4-4.2 1.5-.8 1.5 .8 4.5 5.1 2 1.1 2 .5 5 .2 5-.2 8.5-2.6 6 .9 2.5-.5 1.5-1.7 1-2.5 1.5-8.1 4-48.2 1-5.4 .5 .9 1 8.4 3.5 43 1.5 8.4 1 2.6 1.5 1.5 1.5 .1 7-.7 5-2.3 1.5-.2 4.5 1.2 3.5 1.7 3 .7 5 2.4 6 .6 4.5-.2 3-.7 2.5-1.2 2-1.6 1-1.5 1-2.6 1.5-8.4 3.5-42.7 1-8.3 .5-.8 1 5.6 4 48.3 1.5 8.1 1.5 3.3 1.5 1.4 3 1 11 .9 16 0 3.5-.5 4.5-1.5 5.5 .8 3.5-.6 1.5-1.1 1-1.7 1-3.1 1-5.5 1.5-14.3 2.5-33.3 1-7.1 .5-.1 1 6.8 2.5 33.3 1.5 14.5 1.5 7.5 1 2.3 1.5 1.6 3.5 1.1 6-.5 7 1.5 10.5 .3 21.5-.3 4.5-.6 3-1 1.5-1.3 1-1.7 1.5-4.7 1.5-8.6 2.5-19.3 1-3.9 .5 .1 1 4.3 3.5 26.2 2 6.8 1.5 1.8 2 .8 4.5 .3 4.5-.5 2.5-1 1.5-1.5 1.5-3.9 1-5.4 1.5-15.2 3-48.7 1-8.1 .5 .3 1 9.3 2.5 41.7 2 21.5 1 5.2 1 2.8 1.5 2 2 1 6 1.2 10 .5 8.5-.2 7.5-1.6 7 1.6 4.5 .4 8.5-.2 8-1.7 7 1.6 3.5 .3 23.5-.1 4.5-.4 3-1 2-1.6 3-3.5 1.5-.9 1.5 .5 5 4 2 .5 1.5-.3 1.5-1.4 1-2.2 1.5-7.3 1.5-14.3 2.5-32.7 1-6.7 .5 .2 1 7.1 2.5 33 1.5 14.1 1.5 7.2 1.5 2.9 1.5 1.2 2.5 .8 9 .9 19 0 5.5-.4 4-.8 2-1.1 1-1.2 1-2.3 1-4.1 1.5-11.8 3-38.4 1-6.9 .5-.1 1 6.9 3.5 43.2 1.5 9.4 1 3.1 1 1.6 2 1.4 4 .7 3.5-.2 2-1.2 1-1.9 1-3.3 3-16.5 .5-1.5 .5-.3 1 3 3 16.3 1 2.8 1 1.3 1 .2 .5-.3 1-1.6 3-12.7 1-2.7 .5 .2 .5 1.3 3 13.6 1.5 3 1 .8 1.5 .5 6.5 .5"/>
<path stroke="#49837c" d="M360.1 795.1l20 1.8 24.5 .7 32-.2 37.5-1.1 18.5-1 7.5-1 4-1.7 5.5-4.4 2-.9 2 .4 5 3.7 3 1.4 3.5 .6 5.5 .1 13-.5 6.5-.7 4-1.6 5.5-3.6 2-.5 2 .6 6 3.6 2.5 .7 3.5 .4 39 0 27.5 .6 8.5-.7 2.5-1.2 1.5-2.3 1-3.4 1-6.1 1.5-16.3 2.5-40.4 1-10 .5-1 1 6.8 4 58.8 1 7.4 1 4.4 1 2.3 1.5 1.7 4.5 1.9 8.5 1.4 16 1.4 20 1.1 13.5 .3 6-.4 3.5-1.4 4.5-3.9 1.5-.8 1.5 .4 3.5 2.8 1.5 .8 4 .3 5.5 1.9 6.5-.1 5.5-1.4 2-1.2 1.5-1.7 2-5.3 1.5-9.2 1.5-17.8 1-20.3 1-34.7 1.5-93.4 .5-13.1 2 112.8 1 33 1 19.1 1.5 16.4 1.5 8.2 1 2.9 1.5 2.5 1.5 1.3 2.5 1.2 4.5 .9 7-.2 5 1 4 .3 7-.4 6-2 5.5 1.3 3-1.1 4.5-4.2 1.5-.6 1.5 .8 4.5 4.5 4 1.4 10 .1 8.5-2.4 6 .8 2.5-.6 1.5-1.7 1-2.6 1.5-8.1 4-46.9 1-4.7 1 4.6 4 46.7 1.5 7.9 1 2.5 1.5 1.4 1.5 .2 7-.8 5-2.5 1.5-.1 7.5 3.1 4 .7 4.5 2.1 5.5 .5 4.5-.1 3.5-.7 2.5-1 2-1.6 1-1.5 1-2.7 1.5-8.5 3.5-41.8 1-7.5 .5-.5 1 6 2.5 32.2 1.5 14.5 1.5 7.6 1.5 3.1 1.5 1.3 3 .9 11.5 .9 16 0 7.5-1.5 5.5 .5 3.5-.8 1.5-1.1 1-1.7 1-3.2 1-5.5 1.5-14.3 2.5-32.2 1-6.3 .5 .2 1 7.3 2.5 32.4 1.5 13.7 1.5 7 1 2.1 1.5 1.5 4 1.1 5.5-.3 7 1.2 10.5 .3 21.5-.3 4.5-.6 3-1 1.5-1.3 1-1.6 1.5-4.7 4-27.2 1-3.4 .5 .3 1 4.4 3.5 25.3 2 6.3 1.5 1.7 2 .7 4.5 .3 4.5-.5 2.5-1 1.5-1.5 1.5-4 1-5.5 1.5-15.3 3-47.2 1-7 .5 .8 .5 3.7 3 46.7 2 20.2 1 4.8 1 2.6 1.5 1.8 2 1 6 1.1 10.5 .5 8-.2 7.5-1.4 7 1.4 4.5 .4 8.5-.2 8-1.5 10.5 1.7 23.5-.1 4.5-.4 3-1 2-1.6 3-3.5 1.5-.8 1.5 .5 5 3.9 2 .5 1.5-.3 1.5-1.4 1-2.3 1.5-7.4 4-45.7 1-5.6 .5 .7 1 7.6 3.5 41.4 1.5 8.5 1.5 3.7 1.5 1.4 2 .8 8.5 1 20 .1 6-.5 4-.7 2-1.1 1-1.3 1-2.3 1-4.3 1.5-11.8 3-37.1 1-5.8 .5 .5 1 7.4 3.5 41.4 1.5 8.6 1 2.8 1 1.5 2.5 1.4 4 .5 3-.2 2-1.3 1-1.9 1-3.4 3-15.9 .5-1.2 .5 0 1 3.3 2.5 13.7 1 3.3 1 1.8 1.5 .5 1.5-2 3-12.4 1-2.3 1 1.9 2.5 11.4 1.5 3.7 1 1.1 1.5 .6 7 .5"/>
<path stroke="#4d867b" d="M360.1 785.9l21.5 1.8 27.5 .7 36.5-.4 40-1.4 10.5-.8 5-1 3.5-1.8 5.5-4.6 2-.5 2 .8 4 3.2 2.5 1.4 3 .8 3.5 .4 13.5-.3 9-.8 3.5-1 6.5-3.6 2-.4 2 .6 6 3 6 1 38.5-.1 28 .5 8.5-.6 2-.9 1.5-1.6 1-2.5 1-4.5 2-19.6 3-44.9 .5-3.6 .5-.7 1 7 4 57 1 7 1 4.1 1 2.3 1.5 1.6 2.5 1.2 3.5 .9 11.5 1.4 24 1.7 21 .6 4.5-.2 3-.8 2.5-1.5 3.5-3.3 1.5-.6 1.5 .4 5 4 5 .7 4 1 7 0 6-1.3 2-1.2 1.5-1.7 2-5.3 1.5-9 1.5-17.5 1.5-34.5 2-108.6 .5-9.3 2 108.8 1 30.6 1 17.8 1.5 15.4 1.5 7.7 1 2.8 1.5 2.3 1.5 1.2 2.5 1.1 5 1 6.5 0 8.5 .9 7.5-.2 6-1.4 5.5 .7 2.5-.8 5-4 1.5-.5 1.5 .8 4.5 4 2 .8 2.5 .5 9 0 3-.5 5.5-1.6 6.5 .5 2.5-.6 1.5-1.8 1-2.6 1.5-8.1 3.5-40.7 1-8 .5-.9 1 5 4 45.3 1 5.6 1 3.2 1 1.6 1.5 .8 8-.7 4.5-2.4 1.5-.4 7.5 3.4 4 .4 4 1.8 3 .6 5.5 .1 5-.4 3.5-1.1 2-1.5 1.5-2.7 1.5-6.7 1.5-13.2 2.5-31.3 1-6.7 .5-.2 1 6.4 3.5 41.3 1.5 9.1 1 3.1 1 1.6 1.5 1.2 3 .8 12 .9 16 0 7-1.1 6 .1 3-.7 1.5-1.2 1-1.7 1-3.2 1-5.6 4-45.3 1-5.6 .5 .7 1 7.5 2.5 31.5 1.5 13 1.5 6.4 1 2 1 1.1 2 .9 2.5 .5 5.5 0 6.5 .8 7.5 .2 24.5-.2 5-.5 3-1 1.5-1.3 1-1.6 1.5-4.7 4-26.5 1-3 .5 .5 1 4.7 3 21.8 2 7.4 1.5 2.1 2 1 4.5 .3 5-.5 2.5-1 1.5-1.5 1.5-4.1 1-5.6 1.5-15.3 3-45.7 1-5.9 .5 1.3 .5 4 3 45.6 1.5 15.7 1 5.8 1 3.2 1.5 2.3 2.5 1.3 6 1.1 10.5 .5 8-.2 7.5-1.2 7 1.2 5 .4 8.5-.2 7.5-1.2 10.5 1.4 23.5-.2 4.5-.4 3-1 2-1.5 3-3.4 1.5-.8 1.5 .6 5 3.8 2 .4 1.5-.3 1.5-1.5 1-2.3 1.5-7.4 4-44 1-4.5 .5 1 1 8 3.5 39.3 1.5 7.8 1.5 3.3 1.5 1.3 2 .7 9 1 19.5 0 6-.4 4-.7 2-1.1 1-1.3 1-2.4 1-4.3 1.5-11.8 3-35.4 1-4.8 .5 .9 1 7.8 3.5 39.4 1.5 7.8 1.5 3.3 2.5 1.7 4 .6 3.5-.2 2-1.4 1-1.9 1-3.4 2.5-13.2 1-2.9 .5 .3 .5 1.3 3 15.2 1 3 1 1.6 1.5 .3 1.5-2.2 3-12 1-1.7 1 2.2 2.5 10.9 1.5 3.3 1 .9 1.5 .6 7 .5"/>
<path stroke="#518879" d="M360.1 776.7l21.5 1.8 28 .7 37.5-.4 40-1.5 9.5-.7 4.5-1 3-1.5 5.5-4.7 2-.9 2 .6 4.5 3.6 2.5 1.5 3 .8 3.5 .4 13-.2 9.5-.7 3.5-.9 6.5-3 2-.4 2 .5 6 2.5 6 .8 38.5-.1 28 .5 8.5-.7 2-.8 1.5-1.6 1-2.5 1-4.5 2-19.3 2.5-37.9 1-8.7 .5-.5 1 7.2 2.5 38 1.5 17.1 1 6.7 1 3.9 1 2.1 1.5 1.5 2.5 1.2 3.5 .8 11.5 1.4 24 1.6 20.5 .6 4.5-.2 3-.8 2.5-1.6 3.5-3.2 1.5-.6 1.5 .6 4.5 3.8 3 1.1 10.5 1 5.5-.5 4-1.1 2-1.2 1.5-1.6 2-5.2 1.5-8.9 1.5-17.2 1.5-33.8 2-103.6 .5-5.6 2 104.3 1 28.2 1 16.7 1.5 14.4 1.5 7.2 1 2.6 1.5 2.1 1.5 1.2 2.5 1.1 5.5 1 13.5 .7 8 0 6.5-.7 4.5 .1 3.5-.9 4.5-3.3 1.5-.6 1.5 .4 5 3.8 4.5 1.1 9 0 8.5-1.7 6.5 .3 2.5-.7 1-1 1-1.9 1.5-6.3 1.5-12.5 2.5-30.5 1-7.3 .5-.6 1 5.3 2.5 30.1 1.5 13.7 1 5.3 1 3 1 1.4 1.5 .9 7.5-.6 5-2.6 1.5-.4 6.5 3.5 5 .3 4 1.7 3 .6 5.5 .1 5-.4 3.5-1 2-1.4 1-1.5 1-2.9 1.5-8.7 3.5-39.9 1-6.1 .5 .2 1 6.7 2.5 30.5 1.5 13 1.5 6.6 1.5 2.7 2 1.2 3 .7 12 .8 16.5 0 11.5-.8 3.5-.9 1.5-1.2 1-1.7 1-3.3 1-5.6 4-44.1 1-4.7 .5 .9 1 7.8 3.5 39.5 1.5 7.8 1 2.6 1.5 1.7 2 .9 3 .5 18.5 .9 24.5-.2 5.5-.5 3-.9 1.5-1.3 1-1.6 1.5-4.7 3.5-23 1-4.7 .5-.6 .5 .7 1 4.8 3 21 2 6.9 1.5 2 2 .8 4.5 .3 5-.5 2.5-1 1.5-1.6 1-2.3 1-4.3 2-18.6 3-44 .5-3.8 .5-1.1 1 6.1 3 44.4 1.5 14.7 1 5.4 1 3 1.5 2 2.5 1.3 6 1 11 .4 7.5 0 7.5-1 7 1 5 .2 8.5-.1 7.5-1 10.5 1.2 23.5-.2 4.5-.4 2.5-.7 2-1.4 3.5-3.7 1.5-.7 1.5 .5 5 3.7 2 .4 1.5-.3 1.5-1.5 1-2.4 1.5-7.4 3.5-37.7 1-7.2 .5-.8 1 4.8 4 42.1 1.5 7 1.5 3 1.5 1.2 2 .6 9 .9 20 .1 6-.5 3.5-.7 2-1.1 1-1.3 1-2.4 1-4.4 1.5-11.7 3-33.7 .5-2.9 .5-.8 1 4.6 4 42.1 1.5 7.1 1.5 3 2 1.3 3.5 .7 4-.1 2-1 1-1.4 1-2.6 3-14.6 1-2.3 1 1.9 3 14.6 1 2.7 1 1.3 1.5 .2 1-1.2 1.5-4.3 2-8.3 .5-1.2 .5-.1 1 2.5 2.5 10.3 1.5 3 1 .8 1.5 .5 7 .5"/>
<path stroke="#568a78" d="M360.1 767.6l22 1.7 28 .7 38-.4 40-1.5 8.5-.6 4.5-1 3-1.6 5.5-4.9 2-.9 2 .6 4.5 3.8 2.5 1.5 3 .9 3.5 .4 12.5-.2 10-.6 3.5-.7 6.5-2.5 2-.3 8 2.4 6 .7 38-.2 28.5 .4 8.5-.7 2-.8 1.5-1.6 1-2.4 1-4.5 2-18.9 2.5-36.8 1-8 .5-.3 1 7.4 2.5 36.9 1.5 16.3 1 6.3 1 3.7 1 2 1.5 1.5 5 1.7 10 1.3 20 1.4 21 .8 8-.1 4-.6 3-1.6 4-3.6 1.5-.5 1.5 .6 5 4.3 2 .8 2.5 .5 6 0 5.5-.5 4-1.1 3-1.6 2-2 1.5-2.7 2-7.7 1.5-12.8 1.5-25.8 1.5-60.2 2-214.3 .5-6.2 2 216.3 1.5 64 1.5 26.3 1.5 12.8 1 4.7 1.5 4 2 2.8 2.5 1.9 3.5 1.4 5 .9 17 1 13-.4 2.5-.8 5-3.1 1.5-.4 1.5 .5 5 3.1 5 1 9 0 8.5-1.5 6 .2 2.5-.8 1-1 1-1.9 1.5-6.3 1.5-12.4 2.5-29.5 1-6.7 .5-.3 1 5.7 3.5 38.7 1.5 8.5 1 2.8 1 1.4 1 .6 1.5 .3 5.5-.5 2.5-.8 3.5-2.1 1.5-.3 6.5 3.9 5 0 6 1.9 8.5 .1 6.5-1 1.5-.8 1.5-2.1 1-3 1-5.2 1.5-13.2 2.5-29.2 1-5.4 .5 .5 1 6.9 3.5 38.5 1.5 8 1 2.6 1 1.4 1.5 1 2.5 .7 10 .8 21.5 .1 7.5-.4 4-.7 2-.8 1.5-1.7 1-2.5 1-4.3 1.5-11.8 3-34.2 1-4 1 4.5 4 42.8 1.5 7.3 1 2.3 1.5 1.7 2.5 .9 4 .6 16.5 .6 25-.2 5.5-.5 3-.9 2-1.9 1.5-3.6 1.5-7.2 2.5-17.2 1-4.2 .5-.5 1 2.9 3.5 23.1 2 6.4 1.5 1.8 2 .8 4.5 .2 5-.5 2.5-1 1.5-1.6 1-2.4 1-4.4 2-18.5 3-42.4 .5-3.2 .5-.6 1 6.7 3 43.1 1.5 13.7 1 5 1 2.8 1.5 1.9 2.5 1.1 6.5 1 11 .4 7 0 7.5-.8 12 1 8.5-.1 7.5-.8 11 1 23-.2 4.5-.4 2.5-.8 2-1.3 3.5-3.6 1.5-.7 1.5 .6 5 3.5 2 .4 1.5-.3 1-.8 1-1.7 1.5-5.8 1.5-11.6 2.5-27.7 1-6.3 .5-.3 1 5.2 2.5 27.7 1.5 12.3 1.5 6.5 1.5 2.6 1.5 1.1 2.5 .7 9 .7 19.5 0 6-.4 3.5-.7 2-1.1 1-1.3 1-2.5 1-4.4 1.5-11.6 2.5-27.8 1-6.4 .5-.4 1 5.2 2.5 27.5 1.5 12.4 1.5 6.4 1.5 2.7 2 1.2 4 .6 3.5-.1 2-1 1-1.5 1-2.7 3-13.9 1-1.8 1 2.3 3 13.8 1 2.4 1 1.2 1.5 0 1-1.3 1-2.5 2.5-9.6 .5-.9 .5 0 3.5 12.5 1.5 2.6 2.5 1.2 7 .4"/>
<path stroke="#5c8c76" d="M360.1 758.4l22 1.7 28 .7 38.5-.4 40-1.5 8-.6 4.5-1 3.5-2 5-4.7 2-.9 2 .7 4.5 3.9 2.5 1.6 3 .9 3.5 .4 22-.6 4-.6 6.5-1.9 2-.3 8 1.8 6 .5 37.5-.2 29 .4 8.5-.7 2-.8 1.5-1.6 1-2.4 1-4.5 1.5-12.6 3-41.4 1-7.5 .5 0 1 7.5 2.5 35.7 1.5 15.6 1 6 1 3.5 1 1.8 1.5 1.4 2.5 1 3.5 .8 11.5 1.3 24.5 1.5 19.5 .5 4-.2 3-.9 2-1.2 4-3.6 1.5-.4 1.5 .7 5 4.3 3.5 1.3 4.5 .3 6.5-.1 5-.5 3.5-.8 2-.9 1.5-1.3 2-3.9 1.5-6.8 1.5-13.3 2-38.9 2-92.1 .5 .7 2 93.7 2 38.4 1.5 12.6 1.5 6.3 1 2.2 1.5 1.8 4 2 5 .9 7 .5 23.5 .1 5-.9 5.5-3.3 1.5-.4 1.5 .5 5 3.1 5 1 9.5 0 8-1.2 6 0 2.5-.9 1-1 1-1.9 1.5-6.3 1.5-12.3 2.5-28.5 1-6 .5 0 1 5.9 3.5 37.3 1.5 8.1 1 2.6 1 1.3 2.5 .9 5.5-.4 2.5-1 3.5-2.2 1.5-.3 6.5 3.9 5 0 5.5 1.8 8.5 .2 7-1.1 1.5-.8 1-1.2 1-2.2 1-4 1.5-10.9 3-33.2 1-4.7 .5 .8 .5 2.8 3 32.9 1.5 11.6 1 4.3 1 2.5 1 1.3 2 1.1 4 .7 6 .5 22.5 .1 10.5-.7 3-.7 1.5-.9 1-1.3 1-2.5 1.5-7.6 3.5-37.1 1-6.9 .5-.6 1 4.9 4 41.2 1.5 6.8 1 2.2 1.5 1.5 2.5 .9 4 .5 16.5 .6 25-.2 5.5-.5 3-.8 2-1.9 1.5-3.6 1.5-7.1 2.5-16.7 1-3.8 .5-.2 1 3.1 3.5 22.2 2 6 1.5 1.6 2 .7 5 .2 4.5-.5 2.5-1 1.5-1.6 1-2.5 1-4.4 2-18.6 2.5-35.6 1-7.6 .5-.2 1 7.3 3 41.7 1.5 12.8 1 4.6 1 2.5 1.5 1.8 2 .9 6.5 1.1 11.5 .4 7 0 7.5-.6 12.5 .8 8-.1 7.5-.6 11 .8 23-.3 4.5-.4 2.5-.7 2-1.3 3.5-3.5 1.5-.6 1.5 .5 5 3.4 2 .4 1.5-.3 1-.8 1-1.7 1.5-5.8 1.5-11.4 2.5-26.3 1-5.4 .5 0 1 5.7 2.5 26.4 1.5 11.4 1.5 5.8 1.5 2.4 1.5 1 2.5 .6 9 .7 19 0 9.5-.9 2-.9 1.5-1.7 1-2.6 1-4.4 1.5-11.5 2.5-26.4 1-5.4 .5 0 1 5.7 2.5 26.4 1.5 11.3 1.5 5.8 1.5 2.4 2 1 4 .6 3.5-.1 2-1.1 1-1.5 1-2.7 3-13.2 .5-1.2 .5-.1 1 2.5 2.5 11.4 1 2.9 1 1.5 1.5 .5 1.5-1.5 3-10.3 1-2 .5 .2 .5 1.1 3 10.9 1.5 2.4 2.5 1 7 .4"/>
<path stroke="#628e74" d="M360.1 749.2l22 1.7 28.5 .7 39.5-.5 39.5-1.4 7.5-.6 4.5-1.2 3-1.9 5-4.8 2-.9 2 .8 4.5 4.1 2.5 1.6 3 .9 3.5 .4 22-.4 12.5-2.1 8 1.3 5.5 .3 38-.3 29 .3 8.5-.6 2-.8 1.5-1.6 1-2.4 1-4.4 1.5-12.4 3-40.1 1-6.8 .5 .2 1 7.5 2.5 34.6 1.5 14.8 1 5.7 1 3.3 1 1.7 1.5 1.3 5.5 1.7 11.5 1.3 24.5 1.4 19.5 .5 4-.3 2.5-.6 2.5-1.5 4-3.5 1.5-.4 1.5 .7 4.5 4.1 4 1.5 4.5 .3 7 0 5-.5 3.5-.8 2-.9 1.5-1.2 2-3.8 1.5-6.7 1.5-13 2-37.8 2-85.9 .5 3.3 2 87.9 2 35.4 1.5 11.8 1.5 5.8 1 2.1 1.5 1.7 4 1.8 5 .9 7.5 .5 23 0 5-.9 5.5-3.3 1.5-.4 1.5 .5 5 3.1 4.5 1 10.5 0 7-.8 6-.2 2.5-.7 1.5-1.3 1-2 1.5-6.3 1.5-12.1 2.5-27.5 1-5.3 .5 .2 1 6.2 2.5 27.5 1.5 11.6 1.5 5.8 1.5 2.3 2.5 .9 5-.3 2.5-.9 4-2.6 1.5-.4 6.5 3.9 5 .1 5.5 1.7 9 .1 6.5-.9 1.5-.9 1-1.1 1-2.3 1-4 1.5-10.8 3-32 1-4 1 3.9 3 32 1.5 10.9 1 4.1 1 2.2 1 1.2 1.5 .9 4 .8 6 .4 22.5 .2 11-.7 3-.7 1.5-.9 1-1.4 1-2.5 1.5-7.5 3.5-36.1 1-6.2 .5-.3 1 5.3 2.5 27.4 1.5 12.2 1.5 6.4 1 2 1.5 1.4 2.5 .8 4.5 .6 16 .5 25-.2 5.5-.5 3-.7 2-1.9 1.5-3.6 1.5-7 2.5-16.1 1-3.4 .5 0 1 3.3 3.5 21.3 2 5.5 1.5 1.5 2 .6 4.5 .3 4.5-.5 2.5-.8 1.5-1.2 1.5-3.2 1-4.5 1.5-12.6 3-40.2 1-6.7 .5 .3 1 7.7 2.5 34.5 2 17.8 1 4.2 1 2.3 1.5 1.6 2 .9 6.5 1 12 .4 14-.4 13 .6 15-.5 11.5 .6 22.5-.3 4.5-.4 2.5-.7 2-1.3 3.5-3.4 1.5-.6 1.5 .5 5 3.3 3 .3 1.5-1 1-1.8 1.5-5.7 1.5-11.3 2.5-24.8 1-4.5 .5 .4 1 6 3.5 32.8 1.5 6.8 1.5 2.9 1.5 1.1 2 .6 8.5 .8 20 .1 10-.9 2-.9 1-1 1-1.9 1-3.4 1.5-9.4 3-29.3 1-4.5 .5 .5 1 5.9 3.5 32.7 1.5 6.8 1 2.2 1 1.1 2.5 1.1 4 .4 3-.1 2-1.1 1-1.5 1-2.7 2.5-10.9 1-2.6 .5 .1 .5 .9 3 12.6 1 2.5 1 1.4 1.5 .4 1.5-1.7 3-9.8 1-1.7 1 1.6 2.5 9 1.5 2.9 1 .8 1.5 .5 7.5 .4"/>
<path stroke="#688f73" d="M360.1 740.0l22.5 1.7 28.5 .6 40-.4 39-1.5 7.5-.7 4-1.2 3-1.9 5-5.1 2-.8 2 .9 4.5 4.2 2.5 1.7 3 1 3.5 .4 21.5-.3 13-1.4 13 .8 38-.4 29.5 .4 8.5-.6 2-.8 1.5-1.6 1-2.4 1-4.3 1.5-12.2 3-38.6 1-6.3 .5 .4 1 7.6 2.5 33.5 1.5 14 1 5.4 1 3.1 1 1.7 1.5 1.2 6 1.6 11.5 1.3 24 1.4 19 .4 4-.3 2.5-.7 2.5-1.5 3.5-3.2 1.5-.6 1.5 .5 5.5 4.6 3.5 1.2 11.5 .3 5-.4 4-.8 2-.8 1.5-1.2 2-3.7 1.5-6.6 1.5-12.6 2-36.7 2-79.4 .5 5.5 2 81.9 2 32.6 1.5 10.9 1.5 5.4 1 1.9 1.5 1.6 4 1.7 5 .8 7.5 .5 23 .1 5-1 5.5-3.3 1.5-.3 1.5 .4 5 3.1 4.5 1 12 0 11-.8 3-.8 1.5-1.3 1-2 1.5-6.3 4-38.3 1-4.8 .5 .5 1 6.3 2.5 26.6 1.5 11 1 4.1 1 2.3 1 1.1 1.5 .8 3 .3 3.5-.5 2-.9 4-2.8 1.5-.3 1.5 .6 3 2.3 2 1 5 .1 6 1.7 11-.1 3.5-.6 2-1 1-1.2 1-2.3 1.5-6.9 3.5-34.4 1-6.8 .5-.7 1 4.3 3 31 1.5 10.2 1 3.7 1 2.1 1 1.1 1.5 .8 4 .8 6 .4 23 .2 10.5-.7 3-.7 1.5-.9 1-1.4 1-2.5 1.5-7.6 3.5-34.9 1-5.5 .5 0 1 5.6 2.5 26.6 1.5 11.5 1.5 5.8 1 1.9 1.5 1.2 2.5 .8 4.5 .6 16 .5 25-.2 5.5-.4 3-.8 2-1.8 1.5-3.6 1.5-6.9 2.5-15.4 1-3 .5 .1 1 3.5 3.5 20.4 2 5.1 1.5 1.3 2 .6 4.5 .2 4.5-.5 2.5-.7 1.5-1.3 1.5-3.3 1-4.5 1.5-12.6 3-38.7 1-5.7 .5 .7 1 8.1 2.5 33.3 1.5 13.6 1 5.2 1 2.9 1.5 2 2.5 1.1 6.5 1 12.5 .4 13.5-.2 17 .4 11.5-.3 14 .4 19.5-.3 4.5-.4 2.5-.7 2-1.3 3.5-3.3 1.5-.5 1.5 .5 5 3.2 3 .2 1.5-1 1-1.8 1.5-5.7 4-34.3 1-3.7 .5 .8 1 6.2 3.5 30.8 1.5 6.1 1.5 2.6 1.5 1 2 .6 8.5 .7 20 .1 10-.9 2-.9 1-1 1-1.9 1-3.4 1.5-9.3 3-27.6 1-3.6 .5 .7 1 6.2 3.5 30.8 1.5 6 1.5 2.6 2.5 1.3 4 .4 3.5-.1 2-1.1 2-4.3 2.5-10.3 1-2.1 .5 .2 .5 1.1 3 11.9 1 2.3 1 1.2 1.5 .2 1.5-1.7 3-9.4 1-1.3 1 1.8 2.5 8.5 1.5 2.6 2.5 1.1 7.5 .4"/>
<path stroke="#6e9171" d="M360.1 730.9l22.5 1.6 29 .6 41-.5 38-1.5 7-.7 4-1.2 3-2.1 5-5.3 2-.8 2 .9 4 4.1 2.5 1.9 3 1.2 4 .5 16.5-.1 18-.7 46.5-.4 35 .3 7.5-.6 2-.7 1.5-1.6 1-2.3 1-4.3 1.5-11.9 3-37.2 1-5.7 .5 .6 1 7.6 2.5 32.2 1.5 13.4 1.5 6.7 1 2.2 1.5 1.5 2 .9 3.5 .8 11 1.3 24.5 1.4 19.5 .5 4-.3 2.5-.7 2.5-1.6 3.5-3.1 1.5-.6 1.5 .5 5 4.4 4 1.5 12 .3 5-.4 4-.8 2-.8 1.5-1.1 2-3.7 1.5-6.3 1.5-12.3 2-35.4 2-72.8 .5 7.3 2 75.8 2 29.9 1.5 10.1 1.5 5.1 1 1.7 1.5 1.5 4 1.6 5 .7 8 .5 23-.1 4.5-.9 5.5-3.3 1.5-.3 1.5 .4 5 3.1 4.5 1 16 0 7-.6 3-.9 1.5-1.3 1-2 1.5-6.3 4-37.1 1-4.1 .5 .7 .5 2.5 3 29.6 1.5 10.3 1 3.9 1 2.1 1.5 1.4 1.5 .6 3 .2 3-.5 2-.9 4-3 1.5-.3 1.5 .5 3 2.3 2 1 4.5 .2 6.5 1.6 11-.1 3.5-.6 2-1 1-1.2 1-2.3 1.5-6.9 3.5-33.3 1-6.1 .5-.5 1 4.6 2.5 25.5 1.5 11.5 1.5 6 1.5 2.5 1.5 1 3 .8 11 .6 23.5 0 6-.5 3.5-.8 1.5-.9 1-1.4 1-2.5 1-4.5 1.5-11.3 2.5-25.5 1-4.8 .5 .3 1 5.8 2.5 25.7 1.5 10.7 1.5 5.5 1 1.7 1.5 1.1 2.5 .8 4.5 .5 15.5 .4 25.5-.1 5.5-.4 3-.7 2-1.7 1.5-3.6 4-21.6 1-2.6 .5 .3 .5 1.4 3.5 19.6 2 6 1.5 1.7 2 .7 4.5 .2 5-.4 2.5-.8 1.5-1.3 1.5-3.3 1-4.6 1.5-12.5 3-37.2 1-4.8 1 4.4 3 37.2 1.5 12.7 1 4.7 1 2.7 1.5 1.8 2.5 1.1 7 .9 13.5 .4 52.5 .2 21.5-.2 4.5-.4 2.5-.7 2-1.3 3.5-3.2 1.5-.4 1.5 .4 5 3.1 3 .3 1.5-1.1 1-1.8 1.5-5.7 3.5-28.9 1-5.7 .5-.6 1 3.6 4 32.5 1.5 5.5 1.5 2.3 1.5 .9 2 .5 9 .7 19.5 .1 10-.9 2-.9 1-1 1-1.9 1-3.4 1.5-9.1 3-25.9 .5-2.2 .5-.6 1 3.6 4 32.5 1.5 5.4 1.5 2.3 2 1 3.5 .5 4 0 2-.8 1-1.1 1-2.1 3-11.2 1-1.7 1 1.5 3 11.2 1 2.1 1 1 1.5 .1 1-.9 1-2 2.5-7.8 .5-.8 .5-.1 1 2 2.5 8 1.5 2.2 2.5 1 7.5 .4"/>
<path stroke="#74936f" d="M360.1 721.7l22.5 1.6 29 .5 41.5-.5 37.5-1.5 7-.7 4-1.3 3-2.2 5-5.5 2-.8 2 1 4 4.3 2.5 1.9 3 1.3 4 .5 81.5-1.2 34.5 .4 7.5-.6 2-.8 1.5-1.5 1-2.3 1-4.2 1.5-11.7 3-35.7 1-5.2 .5 .8 1 7.6 2.5 31.1 1.5 12.6 1.5 6.4 1 2 1.5 1.4 5.5 1.7 11 1.2 24.5 1.4 19 .5 4-.3 2.5-.7 2-1.2 4-3.6 1.5-.5 1.5 .6 5 4.4 4 1.4 12.5 .3 5-.3 4-.8 2-.7 1.5-1.1 2-3.6 1.5-6.1 1.5-11.9 2-34 2-66.1 2.5 78.3 2 27.3 1.5 9.4 1.5 4.6 1 1.7 1.5 1.3 4 1.5 5 .7 8 .4 23-.1 4.5-.9 5.5-3.3 1.5-.3 1.5 .4 5 3.1 4.5 1 18 0 5-.5 3-.9 1.5-1.4 1-2 1.5-6.2 4-35.7 1-3.6 1 3.5 3 28.6 1.5 9.7 1 3.6 1 2 1.5 1.3 1.5 .5 3 .3 3-.6 2-1 4-2.9 1.5-.4 1.5 .6 3 2.2 2 1 4.5 .3 6 1.5 11.5-.1 3.5-.6 2-1 1.5-2.1 1.5-5.3 1.5-10.5 2.5-24.7 1-5.4 .5-.2 1 4.9 3.5 32.4 1.5 7.2 1 2.4 1 1.3 1.5 .9 3 .7 11.5 .7 23-.1 6-.5 3.5-.7 1.5-1 1-1.4 1-2.5 1-4.5 4-35.6 1-4.1 .5 .5 1 6.1 2.5 24.7 1.5 10.1 1.5 5 2 2.4 2 .7 4 .6 14 .5 27.5-.1 6.5-.4 3-.6 2-1.8 1.5-3.6 4-20.8 1-2.2 .5 .4 1 3.8 3 16.6 2 5.5 1.5 1.6 2 .6 4.5 .2 5-.4 2.5-.8 1.5-1.3 1-1.9 1-3.5 2-15 3-35.6 .5-3.1 .5-.8 1 4.9 3 36 1.5 11.8 1 4.4 1 2.4 1.5 1.7 2.5 1 7.5 .8 14.5 .4 72.5 0 4.5-.4 2.5-.7 2-1.3 3.5-3 1.5-.5 1.5 .4 5 3 3 .3 1-.5 1-1.3 1.5-4.3 1.5-8.7 2.5-21.1 1-4.9 .5-.3 1 4 2.5 21 1.5 9.4 1.5 5 1.5 2 3.5 1.3 9 .6 19 .1 10-.8 2-.6 1.5-1.4 1-1.9 1-3.4 1.5-8.9 2.5-21.1 1-4.8 .5-.2 1 4 2.5 21 1.5 9.3 1.5 4.9 1.5 2 2 .9 4 .5 3.5-.1 2-.8 2-3.2 3-10.6 1-1.3 1 1.8 3 10.5 1 1.8 1 .9 1.5-.1 1-.9 4-9.9 .5 0 .5 .8 2.5 7.6 2 3.1 2.5 .9 7.5 .3"/>
<path stroke="#7b956d" d="M360.1 712.5l22.5 1.6 29.5 .5 42-.6 37-1.5 6.5-.7 4-1.4 3-2.3 5-5.7 2-.8 2 1.1 4 4.4 2.5 2.1 3 1.2 4 .6 81.5-1.2 34.5 .4 7.5-.6 2-.7 1.5-1.5 1-2.3 1-4.1 1.5-11.4 3-34.2 1-4.7 .5 .9 .5 3 3 34.4 1.5 12 1.5 6 1 1.9 1.5 1.3 5.5 1.6 11 1.2 24.5 1.5 18.5 .4 4-.3 2.5-.8 2-1.2 4-3.6 1.5-.4 1.5 .7 5 4.4 3.5 1.3 4.5 .4 8 0 6-.4 4-.6 3-1.4 2-2.6 1.5-4.8 1.5-9.3 2-25.8 2.5-70.5 2.5 73 2 24.9 1.5 8.7 1.5 4.2 1 1.5 1.5 1.2 4 1.4 5.5 .7 8 .3 22.5-.1 4.5-.9 5.5-3.3 1.5-.3 1.5 .4 5 3.1 4.5 1 18 0 5-.5 3-.9 1.5-1.4 1-2 1.5-6.1 3.5-30.7 1-6 .5-.7 1 3.8 3 27.5 1.5 9.1 1 3.3 1 1.9 1.5 1.2 1.5 .5 3 .2 3-.5 2-1 4-3 1.5-.4 1.5 .6 3 2.3 2 1 4.5 .3 6 1.4 11.5-.1 3.5-.6 2-1 1-1.2 1-2.2 1.5-6.8 3.5-31.1 1-4.9 .5 .1 1 5.1 2.5 23.7 1.5 10.1 1.5 5.2 1.5 2.1 1.5 .9 3 .6 12 .7 23-.1 5.5-.5 3.5-.7 1.5-1 1-1.4 1.5-4.5 1.5-9.2 3-27.6 1-3.5 .5 .8 1 6.2 3.5 30.6 1.5 6.1 1 1.9 1.5 1.4 2 .7 4 .5 15 .5 27-.1 6-.4 3-.6 2-1.8 1.5-3.6 3.5-17.9 1-3.6 .5-.4 1 2.2 3.5 18.2 2 5.1 1.5 1.4 2 .6 5 .2 4.5-.5 2.5-.8 1.5-1.3 1-1.9 1-3.5 2-15 2.5-29.6 1-6.9 .5-.5 1 5.5 3 34.5 1.5 11.1 1 3.9 1 2.2 1.5 1.6 2.5 .9 7.5 .8 14.5 .4 72.5-.1 4.5-.3 2.5-.7 2-1.2 3.5-3 1.5-.4 1.5 .3 5 3 3 .2 1-.5 1-1.2 1.5-4.3 1.5-8.5 2.5-19.7 1-4.1 .5 .1 1 4.1 2.5 19.8 1.5 8.6 1.5 4.4 1.5 1.8 1.5 .7 2.5 .5 9 .5 19 0 9.5-.7 2-.6 1-.8 1-1.4 1-2.5 1.5-7.2 3-23.1 1-4 .5 .1 1 4.3 2.5 19.8 1.5 8.4 1.5 4.3 1.5 1.8 2 .8 4 .4 3.5-.1 2-.8 2-3.2 3-9.9 .5-.8 .5-.1 1 1.9 2.5 8.6 1 2.1 1 1.1 1.5 .4 1.5-1.2 3-7.7 1-1.5 1 1.1 3 8.1 1.5 1.7 2.5 .8 7.5 .3"/>
<path stroke="#82986b" d="M360.1 703.3l23 1.6 29.5 .4 42.5-.6 36-1.5 6.5-.7 4-1.5 3-2.4 4.5-5.4 2-1.3 2 .8 4.5 5 2.5 2.1 3 1.3 4 .6 81.5-1.2 35 .4 7-.5 2-.7 1.5-1.5 1-2.2 1-4.1 1.5-11 3-32.9 1-4.1 1 4.1 3 33.1 1.5 11.3 1.5 5.6 1 1.8 1.5 1.3 5.5 1.5 11.5 1.2 24 1.4 18 .4 4-.3 2.5-.8 2-1.3 4-3.5 1.5-.4 1.5 .8 4.5 4 4 1.6 5 .4 8 .1 6-.4 4-.6 3-1.3 2-2.6 1.5-4.5 1.5-9 2-24.6 2-57.5 .5-5.5 2.5 67.2 2 22.7 1.5 8 1.5 3.9 1 1.3 1.5 1.2 4 1.2 13.5 1 22.5-.1 4.5-1 5.5-3.3 1.5-.3 1.5 .4 5 3.1 4.5 1 18 0 5-.4 3-.9 2-2.3 1.5-4.6 1.5-9.4 2.5-22.8 1-5.4 .5-.5 1 4 3 26.5 1.5 8.5 1 3.1 1 1.7 1.5 1.1 1.5 .5 3 .2 3-.6 2-1 4-3 1.5-.4 1.5 .6 3 2.3 2 1 4.5 .4 5.5 1.3 12-.1 3.5-.5 2-1 1.5-2.2 1.5-5.2 1.5-10.2 2.5-22.5 1-4.3 .5 .3 1 5.3 3.5 29.7 1.5 6.2 1 2 1 1.1 2 .9 3 .5 12.5 .6 22-.1 5.5-.4 3.5-.8 1.5-1 1-1.3 1.5-4.6 1.5-9.1 3-26.3 .5-2.2 .5-.7 1 3.6 4 32.9 1.5 5.5 1 1.8 1.5 1.3 2.5 .7 4 .5 15.5 .4 26.5-.1 5.5-.4 3-.6 2-1.8 1.5-3.6 3.5-17.3 1-3.2 .5-.2 1 2.4 3.5 17.4 2 4.7 1.5 1.3 2 .5 5 .2 4.5-.5 2.5-.7 1.5-1.4 1-1.9 1-3.6 2-14.8 2.5-28.3 1-6.1 .5-.1 1 5.9 3 33.2 1.5 10.2 1 3.6 1 2 1.5 1.4 2 .7 7 .9 14 .4 73.5-.1 7-.9 2-1 4-3.2 1.5-.4 2 .6 4.5 2.6 3 .3 1-.6 1-1.2 1.5-4.2 1.5-8.2 2.5-18.2 1-3.4 .5 .3 1 4.3 3.5 24.2 1.5 5 1.5 2.2 1.5 .8 2 .5 8.5 .6 20 0 10-.7 2-.6 1-.7 1-1.4 1-2.5 1.5-7 3-21.5 1-3.3 .5 .4 1 4.4 3.5 24 1.5 5 2 2.4 2.5 .8 4 .3 3-.1 2-.8 2-3.2 2.5-8 1-1.8 .5 .1 .5 .7 3 9.2 1 1.9 1 1 1.5 .2 1.5-1.2 3-7.3 1-1.2 1 1.3 2.5 6.6 1.5 2.1 2.5 .9 8 .4"/>
<path stroke="#899b69" d="M360.1 694.2l23 1.5 30 .4 43-.7 35.5-1.5 6-.7 4-1.6 3-2.5 4.5-5.6 2-1.3 2 .9 4.5 5.2 2.5 2.2 3 1.3 4 .6 81.5-1.1 35 .4 7-.5 2-.7 1.5-1.5 1-2.1 1-4 1.5-10.7 3-31.1 .5-2.8 .5-.9 1 4.2 4 39.4 1 5.1 1 3 1 1.6 1.5 1.2 5.5 1.4 11.5 1.2 24 1.4 17.5 .4 4-.4 2.5-.8 2-1.3 3.5-3.1 1.5-.7 1.5 .5 5.5 4.7 3.5 1.2 12.5 .5 10.5-.8 3.5-1.3 2-2.5 1.5-4.3 1.5-8.6 2-23.2 2-52.3 .5-3.5 2 52.5 1 15.8 1.5 13.6 1.5 7.3 1.5 3.5 2.5 2.3 4 1.1 14 .9 22-.1 4.5-1 5.5-3.3 1.5-.3 1.5 .5 5 3 4.5 1 17 .1 5.5-.4 3-.7 1.5-1 1-1.5 1.5-4.6 1.5-9.1 2.5-21.7 1-4.9 .5-.2 1 4.2 3 25.2 1.5 7.9 1 2.8 1 1.6 1.5 1 1.5 .4 3 .2 3-.6 2-1 4-3 1.5-.4 1.5 .6 5 3.3 4.5 .5 5.5 1.2 12 0 3.5-.6 2-1 1.5-2.1 1.5-5.2 4-31.2 1-3.7 .5 .5 1 5.3 2.5 21.7 1.5 8.9 1 3.3 1 1.8 1 1 2 .9 10 .9 22.5 .1 10.5-.5 3-.6 1.5-.7 1-1 1-1.9 1.5-5.8 3.5-28.2 1-5.1 .5-.4 1 3.8 4 31.2 1.5 5.1 1 1.7 1.5 1.1 6 1 14 .5 27-.1 6.5-.3 3-.5 2-1.4 1.5-2.7 1.5-5.4 2.5-12.6 1-2.8 .5-.1 1 2.6 3.5 16.5 2 4.3 1.5 1.2 2 .5 4.5 .1 4.5-.3 2.5-.7 1.5-.9 1.5-2.6 1-3.5 1.5-9.9 3-31.6 1-5.2 .5 .3 1 6.1 2.5 27.1 2 13.8 1 3.4 1 1.8 1.5 1.2 2 .7 7.5 .8 14 .4 73.5-.1 6.5-.9 2-1 3.5-2.7 2-.7 2 .5 4.5 2.5 3 .3 1-.5 1-1.2 1.5-4.1 4-24.6 1-2.7 .5 .5 1 4.4 3.5 22.2 1.5 4.5 1.5 1.9 3.5 1.1 8.5 .6 20 0 10-.6 2-.7 1-.7 1-1.4 1-2.5 1.5-6.7 3-19.9 1-2.5 1 2.4 4 24.8 1.5 4.3 1.5 1.9 2.5 .9 4 .3 3.5-.1 2-.8 1.5-2 3-8.6 1-1.4 1 1 3 8.6 1 1.6 1 .8 1.5 .2 1.5-1.3 3-6.8 1-.9 1 1.4 2.5 6.1 1.5 1.8 2.5 .8 8 .3"/>
<path stroke="#919f67" d="M360.1 685.0l23 1.4 30.5 .4 43.5-.7 34.5-1.5 6-.8 4-1.6 3-2.6 4.5-5.8 2-1.3 2 1 4.5 5.4 2.5 2.2 3 1.4 4 .6 11 .1 67.5-1.2 37 .4 8-.4 2-.7 1.5-1.4 1-2.1 1-3.8 1.5-10.2 3-29.2 .5-2.5 .5-.7 1 4.2 4 37.1 1 4.7 1 2.7 1 1.5 1.5 1.1 5.5 1.4 12 1.2 23.5 1.3 17 .4 3.5-.3 2.5-.7 2.5-1.5 3.5-3.2 1.5-.6 1.5 .6 5 4.4 4 1.5 12.5 .5 11-.8 3.5-1.2 2-2.3 1.5-4.2 1.5-8.1 2-21.7 2-46.9 .5-1.7 2 47.5 1 14 1.5 12.2 1.5 6.6 1.5 3.2 2.5 2 4 1 14 .8 22-.1 4.5-1 5.5-3.3 1.5-.3 1.5 .5 5 3 4 1 17 .1 6-.4 3-.7 1.5-.9 1-1.5 1.5-4.5 1.5-8.8 2.5-20.3 1-4.3 .5 0 1 4.2 3.5 26.7 1.5 5.8 1 1.9 1 1 3 1 4.5-.2 3-1.4 4-3 1.5-.4 1.5 .6 5 3.4 4.5 .5 4.5 1 9 .3 7.5-.7 2.5-1.5 1-1.6 1-2.9 1.5-8 3-23.6 1-3.1 1 2.8 3 23.6 1.5 8.1 1 3 1 1.7 2.5 1.5 9.5 1 23 .1 11-.5 3-.5 1.5-.7 1.5-1.8 1.5-4.4 1.5-8.7 2.5-20.3 1-4.5 .5-.1 1 4 2.5 20.3 1.5 8.9 1.5 4.6 1 1.5 1.5 1 6.5 1 14.5 .4 26.5-.1 9-.8 2-1.3 1.5-2.7 1.5-5.2 2.5-11.9 1-2.3 .5 0 1 2.6 3.5 15.5 2 4 1.5 1 2 .4 9-.2 2.5-.6 1.5-1 1.5-2.5 1-3.5 1.5-9.7 3-29.6 1-4.3 .5 .6 1 6.2 2.5 25.5 1.5 10.4 1 3.9 1 2.2 1.5 1.6 2.5 .9 7.5 .7 14.5 .4 73-.1 6.5-.9 2-.9 3.5-2.7 2-.7 2 .5 4.5 2.5 3 .3 1-.5 1-1.2 1.5-4 3.5-20.3 1-4 .5-.5 1 2.5 4 22.9 1.5 3.9 1.5 1.7 3.5 1 9 .5 19.5 0 10-.6 2-.6 1-.7 2-3.8 1.5-6.5 2.5-15.8 1-3.9 .5-.4 1 2.6 4 22.9 1.5 3.8 1.5 1.6 2 .7 3.5 .3 4 0 2-.6 2-2.3 3-7.9 1-1.1 1 1.2 3 7.8 1 1.5 1 .7 1.5 0 1-.7 1-1.4 2.5-5.5 1-.5 3.5 7 1.5 1.6 2.5 .6 8 .3"/>
<path stroke="#99a364" d="M360.1 675.8l23.5 1.4 30.5 .4 43.5-.8 34-1.5 6-.8 4-1.7 3-2.7 4.5-6 2-1.3 2 1 4.5 5.7 2.5 2.3 3 1.4 4 .6 11 .1 69.5-1.2 35.5 .5 7.5-.4 2-.7 1.5-1.3 1-2 1-3.7 1.5-9.7 2.5-23.7 1-5.8 .5-.4 1 4.2 4 34.6 1 4.4 1 2.5 1 1.4 1.5 1 6 1.3 11.5 1.1 23.5 1.3 16.5 .4 3.5-.3 2.5-.7 2-1.2 4-3.6 1.5-.5 1.5 .6 5 4.5 4 1.4 13 .5 11-.6 3-.9 2-1.7 1.5-3.1 1.5-6.2 2-16.5 2.5-48 .5-.2 2 42.2 1 12.3 1.5 11 1.5 5.9 1.5 2.8 2.5 1.8 4 .9 14.5 .8 21.5-.2 4.5-.9 5.5-3.3 1.5-.4 1.5 .5 5 3 4 1 17 .2 6-.5 3-.6 1.5-1 1-1.3 1.5-4.4 1.5-8.4 2.5-19 1-3.7 .5 .1 1 4.3 2.5 19 1.5 8.1 1 3.1 1 1.7 1.5 1.2 1.5 .4 3.5 .2 3-.6 2-1 4-3.1 1.5-.3 1.5 .5 5 3.4 9 1.6 11.5 .1 4-.4 2.5-.8 2-2.4 1.5-4.9 3.5-24.7 1-4.9 .5-.6 1 3 3 22.2 1.5 7.4 1 2.7 1 1.5 2.5 1.4 10 .9 23 .1 10.5-.5 3-.5 1.5-.7 2-2.8 1.5-5.5 3.5-25.1 1-3.8 .5 .1 1 4.1 2.5 19.1 1.5 8.1 1.5 4.2 1 1.3 1.5 .9 6.5 .9 15.5 .4 25.5-.1 9-.8 2-1.3 1.5-2.6 4-16.1 1-2 .5 .2 .5 1 3.5 14.6 2 4.5 1.5 1.3 2 .5 4.5 .2 5-.4 2.5-.5 1.5-1 1.5-2.5 1-3.5 1.5-9.3 3-27.7 1-3.5 1 3.4 3 27.6 1.5 9.5 1 3.5 1 2 1.5 1.3 2.5 .8 7.5 .7 14.5 .4 73-.1 6.5-.9 2-.9 3.5-2.6 2-.7 2 .4 5 2.7 2.5 .1 1-.5 1-1.1 1.5-3.8 3.5-18.8 1-3.4 .5-.2 1 2.7 2.5 14.4 1.5 6.5 1.5 3.4 1.5 1.4 3.5 .9 9 .5 19 0 10-.5 3-1 2-2.7 2-7.5 2.5-14.5 1-3.2 .5-.1 1 2.8 3.5 19 1.5 4.3 2 2.1 2 .6 4 .4 3.5-.1 2-.6 2-2.2 3-7.3 1-.8 1 1.3 3 7.2 2 1.8 1.5-.1 1-.6 4-6.8 1 .7 3 5.9 1.5 1.4 2.5 .5 8 .3"/>
<path stroke="#a1a662" d="M360.1 666.7l23.5 1.3 31 .3 44.5-.8 33-1.5 6-.9 3.5-1.7 3-2.9 4.5-6.2 2-1.2 2 1.1 4.5 5.9 2.5 2.4 3 1.4 4 .6 11.5 .1 69-1.2 35.5 .5 7.5-.4 2-.5 1.5-1.3 1-2 1-3.4 1.5-9.2 2.5-22.2 1-5.1 .5-.3 1 4.1 2.5 22.3 1.5 10 1 4 1 2.3 1 1.3 1.5 .9 6 1.3 12 1.1 23 1.2 16 .4 3.5-.3 2.5-.8 2-1.2 4-3.4 1.5-.5 1.5 .7 5 4.4 3.5 1.3 12.5 .6 12.5-.6 3-.8 2-1.6 1.5-2.8 1.5-5.8 1.5-10.3 1-11 2-35.4 .5 .8 2.5 42.7 2 14.4 1.5 5.2 1.5 2.6 2.5 1.6 4 .8 15 .6 21-.2 4.5-.9 5.5-3.3 1.5-.3 1.5 .4 5 3.1 4 .9 17 .2 6-.4 3-.6 1.5-1 1-1.3 1.5-4.2 4-25.7 1-3.2 .5 .3 1 4.3 2.5 17.8 1.5 7.3 1 2.8 1 1.6 1.5 1 1.5 .4 3.5 .1 3-.6 2-1 4-3 1.5-.3 1.5 .5 5 3.4 9 1.5 12 .1 4-.4 2-.7 2-2.4 1.5-4.7 3.5-23.2 1-4.3 .5-.3 1 3.1 4 25.7 1.5 4.2 1.5 1.8 1.5 .7 3 .5 11 .5 23.5-.1 9.5-.8 1.5-.7 1-1 1-1.8 1-3.1 1.5-8 2.5-17.6 1-3.3 .5 .3 1 4.2 2.5 17.8 1.5 7.4 1.5 3.7 1 1.2 1.5 .8 7 .9 16 .3 25-.1 8.5-.8 2-1.2 1.5-2.6 4-15.1 1-1.6 .5 .3 1 2.7 3 12 2 4.1 1.5 1.1 2 .5 9.5-.2 2.5-.6 1.5-.9 1-1.4 1-2.5 2-11 3-25.7 .5-2.1 .5-.6 1 3.6 3 26 1.5 8.5 1 3.1 1 1.8 1.5 1.2 2.5 .7 7.5 .6 15 .3 72.5-.1 6.5-.7 2-.9 4-2.7 2-.4 1.5 .3 5 2.6 2.5 .1 1.5-.9 1.5-2.6 1.5-5.4 2.5-12.6 1-2.7 .5 0 1 2.7 3.5 16.7 1.5 3.7 2 1.8 4 .8 9 .4 19 0 9.5-.5 3-.9 2-2.5 1.5-4.6 3-14.9 1-2.5 .5 .1 1 2.8 2.5 12.7 1.5 5.4 1.5 2.7 1.5 1.1 2.5 .6 4 .2 3-.1 2-.5 2-2.1 3-6.3 1-.6 1 1.3 2.5 5.5 2 2.1 1.5 .2 1.5-.8 3-5 1-.9 1 .8 2.5 4.5 2 1.8 2.5 .4 8 .2"/>
<path stroke="#a8aa60" d="M360.1 657.5l24 1.3 31 .3 45-.9 32-1.5 6-1 3.5-1.7 3-3 4.5-6.4 2-1.2 2 1.2 4.5 6.1 2.5 2.4 3 1.5 4 .6 11.5 .2 69.5-1.3 35.5 .5 7-.3 2-.5 1-.7 1-1.3 1-2.5 2-10.5 2.5-20.6 1-4.5 .5-.2 1 4.1 2.5 20.7 1.5 9.2 1 3.6 1 2.1 1 1.2 1.5 .8 6 1.2 12 1.1 23 1.2 15.5 .4 3.5-.3 2.5-.7 6-4.2 1.5-.3 1.5 .7 4.5 3.6 4 1.5 13 .5 12.5-.5 3-.7 2-1.4 1.5-2.7 1.5-5.4 1.5-9.3 1-9.8 2-29.7 .5 1.6 2.5 36.2 2 12.6 1.5 4.7 1.5 2.2 2.5 1.4 4 .7 15 .5 21-.1 4.5-.9 5.5-2.9 1.5-.3 1.5 .4 5 2.7 4 .9 17 .1 6-.4 3-.5 1.5-.9 1-1.3 1.5-4.1 4-23.9 1-2.7 .5 .5 .5 1.6 3 19.1 1.5 6.7 1 2.4 1 1.4 1.5 1 1.5 .3 3.5 .2 3-.6 6-3.6 1.5-.3 1.5 .5 5 3.1 8 1.3 12.5 .1 4-.4 2.5-.7 2-2.3 1.5-4.6 3.5-21.6 1-3.7 .5-.2 1 3.2 3.5 21.8 1.5 4.9 2 2.5 4.5 1 11.5 .5 23-.1 9.5-.8 1.5-.6 1-1 2-4.7 4-23.9 1-2.7 .5 .4 1 4.2 3.5 21.4 1.5 4.4 1 1.4 1.5 .9 6 .9 14.5 .4 27.5-.1 9-.7 2-1.3 1.5-2.4 3.5-12.5 1-2.5 .5-.4 1 1.5 3.5 12.7 2 3.6 1.5 1 2 .4 9.5-.2 2.5-.5 1.5-.9 1-1.4 1-2.5 2-10.4 2.5-20.7 1-4.8 .5-.3 1 3.8 3 24.2 1.5 7.7 1 2.7 1 1.6 1.5 1 2.5 .7 7.5 .6 14.5 .2 73 0 6.5-.7 6-2.9 2-.4 2 .4 4.5 2 2.5 .3 1.5-.6 1.5-1.8 1.5-3.7 2.5-8.4 1-1.6 .5 .2 1 1.9 3.5 11.2 1.5 2.3 2 1.2 4 .5 9.5 .2 28-.3 3-.6 2-1.8 1.5-3.2 3-9.9 1-1.5 .5 .2 1 2.1 3.5 11 1.5 2.2 2 1.2 6.5 .5 5-.5 2-1.4 2.5-3.7 1-.8 1 .4 3 4.2 2 1.3 1.5 .1 1.5-.6 3-3.3 1-.5 1 .6 2.5 3 1.5 1 2.5 .4 8.5 .1"/>
<path stroke="#b0af5e" d="M360.1 648.3l24 1.3 31.5 .2 45-.9 31.5-1.5 6-1 3.5-1.8 3-3.1 4.5-6.6 1-.9 1-.3 2 1.4 4 5.6 2.5 2.7 3 1.7 4 .8 12 .2 70-1.2 35 .5 7-.3 3-1.1 1-1.3 1-2.3 2-9.9 2.5-18.9 1-4 .5 0 1 3.9 2.5 19.2 1.5 8.4 2 5.2 1 1 1.5 .8 6 1.1 12.5 1 22 1.2 15.5 .4 3.5-.2 2.5-.6 5.5-3.6 1.5-.5 1.5 .4 5.5 3.8 3.5 1.1 12.5 .5 13-.4 3-.5 2-1 1.5-1.9 1.5-4 1.5-7.1 1-7.1 2.5-28.5 .5 1.9 2 25.6 1 7.8 1.5 7.3 1.5 4.1 1.5 1.9 2.5 1.2 4 .6 15 .5 21-.2 4.5-.7 5.5-2.6 1.5-.3 1.5 .4 5 2.4 4.5 .8 17 0 8.5-.9 1.5-.8 1-1.3 1.5-3.8 4-22.1 1-2.3 1 2.2 3 17.7 1.5 6 2 3.5 3 1.1 3.5 .2 3-.5 6-3.2 1.5-.2 1.5 .4 5 2.8 7 1 13.5 .1 4.5-.4 2-.6 2-2.2 1.5-4.4 3.5-20 1-3.2 .5 0 1 3.2 2.5 15.3 1.5 6.6 1.5 3.3 1.5 1.4 4.5 1 12 .4 23-.1 9-.7 2.5-1.6 1.5-2.9 1.5-6 3-17.8 1-2.1 1 2.2 4 22.1 1.5 3.9 1 1.2 1.5 .9 6.5 .8 15 .3 26.5-.1 9-.7 2-1.2 1.5-2.4 3.5-11.6 1-2.1 .5-.2 1 1.5 3.5 11.8 2 3.1 1.5 .9 2 .4 9.5-.2 2.5-.5 1.5-.9 1-1.4 1-2.4 2-10 2.5-19 1-4 .5-.1 1 4 3 22.3 1.5 6.8 1 2.5 1 1.3 1.5 1 2 .5 7 .5 14 .3 74.5 0 7-.6 6-2.4 2-.3 6 2.1 2.5 .3 1.5-.3 1.5-1.1 4-7.2 1-.7 1.5 1.4 3.5 6.5 1.5 1.3 1.5 .6 12.5 .5 29.5-.1 3-.4 2-1.2 1.5-1.9 3-5.9 1-.7 1 .7 4 7.3 1.5 1.3 1.5 .5 5.5 .4 6-.2 2-.7 3-2.5 1-.4 1 .3 3 2.5 2 .7 3-.3 3-2 1-.2 3.5 2.2 1.5 .5 11 .3"/>
<path stroke="#b7b35b" d="M360.1 639.1l24 1.3 32 .2 45.5-1 30.5-1.5 5.5-.9 3.5-1.6 3-3 5-7.4 1-.9 1-.3 2 1.5 4 5.8 2.5 2.8 3 1.7 4 .8 12 .2 70.5-1.2 34.5 .5 7-.2 2-.4 1.5-1.1 1-1.7 1-2.9 1.5-7.5 2.5-17.3 1-3.5 .5 .1 1 3.8 2.5 17.6 1.5 7.6 2 4.7 2.5 1.6 6 1 12.5 1.1 37 1.6 6-.8 5.5-3.1 1.5-.4 1.5 .4 5 3.1 4 1.1 13 .5 13-.3 3-.4 2-.9 1.5-1.7 1.5-3.6 2.5-12.5 2.5-22 .5 2.1 2 20 1 6.4 1.5 6.3 1.5 3.5 1.5 1.6 2.5 1 4 .5 15.5 .4 20.5-.1 4.5-.7 5.5-2.2 1.5-.2 6.5 2.3 4.5 .7 17.5 0 8-.8 1.5-.8 1-1.2 1.5-3.6 3.5-18.2 1-3.5 .5-.4 1 2.2 3 16.3 1.5 5.4 2 3 3 1 3.5 .2 3-.4 6-2.8 1.5-.2 6.5 2.9 5 .8 15 .1 4.5-.3 2.5-.7 2-2.1 1.5-4.2 3.5-18.4 1-2.6 .5 .1 1 3.2 3.5 18.3 1.5 3.8 2 2 5 .9 12.5 .3 22-.1 9-.7 2.5-1.4 1.5-2.9 1.5-5.6 3-16.2 1-1.7 1 2.3 4 20.2 1.5 3.4 1 1.1 1.5 .8 6 .7 14 .3 27-.1 9.5-.5 2-.9 1.5-1.7 1.5-3.5 2.5-8.2 1-1.8 .5-.1 1 1.6 3.5 10.7 2 2.9 1.5 .7 2 .3 9-.1 4-1 1.5-1.7 1-2.3 1.5-6.4 3-20.5 1-3.3 .5 .2 1 4 2.5 17.5 2 9 1 2.1 1 1.2 1.5 .8 2 .4 7 .5 13.5 .3 75 0 7-.4 8-2.3 6 1.8 3 .4 2.5-.6 4-3.2 1-.3 1 .3 4 3.4 3 .8 41.5 .2 3.5-.2 2-.5 4-3.3 1.5-.6 1 .4 4 3.3 3 .8 11.5 .1 6-1.7 6 1.7 2.5-.1 4.5-1.1 5 1.2 11 .2"/>
<path stroke="#bfb859" d="M360.1 630.0l24.5 1.2 31.5 .1 45.5-.9 30.5-1.6 5.5-.9 3.5-1.7 3-3.1 5-7.7 1-.8 1-.3 2 1.6 4 6 2.5 2.8 3 1.8 4 .8 12 .2 70.5-1.2 41.5 .4 3-1 1-1.1 1-2 1.5-5.7 3-18.4 1-3.1 .5 .2 1 3.6 3.5 21.1 1.5 4.4 1.5 2 2.5 1.2 5 .8 26 1.8 18 .7 8.5 0 3.5-.7 5-2.6 1.5-.3 1.5 .4 5.5 3 4.5 .8 20 .4 6.5-.3 3-.6 1.5-.9 1-1.1 2-4.7 2-9.1 2.5-15.5 3 19 2 7.7 1 2.1 1.5 1.8 2 1 3 .4 14.5 .5 23.5-.1 4.5-.5 7-2.1 6.5 2 4 .6 16.5 0 9-.6 2.5-1.4 1.5-2.6 1.5-5.3 2.5-12.8 1-3 .5-.3 1 2.3 3 14.8 1.5 4.8 2 2.7 3 .9 6.5-.3 6-2.3 1.5-.2 6.5 2.5 4.5 .7 16 0 4.5-.3 2-.6 1.5-1.3 1.5-3 4-18.4 1-2.2 .5 .3 1 3.1 3.5 16.5 1.5 3.4 2 1.7 5 .8 11.5 .3 22 0 9.5-.6 2.5-1 2-3.2 1.5-5.3 2.5-12.7 1-3 .5-.2 1 2.4 2.5 12.6 1.5 5.7 1.5 3 1 .9 1.5 .7 6 .6 14.5 .3 26.5-.1 9.5-.5 2-.8 1.5-1.7 1.5-3.2 2.5-7.5 1-1.4 1 .6 3.5 9.6 2 3.2 1.5 .8 2 .4 8.5 0 4.5-.8 1.5-1.1 1-1.7 1.5-4.9 3.5-20.9 1-2.7 .5 .4 1 3.9 2.5 16 1.5 6.5 2 3.8 1.5 .9 2.5 .6 20 .7 76 0 7-.4 7.5-1.8 8.5 1.9 8-.2 7.5 .6 44.5 .1 8.5-.6 8 .6 46.5 .1"/>
<path stroke="#c6bc57" d="M360.1 620.8l24.5 1.1 32 .2 46-1 29.5-1.6 5.5-.9 3.5-1.8 3-3.2 4.5-7.3 2-1.7 1 .2 1 .9 4.5 6.8 2.5 2.9 3 1.8 4 .8 14.5-.1 2.5-.5 5.5-2.2 5.5 2 4 .4 52.5-.6 39.5 .5 3-.9 2-2.9 1.5-5.2 3-16.6 1-2.5 .5 .2 1 3.5 3.5 18.8 1.5 4 1.5 1.8 2.5 1 6 .8 29 1.9 15.5 .5 7-.1 3.5-.8 4.5-2.6 2-.4 1.5 .4 5 3.1 4 .9 18.5 .5 5-.2 3.5-.6 5-2.1 2-2.2 1.5-3.7 3-11.9 1-2.2 4 15.2 1.5 3.2 1.5 1.3 4.5-.3 6 2.9 6 .7 28.5 0 4-.7 5.5-2.2 2-.2 9 2.8 4.5 .2 5.5-.3 10-2.3 6 .3 2-.6 1-1.2 1-2.1 3.5-14.6 1-2.5 .5-.1 1 2.3 2.5 11.4 1.5 5.1 2 3.1 2.5 1 7 .1 8-2.1 6.5 2.1 4 .5 15 .1 7.5-.7 2-1.4 1.5-2.8 4-16.6 1-1.8 .5 .4 1 2.9 3.5 14.9 1.5 2.9 2 1.5 4.5 .6 11.5 .3 15.5-.1 8-.9 7.5 .4 3-.7 2-2.2 2-5.9 2.5-11.4 1-2.5 .5 0 1 2.3 2.5 11.4 1.5 5 1.5 2.6 2.5 1.4 7 .5 17.5 .2 23 0 8-.6 2.5-.8 2-2 4-9.4 1-1.2 .5 .2 1 1.5 3 7.6 2 2.5 7 1.5 6 .1 4-.9 1.5-1.5 1-2.1 1.5-5.6 3-16.6 1-2.1 1 2.1 3 16.6 1.5 5.7 2 3.2 1.5 .9 2.5 .4 12.5 .6 34 .1 8-.1 7.5-.7 8.5 .7 18.5 0 8.5-.8 6.5-.1 2.5-.7 4-1.9 2-.3 2 .5 6 2.6 6.5 .7 115 .3"/>
<path stroke="#cdc055" d="M360.1 611.6l24.5 1.1 32.5 .1 45.5-1 29.5-1.5 5.5-1 3.5-1.8 3-3.2 4.5-7.1 2-1.6 1 .2 1 .9 4.5 6.7 2.5 2.8 3 1.7 4 .8 8.5 .1 6-.6 2.5-1.1 4-3.9 1.5-.7 1 .4 4.5 4.1 2 .8 2.5 .3 53.5-.4 38 .6 3-.8 2-2.6 1.5-4.7 3-14.7 1-2.1 .5 .3 1 3.1 3.5 16.8 1.5 3.4 1.5 1.6 3 1 6.5 .7 31.5 1.9 13 .4 6-.2 3.5-.9 4.5-2.8 2-.6 1.5 .4 5 3.5 3.5 1 14 .5 10.5-.5 3-1 6.5-3.7 1.5-2.2 3-7.4 1-1.3 .5 0 1 1.3 3 7.8 1.5 2.1 1.5 .1 3-2.3 1.5-.3 1 .6 4.5 4.9 3.5 1.5 12 .7 20-.3 4.5-.9 5.5-2.8 2-.6 1.5 .3 4 2.5 2 .8 3 .5 4.5-.2 5-1.2 6.5-3.7 2-.7 2 .2 4 1.7 1 .1 1-.4 1-1.3 1-2.2 3-11.2 1-1.9 .5 0 1 2.2 2.5 10.3 2 5.5 2 2 3 .8 6.5-.1 7.5-1.5 6.5 1.6 4.5 .5 15 0 7-.7 2-1.2 1.5-2.6 3.5-13.2 1-2.6 .5-.4 1 1.6 3 11.8 1.5 4 2 2.3 2.5 .7 10 .5 18-.1 4-.4 6-1.6 6.5 1.3 3.5-.2 2-1.5 1.5-3 3.5-13.3 1-2 .5 .1 1 2.3 2.5 10.2 1.5 4.3 1.5 2.2 2.5 1.1 8 .6 21 .1 19-.1 6.5-.6 3-1 2-1.6 1.5-2.3 3-6.4 1-.9 1 .9 3.5 7.4 1.5 1.5 4 .7 5 1.5 5 .2 2.5-.3 1.5-.8 2-3 1.5-5.1 3-14.7 1-1.5 1 2.1 3 14.8 1.5 4.9 2 2.8 1.5 .7 2.5 .4 15 .5 35.5 0 5-.4 6-1.4 9 1.7 18-.1 3.5-.4 5.5-1.4 5 .6 2.5-.2 2.5-1.3 4-3.1 1.5-.5 2 .8 5.5 4.2 2.5 .9 4 .4 115 .5"/>
<path stroke="#d2c353" d="M360.1 602.4l24.5 1.1 32.5 .1 45.5-1.1 29.5-1.5 5.5-.9 3.5-1.8 3-3.1 4.5-6.9 2-1.4 1 .2 1 .8 4.5 6.5 2.5 2.7 3 1.6 3.5 .6 9.5 .1 5.5-.9 2.5-1.6 4-6.1 1.5-1.1 1 .7 4.5 6.4 2 1.3 3 .6 54-.3 33 .6 6.5-1.1 2-1.3 1.5-3.2 3.5-14.4 1-1.7 .5 .3 1 2.9 3.5 14.7 1.5 2.9 1.5 1.4 3 .8 8 .9 15 .9 6.5-.4 5.5 .9 7.5 .5 10.5 .2 5-.4 3-1.1 4.5-3.1 2-.5 1.5 .6 4.5 3.6 3.5 1.2 13 .5 10.5-.5 3-1.1 4.5-3.5 3.5-1.7 1.5-1.9 2.5-5 1-1 1 .6 3 6.3 1.5 1.8 1.5-.2 3.5-4.8 1-.7 .5 .1 1 1 4.5 7.4 1.5 1.3 2 .7 2-.1 4.5-1.1 6 2 7 .3 4.5-.6 6-2.6 6 .5 2.5-1.3 4.5-4.6 2-.9 1.5 .6 4 3.8 2.5 1.6 3.5 1.3 3.5 .2 2.5-.6 2-1.2 6-6.4 2-1.4 2 .2 4.5 3.8 1 .5 1-.1 1.5-2 3-8.7 1-1.4 1 1.1 3 10.7 2 4.8 2 1.8 3.5 .7 6 .1 7.5-1.1 6.5 1.1 5 .2 5.5-.6 9-2.6 8 .9 1.5-1 1-1.5 3.5-11 1-2.2 .5-.1 1 1.5 4 13 1.5 2.1 2 .8 2.5 0 5.5-1.1 9 2 12.5 .1 4-.6 6-2.4 6.5 2.2 3.5 0 1.5-.8 1.5-2 4-12.8 1-1.6 .5 .2 1 2.1 2.5 9 1.5 3.7 1.5 1.8 2.5 1 8.5 .5 20 .1 25-.7 3-1 2.5-1.7 2-2.6 2.5-4.6 1.5-1.2 1 .9 3 5.6 1.5 1.4 4 .2 5.5 2.5 5 .4 3.5-.6 2-2.1 2-5.7 3-13 .5-1 .5-.2 1 1.9 3.5 14.4 1.5 3.4 1 1.2 1.5 1 5 1.1 9.5 .3 7-.5 8 .6 19-.1 10.5-1 5.5-1.8 1.5 .3 4.5 1.8 3 .6 18-.1 4-.9 5-2.3 5 .5 2-.4 2.5-1.6 4.5-4.7 1.5-.7 1 .3 1 .9 3.5 4.7 2.5 2.4 2.5 1.1 3.5 .6 15.5 .2 10-1.9 8 1.7 6 .5 15 0 7.5-.7 8.5 .8 44.5 .1"/>
<path stroke="#d5c452" d="M360.1 593.3l25 1 32.5 0 45.5-1.1 29-1.5 5.5-1 3.5-1.7 3-3 4.5-6.6 2-1.4 1 .3 1 .8 5 6.8 3.5 2.9 2 .7 3 .5 10-.2 4-.6 2.5-1.5 2-2.8 3-6.6 1-1.3 .5-.1 1 .9 4.5 8.8 2 1.7 3 .8 10 .3 45-.4 30.5 .5 2.5-.4 3.5-1.4 3-.1 1-.5 1.5-2.5 3.5-11.8 1-1.3 .5 .3 1 2.6 3.5 12.3 1.5 2.5 2 1.3 7.5 1.1 16.5 1 3.5-.2 4.5-1.3 6 2.1 10 .6 8.5 .1 4.5-.5 2.5-1 5-3.6 1.5-.6 1.5 .5 4.5 4.1 3.5 1.4 11.5 .5 11-.4 2-.6 2-1.1 5-5 3-.6 1-.5 3-4.1 1-.7 1 .6 3.5 5.5 1.5 .2 1.5-1.9 3-6.4 1-.9 .5 .1 1 1.2 4 9.2 2.5 2.7 1.5 .4 1.5-.5 3.5-2.9 1.5-.6 1.5 .9 3 3 2 1.2 3 .5 4-.1 2.5-.6 2-1.2 5.5-5.9 1.5 0 3.5 2.2 1.5 0 1-.5 2-2.2 4-6.9 1-1.1 1-.3 1.5 1 4.5 6.2 3 3.2 3 2 3 .6 2-.6 2-1.6 2-2.7 4.5-7.8 1.5-1.6 1-.3 2 1.2 4 6 1.5 1.2 1.5-.7 3-5.8 1-.7 1 1.3 3 9.5 2 4.1 2.5 1.8 4 .6 5.5 .1 7-.6 8.5 .7 4.5-.5 4.5-1.8 6.5-5.2 2.5-1.1 2 .5 4.5 3 2 .6 1-.6 1-1.3 3-7.7 1-1.5 .5 0 1 1.5 3.5 10 1.5 2.2 2 .8 2.5-.5 4.5-3 1.5-.5 1.5 .4 5.5 3.9 4 1 7 .3 5.5-.3 2.5-.8 4-2.5 1.5-.5 1.5 .3 4.5 2.7 2 .5 2-.1 1.5-.7 1.5-1.8 4-10.7 1-1.2 1 1 3 8.7 1.5 3 1.5 1.5 2.5 .8 11 .5 24-.1 4.5-.3 5.5-1.2 5 .9 3-.1 3-.9 2.5-1.7 2-2.1 3-4.2 1-.7 1 .3 3 4.6 1.5 1.2 4.5-.4 6 3.4 5 .5 3-.6 2-1.9 2-5 2.5-9.8 1-2.3 .5-.2 1 1.6 3.5 11.5 1.5 2.9 1.5 1.7 2 1.2 5.5 1.3 8.5 .2 6.5-1.3 8 1.4 18 0 3-.4 4.5-1.4 4.5 0 5-2 1.5 .3 4.5 2.5 3 .7 9 .2 9-.4 4-1.2 5-3.5 5 0 2-.8 2.5-2.3 4.5-5.8 1.5-.8 1.5 1 4 7.5 2.5 3.3 2.5 1.6 3.5 .8 9 .5 6.5-.4 3-1 5-3.1 2-.7 2 .5 6 3.7 6 1.2 15 .1 7.5-1.8 5 1.5 3.5 .4 44.5 .3"/>
<path stroke="#d7c452" d="M360.1 584.1l25 .9 32 0 44.5-1.1 30-1.5 6-1 3.5-1.7 3-3 4.5-6.3 2-1.3 2 1.1 5 6.6 3.5 2.6 2.5 .8 3 .4 9.5-.3 4-.9 2.5-1.8 2-3.6 3-8.2 1-1.7 .5-.1 1 1.1 3 8.1 2 3.7 2 1.8 3.5 .8 10 .4 44.5-.4 29 .7 3-.5 4.5-2.3 3.5 1.6 1.5 0 3.5-2.3 1-.3 1 .5 4 3.7 4 1.2 24.5 1.4 3-.6 4-2.1 1 .3 3.5 2.3 2.5 .8 16 .7 4.5-.2 3-.8 2.5-1.4 4-3.6 1.5-.5 1.5 .8 4 4.2 2.5 1.4 4 .6 8 .3 9-.3 4-.7 2.5-1.6 4-5 1.5-1 1 .3 4 3 5 1 1.5-.1 1.5-1.4 1-1.7 3.5-10.1 1.5-2.5 .5 .1 1 1.6 4 11.3 1 1.8 1.5 1.5 1.5 .3 1.5-.9 3.5-4.9 1.5-1 1 .7 3 4.8 2 2.2 2.5 1.1 3 .2 3.5-.8 2.5-1.8 2-3 3-5.8 1-1.2 .5-.2 1 .4 3.5 3.7 1.5 .4 1-.6 2.5-3.9 4-9.6 1.5-1.4 1 .5 1 1.3 5 9.3 3.5 4.9 3 2.3 1.5 .3 1.5-.3 1.5-1.2 1.5-2 6-13.2 1.5-2.3 1-.5 1 .4 1.5 2.1 4.5 10.2 2.5 3.8 3.5 2 3.5 4 2 1.6 3 1 5 .5 18.5 0 6-1 4-2.5 7-8.7 1.5-1.3 1-.3 1 .1 1.5 1.1 5 6.3 2 1.7 1.5 .5 3-.6 1 .1 5 3.5 2 .3 2.5-.9 2-1.7 3.5-4.1 1.5-.9 1.5 .7 4 4.8 2 1.7 3 1.2 4 .4 6 .1 3.5-.4 2.5-1.2 3.5-2.8 1.5-.7 1.5 .5 4.5 3.5 3 1 2 0 2-.4 4-2.6 1-.3 1 .3 4 2.8 2.5 .6 22.5 .3 17-.3 2.5-.4 5-1.8 5 1.6 2.5 .1 2.5-.6 5.5-2.8 3.5-.1 4.5 1.3 1.5-.5 3-2 1-.2 1.5 .5 3.5 3 2 1 2.5 .5 3.5 .2 2.5-.4 1.5-.6 4.5-4.9 1.5-.8 3 1.2 7 4.5 2.5 .8 3 .4 7.5-.1 6.5-2 5 1.7 2.5 .5 18-.1 3.5-.6 4.5-2.2 5 .2 4.5-2.2 1.5 .4 4.5 3.2 2.5 .8 5.5 .4 9-.2 4-.4 2.5-.7 2.5-1.7 4-3.8 1.5-.4 3 0 2-.9 2.5-2.7 5-7.8 1.5-.8 1.5 1.4 4 9.6 2.5 4.3 2.5 2.1 3.5 1.1 9 .5 6.5-.7 3-1.5 5-5.1 2-1.1 2 .9 4 4.4 2 1.6 2.5 1.1 3.5 .6 8.5 .4 6.5-.2 2.5-.6 3.5-2 1.5-.3 5 2.5 3.5 .7 44.5 .3"/>
<path stroke="#dac551" d="M360.1 574.9l25 .9 32.5 0 44-1.2 30-1.6 6-1 3.5-1.6 3-2.9 4.5-6.1 2-1.2 2 1.1 5.5 6.8 3 2 2.5 .7 3 .3 9.5-.4 4-1 2.5-2.3 2-4.2 3-10 1-2 .5-.2 1 1.4 3 9.7 2 4.6 2.5 2.4 3.5 .9 10.5 .3 43.5-.3 28.5 .7 3.5-.8 3.5-2.8 1-.3 1 .4 4 3.6 4 .9 20.5 1.6 13 .5 3-.7 4.5-3.2 1 .3 3.5 3.2 2.5 1 6.5 .6 10.5 .3 4.5-.3 3-1 2-1.4 3.5-4 1.5-.9 1.5 .9 4 4.8 2.5 1.6 4 .7 8 .3 9-.3 4-.9 2.5-1.9 4-6 1.5-1 1.5 1 3 4.4 1.5 1.4 2.5 .9 2-.6 1.5-1.5 1.5-2.9 4-13.8 1.5-3 .5 0 1 1.9 3.5 12.2 1 2.6 1.5 2.3 1.5 .7 1.5-.8 1.5-2.2 2.5-5.3 1-1.3 .5-.1 1 1 3 6.6 2 3 2.5 1.5 3 .2 3.5-.9 2.5-2.5 2-4.1 3-8 1-1.5 .5-.3 1 .6 2.5 4.3 1.5 1.8 1 .3 1-.5 1-1.2 1.5-3.2 4-11.6 1.5-1.8 1 .5 1 1.6 5 11.3 3.5 6 3 2.8 1.5 .4 1.5-.5 1.5-1.4 1.5-2.3 6-16.1 1.5-2.7 1-.6 1 .4 1.5 2.6 6 16.7 3.5 6.2 2.5 2.4 2.5 1.3 3.5 .8 5.5 .6 17 .2 4.5-.4 3.5-1.1 2-1.2 2-1.8 7-10.7 1.5-1.5 1-.4 1 .2 1.5 1.3 5.5 8.7 3 3.5 3 1.9 4 .8 3.5-.3 3-1.6 2-2.4 3.5-5.7 1.5-1.2 1.5 .9 4 6.6 2.5 2.7 3 1.4 4.5 .6 5.5 0 3.5-.7 2-1.1 3.5-3.5 1.5-.7 1.5 .6 4.5 4.2 3.5 1.3 9 .5 25 .2 21-.3 3-.7 3.5-2 1.5-.5 5 2.3 2.5 .2 2.5-.7 3.5-2.1 1.5-.5 1.5 .3 3.5 1.8 2 .2 2-.9 3.5-3.2 1.5-.7 1.5 .6 3 3.1 2 1.4 2 .8 3 .3 4.5 0 3-.6 2.5-1.3 4-3 1.5-.4 1.5 .6 5 3.6 4 1.1 8.5 0 6.5-2.8 5 2.4 2.5 .6 17 .1 4-.8 5-3.1 1-.1 2.5 .7 1.5-.1 4.5-2.6 1.5 .5 4.5 3.9 2.5 1 5.5 .4 9-.2 4-.5 2.5-.9 2.5-1.9 4-4.7 1.5-.5 3 0 2-1.1 2.5-3.2 5-9.2 1.5-1.1 1.5 1.7 4 11.5 2.5 5.2 2.5 2.6 3.5 1.3 9.5 .5 3.5-.3 2.5-.7 3-2.1 5-7 2-1.5 1 .3 1 .9 4 6 2 2.2 2.5 1.6 3.5 .8 8.5 .5 6.5-.3 2.5-.8 3.5-2.7 1.5-.4 5 3.4 3.5 .9 44.5 .5"/>
<path stroke="#dcc550" d="M360.1 565.7l25 .9 33-.1 43.5-1.2 30-1.7 6-.9 3.5-1.6 3-2.9 4.5-5.8 2-1.1 2 1.1 5.5 6.4 3 1.9 2.5 .7 3 .3 9.5-.6 4-1.2 2.5-2.6 2-5 3-11.7 1-2.3 .5-.2 1 1.6 3 11.4 2 5.4 1 1.5 1.5 1.3 3.5 1 10.5 .5 44-.3 28 .6 2-.3 1.5-.7 3.5-3.6 1-.4 1 .5 4 4.4 4 1.2 20.5 1.7 13 .4 3-.8 3.5-3.7 1-.5 1 .4 3.5 4 2.5 1.3 7 .7 11 .2 4.5-.4 2.5-1 2-1.9 3-4.3 1.5-1 1.5 .8 4 5.6 2.5 1.8 4 .8 8 .3 9-.3 4-1.1 2.5-2.3 4-7 1.5-1.2 1.5 1.3 3 5 1.5 1.7 2.5 1.1 2-.8 1.5-1.8 1.5-3.3 4-16.2 1.5-3.6 .5 .1 1 2.2 3.5 14.3 1 3 1.5 2.7 1.5 .7 1.5-1.1 1.5-2.9 2.5-6.8 1-1.6 .5-.1 1 1.2 3 8.4 2 3.9 2.5 1.9 3 .3 2-.4 1.5-.8 2.5-3.1 2-5.1 3-10 1-1.9 .5-.3 1 .9 4 8.6 1 .7 1.5-.6 2-3.9 4-12.5 1-1.6 .5-.2 1 .7 1 1.8 4.5 11.3 3.5 6.5 3 3.2 1.5 .5 1.5-.3 2-1.9 1.5-2.7 6-18 1.5-3 1-.5 1 .6 1.5 3 5.5 17.3 2 4.7 2 3.3 2.5 2.6 2.5 1.3 3.5 .9 5.5 .7 17 .2 4.5-.4 3.5-1 2-1.2 2-1.9 7-10.7 1.5-1.5 1-.4 1 .2 1.5 1.3 5.5 8.7 2.5 3 3 2.1 4 1 4-.5 2.5-1.6 2.5-3.5 3.5-7.4 1.5-1.5 1.5 1.1 4 8.4 2.5 3.5 3 1.8 4.5 .7 5.5 0 3.5-.8 2-1.3 3.5-4 1.5-1 1.5 .8 4.5 5 3.5 1.5 9 .6 25 .2 21-.5 3-.8 3.5-2.6 1.5-.6 1 .3 3.5 2.4 2 .5 3-.5 4-2.7 1.5-.6 1.5 .4 3.5 2.1 2 .2 2-1 3.5-3.8 1.5-.9 1.5 .8 3 3.6 2 1.7 2 .8 2.5 .4 4.5 0 3.5-.8 2.5-1.6 4-3.8 1.5-.6 1.5 .7 3.5 3.5 2 1.5 2 .8 3 .5 4.5 .1 3-.5 6-3.4 1.5 .6 3.5 2.5 2.5 .8 8.5 .3 9.5-.4 3.5-1.1 4.5-3.7 1-.1 3 1 1-.1 4.5-2.9 1.5 .7 4.5 4.5 2.5 1.2 5 .5 9.5-.2 4.5-.7 2.5-1.2 6.5-7.5 1-.2 3 .4 2-1 3-4.4 4.5-10 1.5-1.5 1 .8 1 2.2 3.5 11.8 2.5 5.9 2.5 2.9 3.5 1.5 4.5 .5 5 .1 3.5-.4 2.5-.9 3-2.7 5-9 1-1.4 1-.6 1 .4 1 1.2 4 7.6 2 2.8 2.5 2 3.5 1.2 8.5 .5 6.5-.3 2.5-1.1 3.5-3.4 1.5-.6 5 4.4 3.5 1.1 11 .5 33.5 .1"/>
<path stroke="#dbc14f" d="M360.1 556.6l25 .8 32.5-.2 42.5-1.2 31-1.7 6-.9 3.5-1.4 3-2.4 5-6.2 2-1 2 1.1 5.5 6.1 3 1.8 5.5 .8 9.5-.7 4-1.3 1.5-1.4 1-1.6 2-5.7 3-13.4 1-2.7 .5-.3 1 1.9 3 13.1 2 6.1 1 1.8 1.5 1.5 3.5 1.2 9.5 .5 42.5-.3 30 .7 2.5-.4 1.5-.9 3.5-4.4 1-.6 1 .7 2.5 3.8 1.5 1.5 1.5 .9 2.5 .5 20.5 1.8 13 .4 3-1.1 3.5-4.4 1-.7 1 .5 3.5 4.8 2.5 1.5 6.5 .8 11.5 .2 4.5-.4 2.5-1.3 2-2.1 3-4.9 1.5-1.3 1.5 1 4 6.4 2.5 2 4 1 8 .3 9-.4 4-1.3 2.5-2.5 4-8 1.5-1.4 1.5 1.4 3 5.8 1.5 2 1 .7 1.5 .4 2-.8 1.5-2.1 1.5-3.8 4-18.6 1.5-4.1 .5 .1 1 2.5 3.5 16.4 1 3.4 1.5 3 1.5 .8 1.5-1.4 1.5-3.5 2.5-8.3 1-2 .5-.1 1 1.4 3 10.3 2 4.7 1 1.3 1.5 1 3 .4 2-.5 1.5-.9 2.5-3.8 2-6.1 3-12.1 1-2.2 .5-.3 1 1.2 4 11.1 1 1.2 1 0 1-1 1.5-3.2 4-13.4 1-1.6 .5-.2 1.5 1.9 5 13.4 3 5.9 2 2.7 1.5 1.2 1.5 .5 1.5-.5 2-2.2 1.5-3.1 6-19.9 1.5-3.2 1-.5 1 .8 1 2 6 20.4 2 5.2 2 3.5 2.5 2.7 2.5 1.5 3.5 1 5.5 .6 17 .4 4.5-.5 3.5-1 2-1.2 2-1.8 7-10.7 1.5-1.6 1-.4 1 .2 1.5 1.3 5.5 8.7 3.5 3.9 2 1.2 2 .6 2.5 .3 2.5-.3 2.5-1.3 2-2.4 5-11.9 1.5-1.9 .5 .1 1 1.2 4 10.2 2.5 4.2 3 2.2 4.5 .9 5.5 0 3.5-.9 2-1.5 3.5-4.6 1.5-1.1 1.5 .8 4.5 5.8 1.5 1 2 .7 9 .7 24.5 .2 21.5-.5 3-1.1 3.5-3.1 1.5-.7 1 .4 3.5 2.9 2 .7 3-.7 4-3 1.5-.7 1.5 .5 3.5 2.3 2 .3 2-1.2 3.5-4.4 1.5-.9 1.5 .9 3 4.1 2 1.9 2 1 2.5 .4 5-.1 3-.9 2.5-1.9 4-4.7 1.5-.6 1.5 .8 3.5 4.2 2 1.8 2 1 3 .6 4.5 .1 3-.5 2-1.2 3-2.6 1-.4 1.5 .7 3.5 3.1 2.5 .9 7.5 .4 10-.4 2-.4 2-1 4.5-4.5 1-.1 2.5 1.3 1.5 0 4.5-3.2 1.5 .7 4 4.8 3 1.8 5 .5 9.5-.2 4.5-.7 2.5-1.4 2-2.2 3.5-5.3 1-.8 1-.1 3 .7 2-.9 2.5-3.7 5-12.7 1.5-1.8 1 .7 1 2.5 3.5 13.1 2.5 6.6 2.5 3.3 3.5 1.6 4.5 .6 5 0 3.5-.5 2.5-1.1 3-3.3 5-10.9 1-1.7 1-.7 1 .5 1 1.4 4 9.3 2 3.4 2.5 2.4 3.5 1.4 8.5 .7 6.5-.5 2.5-1.3 3.5-4.1 1.5-.7 1 .6 4 4.7 3.5 1.4 11 .5 33.5 .2"/>
<path stroke="#dabe4f" d="M360.1 547.4l25.5 .7 32.5-.2 42-1.3 31-1.7 6-.8 3.5-1.4 3-2.4 5-6 2-.9 2 1.1 5.5 5.9 3 1.6 5.5 .8 9-.7 2.5-.6 2-1 1.5-1.5 1-1.8 2-6.3 3-14.9 1-3 .5-.2 1 2 3 14.6 2 6.7 1 2 1.5 1.6 3.5 1.4 9.5 .6 42-.3 30.5 .6 2.5-.5 1.5-1 3.5-5.3 1-.6 1 .8 2.5 4.4 1.5 1.8 1.5 1 2.5 .6 20.5 1.9 13 .3 1.5-.4 1.5-.9 3.5-5.2 1-.9 1 .6 3.5 5.7 2.5 1.7 6.5 .9 11.5 .3 4.5-.6 2.5-1.3 2-2.5 3-5.4 1.5-1.3 1.5 1 4 7 2.5 2.3 4 1.1 8.5 .3 8.5-.4 2.5-.6 1.5-.8 2.5-2.9 4-8.9 1.5-1.5 1.5 1.6 3 6.4 1.5 2.2 1 .8 1.5 .5 2-1 1.5-2.3 1.5-4.2 4-20.6 1.5-4.5 .5 .1 1 2.7 3.5 18.2 1 3.7 1.5 3.3 1.5 .7 1.5-1.7 1.5-4.2 2.5-9.7 1-2.4 .5-.1 1 1.7 3 12 2 5.6 1 1.5 1.5 1.2 3 .5 2-.5 1.5-1.1 1.5-2.1 1-2.3 2-7.2 3-14.1 1-2.5 .5-.3 1 1.4 4 13.7 1 1.6 1 .3 1-.9 1-1.9 4.5-15.4 1-1.6 .5-.2 1.5 2.2 4.5 13.1 3.5 7.4 2 2.6 1.5 1.2 1.5 .4 1.5-.6 2-2.5 1.5-3.4 6-21.5 1.5-3.3 1-.6 1 1 1 2.2 6 22.1 2 5.4 2 3.8 2.5 2.8 2.5 1.6 3.5 1 5.5 .7 17 .4 4.5-.4 3.5-1 2-1.2 2-1.9 7-10.7 1.5-1.5 1-.4 1 .2 1.5 1.3 5.5 8.6 3.5 3.9 2 1.1 2 .7 2.5 .2 2.5-.4 2.5-1.6 2-2.8 5-14.1 1.5-2.2 .5 .1 1 1.5 4 11.9 2.5 5 1.5 1.6 1.5 1 4.5 1 5.5 .1 3.5-1 2-1.7 3.5-5.1 1.5-1.2 1.5 .9 4.5 6.4 1.5 1.1 2 .8 9 .8 24.5 .2 15.5-.2 6-.4 3-1.3 3.5-3.6 1.5-.8 1 .4 3.5 3.4 2 .8 1.5-.1 1.5-.5 4-3.4 1.5-.8 1.5 .5 3.5 2.7 2 .2 2-1.2 3.5-4.9 1.5-1.1 1.5 1 3.5 5.2 2 1.9 3 1.1 4.5 .1 3-.6 2.5-1.4 5.5-7.1 1.5-.7 1.5 1 3.5 5 2 2.1 2 1.1 3 .7 4.5 .1 3-.6 2-1.3 3-3.1 1-.5 1.5 .8 3.5 3.6 2.5 1.1 7.5 .5 10-.4 2-.5 2-1.2 4.5-5.2 1-.1 2.5 1.5 1.5 .1 3.5-3 1-.4 1.5 .8 4 5.3 3 2 5 .6 9.5-.2 4.5-.8 2.5-1.5 2-2.4 3-5.1 1.5-1.5 1-.1 3.5 1 2-1.3 2.5-4.5 4.5-13 1.5-2.2 1 .7 1 2.6 3.5 14.4 2.5 7.2 2.5 3.5 3.5 1.8 4.5 .6 5-.1 3.5-.6 2.5-1.3 3-3.8 5-12.9 1-2 1-.8 1 .5 1 1.8 4 10.8 2 4 2.5 2.9 3.5 1.6 8.5 .8 6.5-.5 2.5-1.6 3.5-4.8 1.5-.9 1 .8 4 5.5 1.5 1 2 .6 11 .6 33.5 .2"/>
<path stroke="#d9bb4e" d="M360.1 538.2l25.5 .7 33-.3 42-1.3 30.5-1.8 6-.8 3.5-1.4 3-2.4 5-5.9 2-.8 2 1.1 5 5.3 3.5 2 5.5 .7 9-.7 2.5-.6 2-1 1.5-1.5 1-1.8 2-6.3 3-14.9 1-2.9 .5-.3 1 2 3 14.6 2 6.8 1 1.9 1.5 1.6 3.5 1.4 9.5 .6 42-.3 30.5 .6 2.5-.6 1.5-1.2 3.5-6.1 1-.7 1 .9 2.5 5 1.5 2.1 1.5 1.1 2.5 .7 20.5 2 13 .3 1.5-.5 1.5-1 3.5-6.1 1-1 1 .7 3.5 6.5 2.5 2 6.5 .9 11.5 .3 4.5-.5 2.5-1.3 2-2.5 3-5.4 1.5-1.4 1.5 1.1 4 7 2.5 2.3 4 1.1 8 .3 9-.5 2.5-.6 1.5-.7 2.5-2.9 4-8.9 1.5-1.5 1.5 1.5 3 6.4 1.5 2.2 1 .9 1.5 .4 2-.9 1.5-2.3 1.5-4.3 4-20.6 1.5-4.5 .5 .1 1 2.7 3.5 18 1 3.7 1.5 3.2 .5 .5 1 0 1.5-2.2 1.5-4.8 2.5-11.4 1-2.7 .5-.2 1 2 3 13.8 2 6.4 1 1.7 1.5 1.4 3 .6 2-.6 1.5-1.3 1.5-2.4 1-2.6 2-8.2 3-16.1 1-2.9 .5-.3 1 1.7 3.5 14.8 1 2.7 1 1.4 1 0 1.5-2.2 4.5-15.1 1-1.6 .5-.1 1.5 2.1 4.5 13.2 2.5 5.6 3 4.4 1.5 1.2 1.5 .4 1.5-.6 1-.9 2-3.7 2-5.8 4.5-16.9 1.5-3.4 1-.5 1 .9 1 2.3 6 22 2 5.5 2 3.8 2.5 2.8 2.5 1.6 3.5 1 5.5 .7 17 .4 4.5-.4 3.5-1.1 2-1.2 2-1.8 7-10.7 1.5-1.6 1-.4 1 .2 1.5 1.3 5.5 8.6 3.5 3.9 2 1.1 2.5 .7 2.5 .1 2-.5 2.5-1.8 2-3.4 1.5-4 3.5-12.1 1.5-2.6 .5 .2 1 1.6 4 13.8 2.5 5.7 1.5 1.9 1.5 1 5 1.3 5.5 0 3-.9 2-1.7 3.5-5.1 1.5-1.1 1.5 .9 4.5 6.3 1.5 1.2 2 .8 9 .7 24 .2 15.5-.1 6.5-.5 3-1.5 3.5-4.2 1.5-.9 1 .5 3.5 4 2 .9 1.5 0 1.5-.5 4-3.4 1.5-.7 1.5 .5 3.5 2.6 2 .3 2-1.3 3.5-4.8 1.5-1.1 1.5 1 3.5 5.1 2 1.9 3 1.1 4 .1 3-.5 2.5-1.4 2-2.2 4-6.4 1.5-.9 1.5 1.2 3.5 5.7 2 2.4 2 1.4 3 .8 4.5 .1 3-.7 2-1.6 3-3.6 1-.5 1.5 1 3.5 4.1 2.5 1.3 7 .5 10-.4 2.5-.6 1.5-.9 5-6.4 1-.1 2.5 2 1.5 .4 4.5-3.2 1.5 .8 4 5.4 3 1.9 5 .7 9.5-.3 4.5-.8 2.5-1.4 2-2.4 3-5.1 1.5-1.6 1-.1 3.5 1.1 2-1.3 2.5-4.6 4.5-13 1.5-2.2 1 .8 1 2.6 3.5 14.3 2.5 7.2 2.5 3.5 3.5 1.8 4.5 .5 5.5-.1 3-.7 2.5-1.5 1.5-1.8 1.5-2.7 5-14.8 1-2.2 1-1 1 .6 1 2 4 12.5 2 4.6 2.5 3.3 3.5 1.8 8.5 .9 4 0 2.5-.5 2.5-1.8 3.5-5.7 1-.9 .5 0 1 .9 4 6.3 1.5 1.2 2 .7 11 .6 33.5 .3"/>
<path stroke="#d9b74e" d="M360.1 529.1l26 .6 33-.4 41.5-1.4 30.5-1.7 6-.9 3.5-1.4 3-2.4 4.5-5.4 2-1.2 2 .7 5.5 5.7 3.5 1.9 5.5 .7 9-.7 2.5-.6 2-1 1.5-1.6 1-1.7 2-6.4 3-14.8 1-3 .5-.3 1 2.1 3 14.5 2 6.8 1 1.9 1.5 1.7 3.5 1.3 9.5 .6 41.5-.4 31 .6 2.5-.7 1.5-1.3 3.5-6.9 1-.9 1 1.1 2.5 5.7 1.5 2.3 2 1.5 3.5 .8 21 1.9 11 .1 1.5-.5 1.5-1.2 3.5-6.9 1-1.1 1 .8 3.5 7.4 2.5 2.1 2.5 .7 5 .5 12.5 .1 3-.6 2.5-1.6 1.5-2 3-5.4 1.5-1.4 1.5 1.1 4 7 2.5 2.3 4 1.1 8 .3 9-.5 2.5-.6 1.5-.7 2.5-2.9 4-8.9 1.5-1.5 1.5 1.5 3 6.4 1.5 2.2 1 .8 1.5 .5 2-1 1.5-2.3 1.5-4.2 4-20.7 1.5-4.6 .5 .2 1 2.7 3.5 17.9 1.5 5 1 1.7 1 .5 .5-.2 1.5-2.6 1.5-5.6 2.5-12.9 1-3.1 .5-.3 1 2.3 3 15.6 2 7.1 1 2 1.5 1.7 1.5 .6 1.5 0 1.5-.4 1.5-1.1 1.5-2.2 1-2.5 2-8 3.5-20.9 1-3.2 .5-.3 .5 .6 1 3.4 3 15.1 1 3.3 1 1.8 1 .3 1.5-2 4.5-14.8 1-1.6 .5-.1 1.5 2.2 4.5 13.2 2.5 5.7 3 4.4 1.5 1.2 1.5 .4 1.5-.6 1-1 2-3.6 2-5.8 5-18.3 1.5-2.4 1 .2 2 4.3 6 22.1 1.5 4 2 3.8 2.5 2.8 2.5 1.5 4 1.2 5.5 .7 16.5 .3 4.5-.4 3.5-1.1 2-1.2 2-1.8 7-10.8 1.5-1.5 1-.4 1 .2 1.5 1.3 5.5 8.6 3.5 3.8 2 1.1 2.5 .7 2.5-.1 2-.5 2.5-2.1 2-3.8 1.5-4.5 3.5-13.8 1.5-2.8 .5 .1 1 1.9 4 15.5 2.5 6.5 1.5 2.1 1.5 1.2 2 .9 3 .5 5.5 .1 3-.9 2-1.7 3.5-5 1.5-1.2 1.5 .9 4.5 6.4 1.5 1.1 2 .8 9 .8 23.5 .2 16-.2 6.5-.5 3-1.7 3.5-4.7 1.5-1 1 .5 3.5 4.5 2 1.2 1.5 0 1.5-.5 4-3.3 1.5-.8 1.5 .5 3.5 2.7 2 .2 2-1.2 3.5-4.9 1.5-1.1 1.5 1 3.5 5.2 2 1.8 3 1.1 4 .1 3-.6 2.5-1.6 2-2.5 4-7.2 1.5-1 1.5 1.3 3.5 6.5 2 2.7 2 1.5 3 .9 4.5 .1 3-.8 2-1.7 3-4.1 1-.5 1.5 1 3.5 4.7 2.5 1.4 7.5 .6 10-.5 2-.6 1.5-1 4.5-6.7 1-.7 1 .5 2.5 2.4 1 .3 1-.3 3-2.5 1 0 1 .7 4 5.4 1.5 1.2 2 .9 5.5 .6 8.5-.3 4.5-.8 2.5-1.5 2-2.4 3-5.1 1.5-1.5 1-.1 3.5 1 2-1.3 2.5-4.5 4.5-13 1.5-2.2 1 .7 1 2.6 3.5 14.3 2.5 7.2 2.5 3.5 3.5 1.8 4.5 .5 5.5-.2 3-.8 2.5-1.7 1.5-2 1.5-3.1 5-16.7 1-2.6 1-1.1 1 .7 1 2.2 4 14.1 2 5.2 2.5 3.8 1.5 1.1 2 .9 3.5 .7 5 .4 4-.1 2.5-.6 2.5-2 3.5-6.4 1-1 .5 0 1 1 4 7.1 1.5 1.3 2 .8 11 .8 33.5 .2"/>
<path stroke="#d8b44d" d="M360.1 519.9l26 .5 33-.3 41-1.5 30.5-1.8 6-.8 4-1.5 3-2.4 4.5-5.3 2-1.2 2 .7 5.5 5.7 3.5 1.8 5.5 .7 9-.8 2.5-.6 2-1 1.5-1.5 1-1.8 2-6.3 3-14.9 1-3 .5-.2 1 2 3 14.5 2 6.8 1 1.9 1.5 1.7 3.5 1.3 9.5 .6 41.5-.4 31 .6 2.5-.6 1.5-1.3 3.5-6.9 1-.9 1 1 2.5 5.7 1.5 2.4 2 1.4 4 1 20.5 1.8 11 .2 1.5-.5 1.5-1.2 3.5-6.9 1-1.1 1 .7 3.5 7.4 2.5 2.2 2.5 .7 5 .5 12.5 .1 3-.6 2.5-1.6 1.5-2 3-5.4 1.5-1.4 1.5 1.1 4 7 2.5 2.3 4 1.1 8 .3 9-.4 2.5-.6 1.5-.8 2.5-2.9 4-8.9 1.5-1.5 1.5 1.5 3 6.4 1.5 2.2 1 .9 1.5 .4 2-1 1.5-2.3 1.5-4.2 4-20.6 1.5-4.6 .5 .1 1 2.7 3.5 17.9 1.5 5 1 1.7 1 .5 .5-.2 1.5-2.6 1.5-5.6 2.5-12.9 1-3.1 .5-.2 1 2.2 3 15.6 2 7.2 1 2 1.5 1.6 1.5 .6 1.5 0 1.5-.4 1.5-1 1.5-2.2 1-2.5 2-8 3.5-20.9 1-3.2 .5-.3 .5 .6 1 3.5 3 15.3 1 3.3 1 1.9 1 .4 1.5-1.8 4.5-14.3 1-1.5 .5-.1 1.5 2.2 4 11.7 2.5 5.8 3 4.5 1.5 1.3 1.5 .6 1.5-.3 1-.8 2.5-4.1 2-5.8 4.5-16.6 1.5-3.3 1-.4 1 .9 1 2.3 6 21.6 2 5.4 2 3.6 2.5 2.8 2.5 1.4 4 1.2 5.5 .6 16.5 .3 4.5-.3 3.5-1 2-1.1 2-1.8 7-9.9 1.5-1.5 1-.3 1 .1 1.5 1.2 5.5 8 3.5 3.5 2 1.1 2.5 .6 2.5-.1 2-.6 2.5-2 2-3.8 1.5-4.6 3.5-13.7 1.5-2.9 .5 .1 1 1.9 4 15.5 2.5 6.5 1.5 2.1 1.5 1.2 2 .9 3 .5 5.5 .1 3-.9 2-1.6 3.5-5.1 1.5-1.2 1.5 .9 4.5 6.4 1.5 1.1 2 .8 9 .8 23.5 .2 16-.2 6.5-.6 3-1.6 3.5-4.7 1.5-1 1 .5 3.5 4.5 2 1.2 1.5 0 1.5-.5 4-3.4 1.5-.7 1.5 .5 3.5 2.7 2 .2 2-1.2 3.5-4.9 1.5-1.1 1.5 1 3.5 5.2 2 1.8 3 1.1 4 .1 3-.7 2.5-1.5 2-2.5 4-7.2 1.5-1 1.5 1.3 3.5 6.4 2 2.8 2 1.5 3 .9 4.5 .1 3-.8 2-1.7 3-4.1 1-.5 1.5 1 3.5 4.7 2.5 1.4 7.5 .6 10-.5 2-.6 1.5-1.1 4.5-6.7 1-.6 1 .5 2.5 2.4 1 .3 1-.4 3-2.4 1-.1 1 .8 4 5.4 1.5 1.2 2 .9 5.5 .5 8.5-.2 4.5-.8 2.5-1.5 2-2.3 3-5.1 1.5-1.5 1-.1 3.5 1.3 2-1.2 2.5-4.4 4.5-13.1 1.5-2.3 1 .7 1 2.5 3.5 14.2 2.5 7.1 2.5 3.5 3.5 1.7 4.5 .5 5.5-.2 3-.8 2.5-1.8 1.5-2 1.5-3 5-16.7 1-2.6 1-1.1 1 .6 1 2.3 4 14.1 2 5.2 2.5 3.7 1.5 1.2 2 .9 3.5 .7 5 .3 4 0 2.5-.6 2.5-2.1 3.5-6.3 1-1.1 .5 0 1 1.1 4 7.1 1.5 1.3 2 .8 11 .7 33.5 .3"/>
<path stroke="#d7b04d" d="M360.1 510.7l26 .5 33.5-.4 40.5-1.5 30.5-1.9 6-.8 4-1.5 3-2.4 4.5-5.3 2-1.1 2 .8 6 5.9 3 1.5 5.5 .5 9-.7 2.5-.7 2-.9 1.5-1.6 1-1.8 2-6.3 3-14.9 1-2.9 .5-.3 1 2 3 14.6 2 6.7 1 1.9 1.5 1.7 3.5 1.3 9 .6 42-.4 31 .7 2.5-.7 1.5-1.3 3.5-6.9 1-.9 1 1.1 2.5 5.7 1.5 2.3 2 1.5 4 1 20.5 1.9 11 .1 1.5-.4 1.5-1.3 3.5-6.8 1-1.1 1 .7 3.5 7.4 2.5 2.2 2.5 .6 5 .5 12.5 .2 3-.6 2.5-1.6 1.5-2 3-5.4 1.5-1.3 1.5 1.1 4 7 2.5 2.3 4 1 8 .4 9-.5 2.5-.6 1.5-.8 2.5-2.9 4-8.9 1.5-1.5 1.5 1.6 3 6.4 1.5 2.1 1 .9 1.5 .4 2-1 1.5-2.2 1.5-4.3 4-20.6 1.5-4.6 .5 .1 1 2.7 3.5 18 1.5 4.9 1 1.8 1 .5 .5-.3 1.5-2.6 1.5-5.6 2.5-12.9 1-3 .5-.3 1 2.2 3 15.6 2 7.2 1 2 1.5 1.7 1.5 .6 1.5 0 1.5-.4 1.5-1.1 1.5-2.2 1-2.4 2-8 3.5-20.8 1-3.2 .5-.3 .5 .6 1 3.6 3 15.3 1 3.5 1 1.9 1 .5 1.5-1.7 4.5-13.8 1-1.4 .5 0 1.5 2.3 4 11.4 2.5 5.5 3 4.2 1.5 1.2 1.5 .5 1.5-.3 1-.8 2.5-4.2 2-5.7 4.5-16.3 1.5-3.1 1-.5 1 1 1.5 3.7 6 21.3 1.5 3.7 2 3.6 2.5 2.6 2.5 1.5 4 1 5.5 .7 16.5 .3 4.5-.3 3.5-.9 4-2.7 7-9.2 1.5-1.3 1-.3 1 .1 1.5 1.1 5.5 7.4 3.5 3.2 4 1.4 2.5 .1 2-.5 1.5-.8 1.5-1.5 2-3.8 1.5-4.5 3.5-13.8 1.5-2.9 .5 .2 1 1.8 4 15.6 2.5 6.4 1.5 2.1 1.5 1.3 2 .8 3 .6 5.5 .1 3-1 2-1.6 3.5-5.1 1.5-1.2 1.5 .9 4.5 6.4 1.5 1.1 2 .8 9 .8 23.5 .2 16-.2 6.5-.6 3-1.6 3.5-4.7 1.5-1 1 .5 3.5 4.5 2 1.2 1.5 0 1.5-.5 4-3.4 1.5-.7 1.5 .5 3.5 2.6 2 .3 2-1.2 3.5-4.9 1.5-1.1 1.5 1 3.5 5.2 2 1.8 3 1.1 4 0 3-.6 2.5-1.5 2-2.6 4-7.2 1.5-.9 1.5 1.3 3.5 6.4 2 2.7 2 1.6 3 .9 4.5 .1 3-.8 2-1.7 3-4.1 1-.6 1.5 1.1 3.5 4.7 2.5 1.4 7.5 .6 10-.5 2-.6 1.5-1.1 4.5-6.7 1-.6 1 .5 2.5 2.4 1 .3 1-.4 3-2.5 1 0 1 .8 4 5.4 1.5 1.2 2 .9 5.5 .5 8.5-.2 4.5-.8 2.5-1.5 2-2.3 3-5 1.5-1.4 1-.1 3.5 1.4 2-1 2.5-4.3 4.5-13.2 1.5-2.4 1 .7 1 2.4 3.5 14 2.5 7.1 2.5 3.4 3.5 1.7 5 .5 5-.3 3-.7 2.5-1.8 1.5-2 1.5-3 5-16.8 1-2.6 1-1.1 1 .7 1 2.3 4 14.1 2 5.2 2.5 3.7 1.5 1.2 2 .9 3.5 .7 5 .3 4-.1 2.5-.5 2.5-2.1 3.5-6.3 1-1.1 .5 0 1 1 4 7.2 1.5 1.3 2 .7 11 .8 33.5 .2"/>
<path stroke="#d6ad4c" d="M360.1 501.5l26.5 .5 33.5-.5 40.5-1.6 30-1.8 6-.9 4-1.5 3-2.4 4.5-5.2 2-1.1 2 .8 5.5 5.5 3.5 1.8 5.5 .5 9-.8 2.5-.6 2-1 1.5-1.6 1-1.7 2-6.4 3-14.8 1-3 .5-.3 1 2.1 3 14.5 2 6.7 1 2 1.5 1.6 3.5 1.3 9 .6 42-.4 31 .7 2.5-.7 1.5-1.3 3.5-6.8 1-.9 1 1 2.5 5.7 1.5 2.4 2 1.5 4 .9 20.5 2 11 .2 1.5-.5 1.5-1.2 3.5-6.9 1-1.1 1 .8 3.5 7.4 2.5 2.2 2.5 .6 5 .5 12.5 .2 3-.6 2.5-1.6 1.5-2 3-5.3 1.5-1.4 1.5 1.1 4 7 2.5 2.3 4 1.1 8 .3 9-.5 2.5-.6 1.5-.8 2.5-2.9 4-8.8 1.5-1.6 1.5 1.6 3 6.4 1.5 2.2 1 .8 1.5 .4 2-.9 1.5-2.3 1.5-4.3 4-20.6 1.5-4.6 .5 .1 1 2.7 3.5 18 1.5 5 1 1.7 1 .5 .5-.2 1.5-2.6 1.5-5.6 2.5-12.9 1-3.1 .5-.3 1 2.3 3 15.6 2 7.2 1 2 1.5 1.6 1.5 .6 1.5 .1 1.5-.5 1.5-1 1.5-2.2 1-2.4 2-8 3.5-20.8 1-3.1 .5-.3 .5 .6 1 3.6 3 15.5 2 5.5 1 .6 1.5-1.5 4.5-13.3 1-1.3 .5 0 1.5 2.3 4 11.3 2.5 5.2 3 3.9 1.5 1.1 1.5 .3 1.5-.4 1-.8 2-3 2.5-6.8 4.5-16 1.5-3 1-.4 1 1 1 2.3 6 20.9 1.5 3.9 2 3.8 2.5 2.9 2.5 1.6 4 1.1 5.5 .7 17 .4 4.5-.3 3.5-.9 4-2.4 7-8.4 1.5-1.2 1-.3 1 .1 1.5 1 5.5 6.7 3.5 3 4 1.3 2.5-.1 2-.4 1.5-.8 1.5-1.6 2-3.7 1.5-4.6 3.5-13.8 1.5-2.8 .5 .1 1 1.9 4 15.5 2.5 6.5 1.5 2.1 1.5 1.2 2 .8 3 .6 5.5 .1 3-.9 2-1.7 3.5-5.1 1.5-1.2 1.5 .9 4.5 6.4 1.5 1.1 2 .8 9 .8 23.5 .2 16-.2 6.5-.6 3-1.6 3.5-4.7 1.5-1.1 1 .6 3.5 4.5 2 1.2 1.5 0 1.5-.5 4-3.4 1.5-.7 1.5 .5 3.5 2.6 2 .3 2-1.2 3.5-4.9 1.5-1.1 1.5 1 3.5 5.2 2 1.8 3 1.1 4 0 3-.6 2.5-1.6 2-2.5 4-7.2 1.5-.9 1.5 1.3 3.5 6.4 2 2.7 2 1.5 3 1 4.5 .1 3-.8 2-1.8 3-4 1-.6 1.5 1.1 3.5 4.6 2.5 1.5 7.5 .6 10-.5 2-.7 1.5-1 4.5-6.7 1-.6 1 .4 2.5 2.5 1 .2 1-.3 3-2.5 1 0 1 .8 4 5.4 1.5 1.2 2 .9 5.5 .5 8.5-.2 4.5-.8 2.5-1.4 2-2.4 3-4.9 1.5-1.4 1 0 3.5 1.6 2-.9 2.5-4.2 4.5-13.3 1.5-2.4 1 .5 1 2.5 3.5 13.8 2.5 6.9 2.5 3.4 3.5 1.7 5 .5 5-.3 3-.8 2.5-1.7 1.5-2 1.5-3.1 5-16.7 1-2.6 1-1.1 1 .7 1 2.3 4 14.1 2 5.2 2.5 3.7 1.5 1.2 2 .8 3.5 .7 5 .4 4-.1 2.5-.6 2.5-2 3.5-6.4 1-1 .5 0 1 1 4 7.1 1.5 1.3 2 .8 11 .8 33.5 .2"/>
<path stroke="#d5aa4b" d="M360.1 492.4l27 .3 33.5-.5 40-1.6 30-1.9 6-.9 4-1.5 3-2.4 4.5-5.2 2-1 2 .9 5.5 5.3 3.5 1.8 6 .5 8.5-.8 2.5-.7 2-1 1.5-1.5 1-1.8 2-6.3 3-14.9 1-3 .5-.3 1 2.1 3 14.5 2 6.8 1 1.9 1.5 1.6 3.5 1.3 8.5 .6 42.5-.4 31 .7 2.5-.6 1.5-1.3 3.5-6.9 1-.8 1 1 2.5 5.7 1.5 2.4 2 1.5 4 .9 20.5 2 11 .3 1.5-.5 1.5-1.2 3.5-6.9 1-1.1 1 .8 3.5 7.4 2.5 2.2 2.5 .6 5 .5 12.5 .2 3-.5 2.5-1.7 1.5-1.9 3-5.4 1.5-1.4 1.5 1.1 4 7 2.5 2.3 4 1.1 8 .3 9-.5 2.5-.6 1.5-.8 2.5-2.8 4-8.9 1.5-1.6 1.5 1.6 3 6.4 1.5 2.2 1 .8 1.5 .5 2-1 1.5-2.3 1.5-4.2 4-20.7 1.5-4.6 .5 .2 1 2.7 3.5 17.9 1.5 5 1 1.7 1 .5 .5-.2 1.5-2.6 1.5-5.6 2.5-12.9 1-3.1 .5-.2 1 2.2 3 15.6 2 7.2 1 2 1.5 1.7 1.5 .6 1.5 0 1.5-.4 1.5-1 1.5-2.2 1-2.4 2-8.1 3.5-20.6 1-3.2 .5-.2 .5 .6 1 3.6 3.5 17.7 1 2.8 1 1.4 1 0 1-1.2 4.5-12.8 1-1.2 .5 0 1.5 2.4 4.5 12.2 2.5 4.5 2 2.4 1.5 1.1 2 .6 1.5-.5 2-2.1 1.5-2.9 2-5.5 4.5-15.7 1.5-3 1-.3 1 1 1 2.3 6 20.5 1.5 3.8 2 3.7 2.5 2.8 2.5 1.5 4 1.1 5.5 .6 16.5 .5 5-.3 3.5-.8 4-2.2 7-7.6 2.5-1.5 1 .2 1.5 .9 5.5 6.1 3.5 2.7 4 1.1 4.5-.6 1.5-.8 1.5-1.5 2-3.8 1.5-4.5 3.5-13.9 1.5-2.8 .5 .1 1 1.9 4 15.5 2.5 6.5 1.5 2.1 1.5 1.2 2 .8 3 .6 5.5 .1 3-.9 2-1.7 3.5-5.1 1.5-1.2 1.5 .9 4.5 6.4 1.5 1.2 2 .7 9 .8 23.5 .2 16-.2 6.5-.6 3-1.6 3.5-4.7 1.5-1.1 1 .6 3.5 4.5 2 1.1 1.5 .1 1.5-.6 4-3.3 1.5-.7 1.5 .5 3.5 2.6 2 .3 2-1.3 3.5-4.8 1.5-1.1 1.5 1 3.5 5.1 2 1.9 3 1 4 .1 3-.6 2.5-1.6 2-2.5 4-7.2 1.5-1 1.5 1.3 3.5 6.5 2 2.7 2 1.5 3 .9 4.5 .2 3-.8 2-1.8 3-4 1-.6 1.5 1.1 3.5 4.6 2.5 1.4 7.5 .7 10-.5 2-.7 1.5-1 4.5-6.7 1-.6 1 .4 2.5 2.5 1 .2 1-.3 3-2.5 1 0 1 .8 4 5.3 1.5 1.3 2 .9 5.5 .5 8.5-.2 4.5-.8 2.5-1.4 2-2.3 3-4.9 1.5-1.4 1 .1 3.5 1.8 2-.9 1.5-2 1.5-3.2 4.5-13.3 1-1.4 .5 0 1.5 2.9 3.5 13.6 2.5 6.9 2.5 3.4 3.5 1.6 5 .5 5-.3 3-.8 2.5-1.7 1.5-2 1.5-3.1 5-16.7 1-2.6 1-1.1 1 .7 1 2.2 4 14.1 2 5.2 2.5 3.8 1.5 1.1 2 .9 3.5 .7 5 .4 4-.1 2.5-.6 2.5-2 3.5-6.4 1-1 .5-.1 1 1.1 4 7.1 1.5 1.3 2 .8 11 .7 33.5 .3"/>
<path stroke="#d5a74b" d="M360.1 483.2l27 .3 34-.6 40-1.7 29.5-1.9 6-.9 3.5-1.2 3-2.2 5-5.6 2-1 2 .9 5.5 5.3 3 1.5 6 .7 9-.9 2.5-.6 2-1 1.5-1.6 1-1.8 2-6.3 3-14.9 1-3 .5-.2 1 2 3 14.5 2 6.8 1 1.9 1.5 1.7 3.5 1.2 10.5 .6 42.5-.4 29 .8 2.5-.7 1.5-1.3 3.5-6.8 1-.9 1 1 2.5 5.8 1.5 2.3 2 1.5 4 1 20.5 2.1 11 .2 1.5-.5 1.5-1.2 3.5-6.8 1-1.1 1 .7 3.5 7.5 2.5 2.1 2.5 .7 5 .5 12.5 .2 3-.5 2.5-1.7 1.5-1.9 3-5.4 1.5-1.4 1.5 1.1 4 7 2.5 2.3 4 1.1 8 .3 9-.5 2.5-.6 1.5-.8 2.5-2.8 4-8.9 1.5-1.5 1.5 1.5 3 6.4 1.5 2.2 1 .9 1.5 .4 2-1 1.5-2.3 1.5-4.2 4-20.6 1.5-4.6 .5 .1 1 2.7 3.5 18 1.5 4.9 1 1.8 1 .5 .5-.3 1.5-2.6 1.5-5.6 2.5-12.9 1-3 .5-.3 1 2.3 3 15.6 2 7.2 1 2 1.5 1.6 1.5 .6 1.5 .1 1.5-.4 1.5-1.1 1.5-2.1 1-2.5 2-8 3.5-20.6 1-3.1 .5-.3 .5 .7 1 3.6 3.5 17.9 1 2.9 1 1.5 1 .1 1-1.1 4.5-12.3 1-1.2 .5 .1 1.5 2.4 4.5 12 2.5 4.2 1.5 1.7 2 1.5 2 .4 1.5-.5 2-2.2 1.5-2.8 2-5.5 4.5-15.4 1.5-2.9 1-.2 1 1 1.5 3.7 6 20.1 3 5.9 2.5 2.7 2.5 1.4 4 1.1 5.5 .6 16 .4 8.5-.8 4.5-2.1 7-6.9 2.5-1.3 2.5 1 5.5 5.4 3.5 2.4 4 1 4.5-.6 1.5-.8 1.5-1.6 2-3.8 1.5-4.5 3.5-13.8 1.5-2.9 .5 .1 1 1.9 4 15.5 2.5 6.5 1.5 2.1 1.5 1.2 2 .8 3 .6 5.5 .1 3-.9 2-1.7 3.5-5.1 1.5-1.2 1.5 .9 4.5 6.4 1.5 1.2 2 .7 9 .8 23.5 .2 16-.2 6.5-.6 3-1.6 3.5-4.7 1.5-1.1 1 .6 3.5 4.5 2 1.1 1.5 .1 1.5-.6 4-3.3 1.5-.7 1.5 .5 3.5 2.6 2 .3 2-1.3 3.5-4.8 1.5-1.1 1.5 .9 3.5 5.2 2 1.9 3 1 4 .1 3-.6 2.5-1.6 2-2.5 4-7.2 1.5-1 1.5 1.3 3.5 6.5 2 2.7 2 1.5 3 .9 4.5 .2 3-.9 2-1.7 3-4.1 1-.5 1.5 1.1 3.5 4.6 2.5 1.4 7.5 .6 10-.5 2-.6 1.5-1 4.5-6.7 1-.6 1 .4 2.5 2.4 1 .3 1-.3 3-2.5 1 0 1 .8 4 5.3 1.5 1.3 2 .8 5.5 .6 8.5-.2 4-.6 2.5-1.2 2-2 3.5-5.5 1.5-1.3 1 .1 3.5 1.9 2-.7 1.5-1.9 1.5-3.2 4.5-13.5 1-1.4 .5 0 1.5 2.8 3.5 13.4 2.5 6.9 2.5 3.3 3.5 1.6 5 .5 5-.3 3-.8 2.5-1.7 1.5-2 1.5-3.1 5-16.7 1-2.6 1-1.1 1 .6 1 2.3 4 14.1 2 5.2 2.5 3.7 1.5 1.2 2 .9 3.5 .7 5 .3 4-.1 2.5-.5 2.5-2.1 3.5-6.3 1-1.1 .5 0 1 1 4 7.2 1.5 1.3 2 .8 11 .7 33.5 .2"/>
<path stroke="#d4a44a" d="M360.1 474.0l27 .3 34-.7 39-1.6 30-2 6-.8 4-1.4 3-2.2 5-5.5 2-1 2 .9 5.5 5.3 3 1.4 6 .6 9-.8 2.5-.7 2-1 1.5-1.5 1-1.8 2-6.4 3-14.8 1-3 .5-.3 1 2 3 14.5 2 6.8 1 1.9 1.5 1.7 3.5 1.3 10 .5 43-.5 29 .9 2.5-.6 1.5-1.3 3.5-6.9 1-.8 1 1 2.5 5.7 1.5 2.4 2 1.5 4 1 20.5 2.1 11 .3 1.5-.5 1.5-1.2 3.5-6.8 1-1.1 1 .7 3.5 7.4 2.5 2.2 2.5 .7 5 .5 12.5 .2 3-.5 2.5-1.7 1.5-1.9 3-5.4 1.5-1.4 1.5 1.1 4 7 2.5 2.3 4 1.1 8 .3 9-.4 2.5-.6 1.5-.8 2.5-2.9 4-8.9 1.5-1.5 1.5 1.5 3 6.4 1.5 2.2 1 .9 1.5 .4 2-1 1.5-2.2 1.5-4.3 4-20.6 1.5-4.6 .5 .1 1 2.7 3.5 18 1.5 5 1 1.7 1 .5 .5-.2 1.5-2.6 1.5-5.6 2.5-12.9 1-3.1 .5-.2 1 2.2 3 15.6 2 7.2 1 2 1.5 1.7 1.5 .6 1.5 0 1.5-.4 1.5-1 1.5-2.2 1-2.4 2-8 3.5-20.6 1-3.1 .5-.2 1.5 4.4 3.5 18 1 3 1 1.6 1 .2 1-1 4.5-11.8 1-1.1 .5 .1 1.5 2.5 4 10.6 2.5 4.4 2 2.2 2 1.3 2 .2 1.5-.6 2-2.1 1.5-2.9 2-5.4 4.5-15.1 1.5-2.7 1-.3 1 1.2 1.5 3.6 5.5 18.3 1.5 3.6 2 3.5 2.5 2.5 2.5 1.4 3.5 1 5.5 .6 16 .5 9-.7 4.5-1.9 7-6.1 2.5-1.2 2.5 .8 5.5 4.9 3.5 2.1 4.5 .8 4-.6 1.5-.9 1.5-1.5 2-3.8 1.5-4.6 3.5-13.8 1.5-2.9 .5 .2 1 1.8 4 15.5 2.5 6.5 1.5 2.1 1.5 1.2 2.5 1 3 .4 5 .1 3-.9 2-1.7 3.5-5.1 1.5-1.2 1.5 .9 4.5 6.4 1.5 1.2 2 .7 9 .8 23.5 .2 16-.2 6.5-.6 3-1.6 3.5-4.7 1.5-1.1 1 .6 3.5 4.5 2 1.1 1.5 .1 1.5-.6 4-3.3 1.5-.7 1.5 .5 3.5 2.6 2 .3 2-1.3 3.5-4.9 1.5-1 1.5 .9 3.5 5.2 2 1.9 3 1 4 .1 3-.6 2.5-1.6 2-2.5 4-7.2 1.5-1 1.5 1.3 3.5 6.5 2 2.7 2 1.5 3 .9 4.5 .2 3-.9 2-1.7 3-4.1 1-.5 1.5 1 3.5 4.7 2.5 1.4 7.5 .6 10-.5 2-.6 1.5-1 4.5-6.7 1-.7 1 .5 2.5 2.4 1 .3 1-.3 3-2.5 1 0 1 .7 4 5.4 1.5 1.3 2 .8 6 .6 9-.3 3.5-.7 2.5-1.4 1.5-1.6 4.5-6.4 1.5-.2 3.5 2.2 1.5-.2 1-.9 2.5-4.5 4.5-13.6 1-1.4 .5-.1 1.5 2.7 4.5 16.5 2.5 5.2 2 2 2.5 1.1 4 .5 4.5 0 3-.4 2.5-.8 2-1.6 1.5-2 2.5-5.7 4.5-15.5 1.5-2.3 1 .7 1 2.3 4 14.1 2 5.2 2.5 3.7 1.5 1.2 2 .9 3.5 .7 5 .3 4-.1 2.5-.6 2.5-2 3.5-6.4 1-1 .5 0 1 1 4 7.1 1.5 1.3 2 .8 11 .8 33.5 .2"/>
<path stroke="#d3a149" d="M360.1 464.8l27.5 .2 34-.7 39-1.7 29.5-2 6-.8 4-1.4 3-2.2 5-5.5 2-.9 2 1 5.5 5.1 3 1.4 6 .6 9-.9 2.5-.6 2-1 1.5-1.6 1-1.8 2-6.3 3-14.9 1-3 .5-.3 1 2.1 3 14.5 2 6.7 1 1.9 1.5 1.7 3.5 1.3 10 .5 43-.5 29 .9 2.5-.6 1.5-1.3 3.5-6.8 1-.9 1 1 2.5 5.8 1.5 2.4 2 1.5 4 1 20.5 2.2 11 .2 1.5-.4 1.5-1.2 3.5-6.9 1-1.1 1 .8 3.5 7.4 2.5 2.2 2.5 .7 5 .5 12.5 .2 3-.5 2.5-1.7 1.5-1.9 3-5.4 1.5-1.4 1.5 1.1 4 7 2.5 2.3 4 1.1 7.5 .3 9.5-.4 2.5-.6 1.5-.8 2.5-2.9 4-8.9 1.5-1.5 1.5 1.6 3 6.4 1.5 2.2 1 .8 1.5 .4 2-.9 1.5-2.3 1.5-4.3 4-20.6 1.5-4.6 .5 .1 1 2.8 3.5 17.9 1.5 5 1 1.7 1 .5 .5-.2 1.5-2.6 1.5-5.6 2.5-12.9 1-3 .5-.3 1 2.2 3 15.6 2 7.3 1 2 1.5 1.6 1.5 .6 1.5 .1 1.5-.4 1.5-1 1.5-2.2 1-2.4 2-8 3.5-20.5 1-3.1 .5-.2 1.5 4.4 3.5 18.2 1 3.1 1.5 1.9 1-.3 1-1.4 4-10.4 1-1 .5 .1 1.5 2.6 4 10.3 2 3.5 2 2.2 2 1.3 2 .4 1.5-.4 2-1.8 2-3.5 2-5.4 4.5-14.8 1.5-2.6 1-.2 1 1.2 1 2.2 6 19.4 1.5 3.4 2 3.4 2.5 2.4 2.5 1.3 3.5 .9 5.5 .7 15.5 .5 9.5-.6 4.5-1.7 7-5.4 2.5-1 2.5 .7 5.5 4.3 3.5 1.8 4.5 .6 4-.7 1.5-.8 1.5-1.6 2-3.8 1.5-4.5 3.5-13.9 1.5-2.8 .5 .1 1 1.9 4 15.5 2.5 6.4 1.5 2.1 1.5 1.2 2.5 1 3 .5 5 0 3-.9 2-1.7 3.5-5.1 1.5-1.2 1.5 .9 4.5 6.4 1.5 1.2 2 .7 9 .8 23.5 .2 16-.2 6.5-.6 3-1.6 3.5-4.8 1.5-1 1 .6 3.5 4.5 2 1.1 1.5 .1 1.5-.6 4-3.3 1.5-.7 1.5 .5 3.5 2.6 2 .3 2-1.3 3.5-4.9 1.5-1.1 1.5 1 3.5 5.2 2 1.9 3 1 4 .1 3-.6 2.5-1.6 2-2.5 4-7.2 1.5-1 1.5 1.3 3.5 6.5 2 2.7 2 1.5 3 .9 4.5 .1 3-.8 2-1.7 3-4.1 1-.5 1.5 1 3.5 4.7 2.5 1.4 7.5 .6 10-.5 2-.6 1.5-1.1 4.5-6.7 1-.6 1 .5 2.5 2.4 1 .3 1-.4 3-2.4 1-.1 1 .8 4 5.4 1.5 1.2 2 .9 6 .6 9-.3 3.5-.7 2.5-1.3 6-8 1.5-.1 3.5 2.4 1.5-.2 1-.8 2.5-4.4 4.5-13.7 1-1.5 .5-.1 1.5 2.6 4.5 16.3 2.5 5.2 2 1.9 2.5 1.1 4 .5 4.5 0 3-.4 2.5-.9 2-1.5 1.5-2 2.5-5.7 4.5-15.5 1.5-2.3 1 .7 1 2.3 4 14.1 2 5.2 2.5 3.7 1.5 1.2 2 .8 3.5 .7 5 .4 4-.1 2.5-.6 2.5-2 3.5-6.4 1-1 .5 0 1 1 4 7.1 1.5 1.3 2 .8 11 .7 33.5 .3"/>
<path stroke="#d39e49" d="M360.1 455.7l28 .1 34-.8 38.5-1.7 29.5-2.1 6-.8 4-1.4 3-2.2 5-5.4 2-.8 2 .9 5 4.7 3.5 1.8 6 .5 9-.9 2.5-.7 2-1 1.5-1.6 1-1.7 2-6.4 3-14.9 1-3 .5-.2 1 2 3 14.5 2 6.7 1 2 1.5 1.6 3.5 1.3 10 .5 43-.5 29 1 2.5-.7 1.5-1.3 3.5-6.8 1-.8 1 1 2.5 5.8 2 2.9 2 1.1 4 .9 20.5 2.2 10.5 .3 1.5-.5 1.5-1.2 3.5-6.8 1-1.1 1 .8 3.5 7.4 2.5 2.2 2.5 .7 5 .5 12.5 .2 3-.5 2.5-1.7 1.5-1.9 3-5.4 1.5-1.4 1.5 1.1 4 7 2.5 2.3 4 1.1 7.5 .4 9.5-.5 2.5-.6 1.5-.8 2.5-2.9 4-8.8 1.5-1.6 1.5 1.6 3 6.4 1.5 2.2 1 .8 1.5 .5 2-1 1.5-2.3 1.5-4.2 4-20.7 1.5-4.5 .5 .1 1 2.7 3.5 18 1.5 4.9 1 1.8 1 .5 .5-.3 1.5-2.6 1.5-5.6 2.5-12.8 1-3.1 .5-.3 1 2.3 3 15.6 2 7.2 1 2 1.5 1.7 1.5 .6 1.5 0 1.5-.3 1.5-1.1 1.5-2.1 1-2.4 2-8 3.5-20.5 1-3 .5-.2 1.5 4.4 3.5 18.4 1 3.2 1.5 2.1 1-.2 1-1.3 3.5-9 1.5-2 .5 .2 1 1.5 4 10.2 2.5 4.3 2 2 2 1.1 2 .3 1.5-.5 2-1.8 2-3.6 2-5.2 4.5-14.6 1.5-2.5 1-.1 1 1.2 1 2.2 6 19 1.5 3.4 2 3.1 2.5 2.4 2.5 1.3 3.5 .8 5.5 .6 15.5 .5 9.5-.5 4.5-1.4 7-4.6 2.5-.9 2.5 .6 5.5 3.6 3.5 1.5 4.5 .5 4-.7 1.5-.9 1.5-1.5 2-3.8 5-18.5 1.5-2.8 .5 .1 1 1.9 4 15.5 2.5 6.4 1.5 2.1 1.5 1.2 2.5 1 3 .5 5 0 3-.9 2-1.7 3.5-5.1 1.5-1.2 1.5 .9 4.5 6.4 1.5 1.2 2 .7 9 .8 23.5 .2 16-.2 6.5-.6 3-1.6 3.5-4.8 1.5-1 1 .6 3.5 4.4 2 1.2 1.5 0 1.5-.5 4-3.3 1.5-.7 1.5 .5 3.5 2.6 2 .3 2-1.3 3.5-4.9 1.5-1.1 1.5 1 3.5 5.2 2 1.8 3 1.1 4 .1 3-.6 2.5-1.6 2-2.5 4-7.2 1.5-1 1.5 1.3 3.5 6.4 2 2.7 2 1.6 3 .9 4.5 .1 3-.8 2-1.7 3-4.1 1-.6 1.5 1.1 3.5 4.7 2.5 1.4 7.5 .6 10-.5 2-.6 1.5-1.1 4.5-6.7 1-.6 1 .5 2.5 2.4 1 .3 1-.4 3-2.4 1-.1 1 .8 4 5.4 1.5 1.2 2 .9 6 .6 9-.3 3.5-.7 2.5-1.3 6-7.9 1.5 0 3.5 2.5 1.5 0 1-.8 2.5-4.3 4.5-13.8 1-1.6 .5-.1 1.5 2.5 4.5 16.1 2.5 5.1 2 2 2.5 1 4 .5 4.5 0 3-.4 2.5-.9 2-1.5 1.5-2 2.5-5.8 4.5-15.4 1.5-2.3 1 .7 1 2.2 4 14.1 2 5.2 2.5 3.8 1.5 1.1 2 .9 3.5 .7 5 .3 4 0 2.5-.6 2.5-2.1 3.5-6.3 1-1.1 .5 0 1 1 4 7.2 1.5 1.3 2 .8 11 .7 33.5 .2"/>
<path stroke="#d29b48" d="M360.1 446.5l28 .1 34.5-.9 38.5-1.8 29-2.1 6-.8 4-1.4 3-2.3 4.5-4.8 2-1.2 2 .6 5.5 5 3.5 1.6 6 .5 9-.9 2.5-.7 2-1 1.5-1.5 1-1.8 2-6.4 3-14.9 1-3 .5-.2 1 2 3 14.5 2 6.7 1 2 1.5 1.6 3.5 1.3 10 .5 42.5-.5 30 .9 2-.5 1.5-1.3 3.5-6.9 1-.8 1 1 2.5 5.8 2 2.9 2 1.2 4 .9 20.5 2.3 10.5 .3 1.5-.5 1.5-1.2 3.5-6.8 1-1.1 1 .7 3.5 7.5 2.5 2.2 2.5 .6 5 .6 12.5 .3 3-.6 2.5-1.7 1.5-1.9 3-5.4 1.5-1.4 1.5 1.1 4 7.1 2.5 2.3 4 1 7.5 .4 9.5-.5 2.5-.6 1.5-.8 2.5-2.8 4-8.9 1.5-1.5 1.5 1.5 3 6.4 1.5 2.2 1 .9 1.5 .4 2-1 1.5-2.3 1.5-4.2 4-20.6 1.5-4.6 .5 .1 1 2.7 3.5 18 1.5 4.9 1 1.8 1 .5 .5-.2 1.5-2.6 1.5-5.6 2.5-12.9 1-3.1 .5-.2 1 2.2 3 15.6 2 7.3 1 2 1.5 1.6 1.5 .6 1.5 .1 1.5-.4 1.5-1 1.5-2.1 1-2.4 2-8 3.5-20.4 1-3.1 .5-.2 1.5 4.5 3.5 18.6 1 3.2 1.5 2.3 1-.1 1-1.2 3.5-8.6 1.5-1.8 1.5 1.7 4 10.1 2.5 4 2 1.8 2 1 2 .1 1.5-.6 2-1.9 2-3.5 2-5.2 4-12.9 1.5-3.2 1-.8 1 .6 1 1.8 6 18.5 1.5 3.6 2 3.4 2.5 2.5 2.5 1.4 3.5 .9 5.5 .7 15 .5 10.5-.4 4.5-1.2 7-3.9 2.5-.7 2.5 .5 5.5 3 3.5 1.2 4.5 .4 4-.8 1.5-.9 1.5-1.6 2-3.8 5-18.4 1.5-2.9 .5 .1 1 1.9 4 15.5 2.5 6.5 1.5 2 1.5 1.3 2.5 .9 3 .5 5 0 3-.9 2-1.7 3.5-5.1 1.5-1.2 1.5 1 4.5 6.3 1.5 1.2 2 .7 9 .8 23.5 .2 16-.2 6.5-.6 3-1.7 3.5-4.7 1.5-1 1 .6 3.5 4.4 2 1.2 1.5 0 1.5-.5 4-3.3 1.5-.7 1.5 .4 3.5 2.7 2 .2 2-1.2 3.5-4.9 1.5-1.1 1.5 1 3.5 5.2 2 1.8 3 1.1 4 .1 3-.7 2.5-1.5 2-2.6 4-7.2 1.5-.9 1.5 1.3 3.5 6.4 2 2.7 2 1.6 3 .9 4.5 .1 3-.8 2-1.7 3-4.1 1-.6 1.5 1.1 3.5 4.6 2.5 1.5 7.5 .6 10-.5 2-.7 1.5-1 4.5-6.7 1-.6 1 .4 2.5 2.5 1 .2 1-.3 3-2.5 1 0 1 .8 4 5.4 1.5 1.2 2 .9 6 .6 9-.3 3.5-.6 2.5-1.4 6-7.8 1.5 .1 3.5 2.7 1.5 0 1-.6 2.5-4.3 4.5-13.9 1-1.6 .5-.2 1.5 2.4 4.5 15.9 2.5 5.1 2 1.9 2.5 1 4 .5 4.5 0 3-.4 2.5-.9 2-1.5 1.5-2 2.5-5.8 4.5-15.5 1.5-2.2 1 .6 1 2.3 4 14.1 2 5.2 2.5 3.7 1.5 1.2 2 .9 3.5 .7 5 .3 4-.1 2.5-.5 2.5-2.1 3.5-6.3 1-1.1 .5 0 1 1 4 7.2 1.5 1.2 2 .8 11 .8 33.5 .2"/>
<path stroke="#d19847" d="M360.1 437.3l28.5 0 34-.9 37.5-1.8 29.5-2.1 6.5-.9 4-1.5 3-2.2 4.5-4.8 2-1.2 2 .7 5.5 4.9 3.5 1.6 6 .4 9-.9 2.5-.7 2-1 1.5-1.6 1-1.7 2-6.4 3-14.9 1-3 .5-.3 1 2.1 3 14.5 2 6.7 1 1.9 1.5 1.6 3.5 1.3 10 .5 42.5-.5 30 1 2-.6 1.5-1.3 3.5-6.8 1-.8 1 1 2.5 5.8 2 2.9 2 1.2 4 .9 20 2.3 11 .4 1.5-.5 1.5-1.2 3.5-6.8 1-1.1 1 .8 3.5 7.4 2.5 2.3 2.5 .6 5 .6 12.5 .3 3-.6 2.5-1.7 1.5-1.9 3-5.4 1.5-1.4 1.5 1.2 4 7 2.5 2.3 4 1.1 7.5 .3 9.5-.5 2.5-.6 1.5-.7 2.5-2.9 4-8.9 1.5-1.5 1.5 1.5 3 6.4 1.5 2.2 1 .9 1.5 .4 2-1 1.5-2.2 1.5-4.3 4-20.6 1.5-4.6 .5 .1 1 2.7 3.5 18 1.5 5 1 1.7 1 .5 .5-.2 1.5-2.6 1.5-5.6 2.5-12.9 1-3 .5-.3 1 2.2 3 15.7 2 7.2 1 2 1.5 1.7 1.5 .6 1.5 .1 1.5-.4 1.5-1 1.5-2.2 1-2.4 2-7.9 3.5-20.4 1-3 .5-.2 1.5 4.6 3.5 18.7 1 3.3 1.5 2.4 1 0 1-1 3.5-8.3 1-1.4 .5-.2 1.5 1.8 4 9.9 2.5 3.8 2 1.5 2 .8 2-.1 1.5-.6 2-1.9 2-3.5 6-17.8 1.5-3.1 1-.7 1 .6 1 1.8 6 18.2 1.5 3.4 2 3.3 2.5 2.4 2.5 1.3 3.5 .9 5.5 .6 14.5 .5 11-.3 4.5-.9 7-3.1 2.5-.6 2.5 .4 5.5 2.3 3.5 1 4.5 .2 4-.9 1.5-.9 1.5-1.5 2-3.8 5-18.5 1.5-2.9 .5 .2 1 1.8 4 15.5 2.5 6.5 1.5 2.1 1.5 1.2 2.5 .9 3 .5 5 0 3-.9 2-1.7 3.5-5.1 1.5-1.1 1.5 .9 4.5 6.3 1.5 1.2 2 .7 9 .8 23.5 .2 16-.2 6.5-.6 3-1.7 3.5-4.7 1.5-1 1 .6 3.5 4.4 2 1.2 1.5 0 1.5-.5 4-3.3 1.5-.8 1.5 .5 3.5 2.7 2 .2 2-1.2 3.5-4.9 1.5-1.1 1.5 1 3.5 5.2 2 1.8 3 1.1 4 0 3-.6 2.5-1.5 2-2.6 4-7.2 1.5-.9 1.5 1.3 3.5 6.4 2 2.7 2 1.5 3 1 4.5 .1 3-.8 2-1.8 3-4 1-.6 1.5 1.1 3.5 4.6 2.5 1.5 7.5 .6 10-.5 2-.7 1.5-1 4.5-6.7 1-.6 1 .4 2.5 2.5 1 .2 1-.3 3-2.5 1 0 1 .8 4 5.4 1.5 1.2 2 .9 6 .6 9.5-.4 3-.5 2.5-1.4 6-7.6 1.5 .1 3.5 2.9 1.5 .1 1-.6 2.5-4.2 4.5-14 1-1.7 .5-.2 1.5 2.3 4.5 15.7 2.5 5 2 1.9 2.5 1 4 .5 4.5 0 3-.4 2.5-.9 2-1.5 1.5-2 2.5-5.8 4.5-15.5 1.5-2.2 1 .6 1 2.3 4 14.1 2 5.2 2.5 3.7 1.5 1.2 2 .9 3.5 .6 5 .4 4-.1 2.5-.6 2.5-2 3.5-6.4 1-1 .5 0 1 1 4 7.1 1.5 1.3 2 .8 11 .7 33.5 .3"/>
<path stroke="#d19547" d="M360.1 428.1l29 0 34-1 37.5-1.9 29-2.1 6.5-1 4-1.4 3-2.2 4.5-4.8 2-1.1 2 .7 6 5.1 3 1.3 6 .3 9-.9 2.5-.7 2-1 1.5-1.6 1-1.8 2-6.3 3-14.9 1-3 .5-.3 1 2 3 14.5 2 6.7 2 3.2 1.5 1 2 .6 10 .5 43-.5 30 1.1 2-.6 1.5-1.3 3.5-6.8 1-.8 1 1 2.5 5.8 2 2.9 2 1.3 4 .9 20 2.3 11 .4 1.5-.4 1.5-1.2 3.5-6.8 1-1.1 1 .8 3.5 7.4 2.5 2.2 2.5 .7 5 .6 12.5 .3 3-.6 2.5-1.6 1.5-2 3-5.4 1.5-1.3 1.5 1.1 4 7 2.5 2.3 4 1.1 7.5 .3 9.5-.4 2.5-.6 1.5-.8 2.5-2.9 4-8.9 1.5-1.5 1.5 1.6 3 6.4 1.5 2.2 1 .8 1.5 .4 2-.9 1.5-2.3 1.5-4.3 4-20.6 1.5-4.6 .5 .2 1 2.7 3.5 17.9 1.5 5 1 1.8 1 .5 .5-.3 1.5-2.6 1.5-5.6 2.5-12.8 1-3.1 .5-.2 1 2.2 3 15.6 2 7.3 1 2 1.5 1.6 1.5 .7 1.5 0 1.5-.3 1.5-1.1 1.5-2.1 1-2.4 2-7.9 3.5-20.3 1-3 .5-.2 1.5 4.6 3.5 18.9 1 3.4 1.5 2.6 1 .1 1-1 3.5-7.8 1-1.4 .5-.1 1.5 1.8 3.5 8.8 2.5 4 1.5 1.3 2 .9 2 .2 2-.6 2.5-2.3 2-3.5 6-17.5 1.5-2.9 1-.6 1 .6 1 1.8 6 17.9 1.5 3.3 2 3.1 2.5 2.3 2.5 1.3 3.5 .8 5.5 .6 14 .5 11.5-.2 4.5-.7 7-2.4 2.5-.4 2.5 .3 6 1.8 3.5 .6 4.5-.1 3.5-.8 1.5-.9 1.5-1.6 2-3.8 5-18.5 1.5-2.8 .5 .1 1 1.9 4 15.4 2.5 6.5 1.5 2.1 1.5 1.2 2.5 .9 3 .5 5 0 3-.9 2-1.7 3.5-5.1 1.5-1.1 1.5 .9 4.5 6.3 1.5 1.2 2 .8 9 .7 23.5 .2 16-.2 6.5-.6 3-1.7 3.5-4.7 1.5-1 1 .5 3.5 4.5 2 1.2 1.5 0 1.5-.5 4-3.3 1.5-.8 1.5 .5 3.5 2.7 2 .2 2-1.2 3.5-4.9 1.5-1.1 1.5 1 3.5 5.2 2 1.8 3 1.1 4 0 3-.6 2.5-1.6 2-2.5 4-7.2 1.5-.9 1.5 1.2 3.5 6.5 2 2.7 2 1.5 3 .9 4.5 .2 3-.8 2-1.8 3-4 1-.6 1.5 1.1 3.5 4.6 2.5 1.4 7.5 .7 10-.5 2-.7 1.5-1 4.5-6.7 1-.6 1 .4 2.5 2.4 1 .3 1-.3 3-2.5 1 0 1 .8 4 5.3 1.5 1.3 2 .9 6 .6 9.5-.4 3-.5 2.5-1.4 6-7.5 1.5 .2 2.5 2.3 1.5 .9 1 0 1-.5 2.5-4.1 4.5-14.1 1-1.8 .5-.2 .5 .3 1 2 4 14 1.5 3.8 1.5 2.6 2 1.9 2.5 .9 4 .5 4.5 0 3-.4 2.5-.9 2-1.5 1.5-2 2.5-5.8 4.5-15.5 1.5-2.3 1 .7 1 2.3 4 14.1 2 5.2 2.5 3.7 1.5 1.2 2 .8 3.5 .7 5 .4 4-.1 2.5-.6 2.5-2 3.5-6.4 1-1.1 .5 0 1 1.1 4 7.1 1.5 1.3 2 .8 11 .7 33.5 .2"/>
<path stroke="#d09246" d="M360.1 419.0l29-.2 34.5-1 37-1.9 29-2.3 6-.8 4-1.3 3-2 5-5.2 2-1 2 .6 5.5 4.8 3.5 1.5 6 .4 9-1 2.5-.7 2-1 1.5-1.6 1-1.8 2-6.4 3-14.9 1-3 .5-.2 1 2 3 14.5 2 6.7 2 3.1 1.5 1 2 .6 9.5 .6 43.5-.6 30 1.1 2-.5 1.5-1.3 3.5-6.8 1-.8 1 1 2.5 5.8 2 3 2 1.2 4 .9 20 2.5 11 .4 1.5-.5 1.5-1.2 3.5-6.7 1-1.1 1 .7 3.5 7.5 2.5 2.2 2.5 .7 5 .6 12.5 .3 3-.6 2.5-1.6 1.5-2 3-5.3 1.5-1.4 1.5 1.1 4 7 2.5 2.3 4 1.1 7.5 .3 9.5-.4 2.5-.6 1.5-.8 2.5-2.9 4-8.8 1.5-1.6 1.5 1.6 3 6.4 1.5 2.2 1 .8 1.5 .5 2-1 1.5-2.3 1.5-4.2 4-20.7 1.5-4.5 .5 .1 1 2.7 3.5 18 1.5 4.9 1 1.8 1 .5 .5-.2 1.5-2.6 1.5-5.6 2.5-12.9 1-3 .5-.3 1 2.2 3 15.7 2 7.2 1 2 1.5 1.7 1.5 .6 1.5 .1 1.5-.4 1.5-1 1.5-2.1 1-2.4 2-7.9 3.5-20.3 1-3 .5-.1 1.5 4.6 3.5 19.2 1 3.4 1.5 2.7 1 .2 1-.9 3.5-7.4 1-1.3 .5-.1 1.5 2 4 9.6 2 2.8 1.5 1.1 2 .7 2 0 2-.7 2.5-2.4 2-3.4 6-17.2 1.5-2.8 1-.6 1 .7 1 1.8 5.5 16.3 2 4.4 2 3 2 1.9 3 1.5 8.5 1.3 23.5 .6 6.5-.5 9.5-2 2.5 .1 10 1.6 4.5-.3 3.5-.8 1.5-.9 1.5-1.6 2-3.9 5-18.4 1.5-2.9 .5 .1 1 1.9 4 15.5 2.5 6.4 1.5 2.1 1.5 1.2 2.5 1 3 .4 5 0 3-.9 2-1.7 3.5-5.1 1.5-1.1 1.5 .9 4.5 6.3 1.5 1.2 2 .8 9 .7 23.5 .2 16-.2 6.5-.6 3-1.7 3.5-4.7 1.5-1 1 .5 3.5 4.5 2 1.2 1.5 0 1.5-.5 4-3.4 1.5-.7 1.5 .5 3.5 2.7 2 .2 2-1.2 3.5-4.9 1.5-1.1 1.5 1 3.5 5.2 2 1.8 3 1.1 4 0 3-.6 2.5-1.6 2-2.5 4-7.2 1.5-1 1.5 1.3 3.5 6.5 2 2.7 2 1.5 3 .9 4.5 .2 3-.8 2-1.8 3-4.1 1-.5 1.5 1.1 3.5 4.6 2.5 1.4 7.5 .6 10-.5 2-.6 1.5-1 4.5-6.7 1-.6 1 .4 2.5 2.4 1 .3 1-.3 3-2.5 1 0 1 .8 4 5.3 1.5 1.3 2 .9 6 .6 9.5-.3 3-.6 2.5-1.3 6-7.5 1.5 .2 4 3.5 1.5-.1 1-.8 2.5-4.7 4-13 1-1.8 .5-.3 .5 .3 1 1.9 4.5 15.3 1.5 3.3 1.5 2.1 2 1.6 2.5 .8 8 .3 3-.5 2.5-.8 2-1.6 1.5-2 2.5-5.7 4.5-15.5 1.5-2.3 1 .7 1 2.3 4 14.1 2 5.2 2.5 3.7 1.5 1.1 2 .9 3.5 .7 5 .3 4-.1 2.5-.5 2.5-2.1 3.5-6.3 1-1.1 .5 0 1 1 4 7.2 1.5 1.3 2 .7 11 .8 33.5 .2"/>
<path stroke="#cf8e46" d="M360.1 409.8l29.5-.2 34.5-1.1 36.5-2 29-2.3 6-.8 4-1.3 3-2.1 5-5.1 2-1 2 .7 5.5 4.7 3.5 1.5 6 .3 9-1.1 2.5-.6 2-1 1.5-1.6 1-1.8 2-6.4 3-14.9 1-3 .5-.3 1 2 3 14.5 2 6.8 2 3.1 1.5 1 2 .6 9.5 .5 43.5-.6 30 1.2 2-.5 1.5-1.3 3.5-6.8 1-.8 1 1.1 2.5 5.8 2 2.9 2.5 1.4 4 .9 20 2.4 10.5 .4 1.5-.4 1.5-1.2 3.5-6.8 1-1.1 1 .8 3.5 7.5 2.5 2.2 2.5 .7 5 .5 12.5 .4 3-.6 2.5-1.6 1.5-2 3-5.3 1.5-1.4 1.5 1.1 3.5 6.3 2.5 2.7 3.5 1.3 8 .5 9.5-.4 2.5-.5 2-1 2.5-2.8 4-8.9 1.5-1.5 1.5 1.5 3 6.4 1.5 2.2 1 .9 1.5 .4 2-1 1.5-2.2 1.5-4.3 4-20.6 1.5-4.6 .5 .1 1 2.7 3.5 18 1.5 5 1 1.7 1 .5 .5-.2 1.5-2.6 1.5-5.6 2.5-12.9 1-3 .5-.3 1 2.3 3 15.6 2 7.3 1 2 1.5 1.6 1.5 .7 1.5 .1 1.5-.4 1.5-1 1.5-2.1 1-2.4 2-7.9 3.5-20.3 1-2.9 .5-.2 1.5 4.7 4 21.3 1 2.9 1.5 1.8 1.5-.7 3.5-7 1-1.2 .5-.1 1 1 4 9.6 2 3 1.5 1.2 2 .6 2.5-.1 2-.8 2-1.8 2-3.1 2.5-5.9 4-11.9 1.5-2.7 1-.5 1 .7 1 1.8 5.5 16 1.5 3.3 2 3.2 2.5 2.4 2.5 1.3 3.5 .8 5.5 .6 25 .5 15-1.2 13 .6 6.5-1.1 3-2 2-3.3 2-5.8 3.5-13.9 1.5-2.9 .5 .1 1 1.9 4 15.5 2.5 6.4 1.5 2.1 1.5 1.2 2.5 1 3 .4 5 0 3-.9 2-1.7 3.5-5.1 1.5-1.1 1.5 .9 4.5 6.3 1.5 1.2 2 .8 9 .7 23.5 .2 16-.2 6.5-.6 3-1.7 3.5-4.7 1.5-1 1 .5 3.5 4.5 2 1.2 1.5 0 1.5-.5 4-3.4 1.5-.7 1.5 .5 3.5 2.6 2 .3 2-1.2 3.5-4.9 1.5-1.1 1.5 1 3.5 5.1 2 1.9 3 1 4 .1 3-.6 2.5-1.6 2-2.5 4-7.2 1.5-1 1.5 1.3 3.5 6.5 2 2.7 2 1.5 3 .9 4.5 .2 3-.9 2-1.7 3-4.1 1-.5 1.5 1 3.5 4.7 2.5 1.4 7.5 .6 10-.5 2-.6 1.5-1 4.5-6.7 1-.7 1 .5 2.5 2.4 1 .3 1-.3 3-2.5 1 0 1 .8 4 5.3 1.5 1.3 2 .8 6 .6 9.5-.2 3-.6 2.5-1.3 6-7.3 1.5 .2 4 3.7 1.5 0 1-.7 2.5-4.7 4-13.1 1-1.9 .5-.3 .5 .3 1 1.8 5 16.3 2.5 4.2 2 1.5 2.5 .8 8 .2 3-.4 2.5-.8 2-1.6 1.5-2 2.5-5.8 4.5-15.4 1.5-2.3 1 .7 1 2.2 4 14.1 2 5.2 2.5 3.7 1.5 1.2 2 .9 3.5 .7 5 .3 4-.1 2.5-.5 2.5-2.1 3.5-6.3 1-1.1 .5 0 1 1 4 7.1 1.5 1.3 2 .8 11 .8 33.5 .2"/>
<path stroke="#cf8b46" d="M360.1 400.6l30-.3 34-1.1 36-2 29-2.3 6.5-.9 4-1.4 3-2 5-5.1 2-.9 2 .7 5.5 4.6 3.5 1.4 6 .3 9-1.1 2.5-.6 2-1.1 1.5-1.5 1-1.8 2-6.4 3-14.9 1-3 .5-.3 1 2 3 14.5 2 6.7 2 3.1 1.5 1 2 .6 9.5 .5 43.5-.6 30 1.3 2-.6 1.5-1.2 3.5-6.8 1-.8 1 1.1 2.5 5.8 2 2.9 2.5 1.4 4 .9 20 2.5 10.5 .5 1.5-.5 1.5-1.2 3.5-6.7 1-1.1 1 .8 3.5 7.4 2.5 2.3 2.5 .6 5 .6 12.5 .4 3-.6 2.5-1.6 1.5-2 3-5.3 1.5-1.4 1.5 1.1 3.5 6.3 2.5 2.7 3.5 1.3 8 .5 9.5-.4 2.5-.5 2-1 2.5-2.8 4-8.9 1.5-1.5 1.5 1.5 3 6.4 1.5 2.2 1 .9 1.5 .4 2-.9 1.5-2.3 1.5-4.3 4-20.6 1.5-4.6 .5 .1 1 2.8 3.5 17.9 1.5 5 1 1.8 1 .5 .5-.3 1.5-2.6 1.5-5.5 2.5-12.9 1-3.1 .5-.2 1 2.2 3 15.7 2 7.2 1 2 1.5 1.7 1.5 .6 1.5 .1 1.5-.3 1.5-1 1.5-2.2 1-2.3 2-7.9 3.5-20.2 1-2.9 .5-.2 1.5 4.8 3.5 19.5 2 5.9 1 1 1.5-.6 3.5-6.6 1-1.1 .5 0 1.5 2 3 7.5 1.5 2.6 2 2 2.5 .7 2-.2 2-.8 2-1.6 1.5-1.9 3-6.2 4.5-13 1.5-2.6 1-.5 1 .8 1 1.8 5 14.5 2.5 5.3 3 3.7 3.5 1.9 3.5 .8 5.5 .6 19 .5 28-.2 11-1.1 2.5-.9 1.5-1.1 2.5-3.8 2-5.8 3.5-13.9 1.5-2.8 .5 .1 1 1.8 4 15.5 2.5 6.5 1.5 2 1.5 1.2 2.5 1 3 .4 5 .1 3-1 2-1.7 3.5-5 1.5-1.2 1.5 .9 4.5 6.3 1.5 1.2 2 .8 9 .7 23.5 .2 16-.2 6.5-.6 3-1.7 3.5-4.7 1.5-1 1 .5 3.5 4.5 2 1.2 1.5 0 1.5-.5 4-3.4 1.5-.7 1.5 .5 3.5 2.6 2 .3 2-1.3 3.5-4.8 1.5-1.1 1.5 1 3.5 5.1 2 1.9 3 1 4 .1 3-.6 2.5-1.6 2-2.5 4-7.2 1.5-1 1.5 1.3 3.5 6.5 2 2.7 2 1.5 3 .9 4.5 .2 3-.9 2-1.7 3-4.1 1-.5 1.5 1 3.5 4.7 2.5 1.4 7.5 .6 10-.5 2-.6 1.5-1.1 4.5-6.6 1-.7 1 .5 2.5 2.4 1 .3 1-.3 3-2.5 1 0 1 .7 4 5.4 1.5 1.3 2 .8 6 .6 9.5-.2 3-.6 2.5-1.3 2-2.1 3-4.3 1-.8 1.5 .3 4 3.9 1.5 .1 1-.7 2-3.3 4.5-14.5 1.5-2.3 .5 .2 1 1.8 4 13.5 1.5 3.7 1.5 2.5 2 1.7 2 .9 3.5 .5 5 0 3.5-.5 2.5-.9 2-1.5 1.5-2 2.5-5.8 4.5-15.5 1.5-2.2 1 .6 1 2.3 4 14.1 2 5.2 2.5 3.7 1.5 1.2 2 .9 3.5 .7 5 .3 4-.1 2.5-.6 2.5-2 3.5-6.4 1-1 .5 0 1 1 4 7.1 1.5 1.3 2 .8 11 .7 33.5 .2"/>
<path stroke="#ce8746" d="M360.1 391.5l30.5-.4 34-1.3 36-2 28.5-2.3 6.5-1 4-1.3 3-2.1 5-5.1 2-.9 2 .8 5.5 4.6 3.5 1.3 6 .3 9-1.1 2.5-.6 2-1.1 1.5-1.6 1-1.8 2-6.3 3-15 1-3 .5-.3 1 2.1 3 14.4 2 6.8 2 3.1 1.5 1 2 .5 9.5 .5 43.5-.6 30 1.3 2-.5 1.5-1.2 3.5-6.8 1-.8 1 1.1 2.5 5.8 2 2.9 2.5 1.4 5 1.1 19.5 2.5 10 .4 1.5-.4 1.5-1.2 3.5-6.8 1-1.1 1 .8 3.5 7.5 2.5 2.2 2.5 .7 5 .6 12.5 .4 3-.6 2.5-1.6 1.5-2 3-5.3 1.5-1.4 1.5 1.1 4 7 1.5 1.6 1.5 .9 3 .7 6-.3 7 .7 6-.6 3-1.5 2.5-3.3 3.5-8 1.5-1.5 1.5 1.5 3 6.4 1.5 2.2 1 .9 1.5 .4 2-.9 1.5-2.3 1.5-4.3 4-20.6 1.5-4.6 .5 .2 1 2.7 3.5 17.9 1.5 5 1 1.8 1 .5 .5-.3 1.5-2.6 1.5-5.5 2.5-12.9 1-3.1 .5-.2 1 2.2 3 15.7 2 7.2 1 2 1.5 1.7 1.5 .6 1.5 .1 1.5-.4 1.5-1 1.5-2.1 1-2.3 2-7.9 3.5-20.2 1-3 .5-.1 1.5 4.7 4 21.5 1 3 1.5 2 1.5-.6 3.5-6.6 1-1.2 .5 0 1.5 2 3.5 8.2 2 2.3 1 .3 1-.3 3.5-3 1-.1 2.5 .9 1-.3 1.5-1.3 1.5-2.6 5.5-15 1.5-2.7 1-.4 1 .8 1 1.9 5.5 15.6 1.5 3.1 2 2.9 2 1.5 7.5 2.7 6 1 16.5 .5 24 0 11.5-.6 6-1.2 3-2.1 2-3.3 2-5.8 3.5-14.1 1-2.6 1-.6 1.5 2.6 6 18.3 2 4.6 2.5 2.5 4.5 1.1 4.5 .1 3-.9 2-1.7 3.5-5.1 1.5-1.2 1.5 1 4.5 6.3 1.5 1.2 2 .7 9 .8 23.5 .2 16-.2 6.5-.6 3-1.7 3.5-4.7 1.5-1 1 .5 3.5 4.5 2 1.2 1.5 0 1.5-.5 4-3.4 1.5-.7 1.5 .5 3.5 2.6 2 .3 2-1.3 3.5-4.8 1.5-1.1 1.5 .9 3.5 5.2 2 1.9 3 1 4 .1 3-.6 2.5-1.6 2-2.5 4-7.2 1.5-1 1.5 1.3 3.5 6.5 2 2.7 2 1.5 3 .9 4.5 .1 3-.8 2-1.7 3-4.1 1-.5 1.5 1 3.5 4.7 2.5 1.4 7.5 .6 10-.5 2-.6 1.5-1.1 4.5-6.7 1-.6 1 .5 2.5 2.4 1 .3 1-.4 3-2.4 1-.1 1 .8 4 5.4 1.5 1.2 2 .9 6 .6 9.5-.3 3-.5 2.5-1.3 2-2.1 3-4.3 1-.8 1.5 .3 4 3.9 1.5 .1 1-.7 2-3.3 4.5-14.5 1.5-2.3 .5 .2 1 1.8 5 16.1 2.5 4.1 2 1.5 2.5 .8 8 .2 3-.4 2.5-.9 2-1.5 1.5-2 2.5-5.8 4.5-15.5 1.5-2.3 1 .7 1 2.3 4 14.1 2 5.2 2.5 3.7 1.5 1.2 2 .8 3.5 .7 5 .4 4-.1 2.5-.6 2.5-2 3.5-6.4 1-1.1 .5 0 1 1.1 4 7.1 1.5 1.3 2 .8 11 .7 33.5 .2"/>
<path stroke="#ce8446" d="M360.1 382.3l31-.5 34-1.3 35.5-2.1 28.5-2.4 6.5-.9 4-1.4 3-2.1 5-5.1 2-.8 2 .8 5.5 4.5 3 1.3 6 .3 9.5-1.1 2.5-.7 2-1 1.5-1.6 1-1.8 2-6.4 3-14.9 1-3 .5-.3 1 2 3 14.5 2 6.7 2 3.1 1.5 1 2 .6 9 .5 43.5-.7 30.5 1.4 2-.5 1.5-1.3 3.5-6.7 1-.8 1 1.1 2.5 5.8 2 2.9 2.5 1.5 5.5 1.1 19 2.5 10 .4 1.5-.4 1.5-1.2 3.5-6.7 1-1.1 1 .8 3.5 7.5 2.5 2.2 2.5 .7 5 .6 12.5 .3 3-.5 2.5-1.6 1.5-2 3-5.3 1.5-1.4 1.5 1.1 4 7 1.5 1.6 1.5 .9 3.5 .6 6-1.1 4 1.1 3 .4 5.5-.5 3-1.5 2.5-3.3 3.5-8 1.5-1.5 1.5 1.5 3 6.4 1.5 2.2 1 .9 1.5 .4 2-.9 1.5-2.3 1.5-4.3 4-20.6 1.5-4.6 .5 .2 1 2.7 3.5 18 1.5 4.9 1 1.8 1 .5 .5-.2 1.5-2.6 1.5-5.6 2.5-12.9 1-3.1 .5-.2 1 2.2 3 15.7 2 7.2 1 2 1.5 1.7 1.5 .6 1.5 .1 1.5-.4 1.5-1 1.5-2.1 1-2.3 2-7.9 3.5-20.3 1-2.9 .5-.1 1.5 4.7 4 21.5 1 2.9 1.5 2 1.5-.6 3.5-6.7 1-1.1 .5-.1 1.5 2 3 7.1 2 2.4 1 .2 1-.7 4-6.8 1 .1 3 3.8 1.5 .2 1-1 1.5-2.6 5.5-14.7 1-1.5 1-.4 1 .8 1 1.8 5.5 15.6 3 5.3 2 1.4 4 .6 5.5 3.2 5.5 .9 17 .5 24-.1 11-.7 5.5-1.3 2.5-1.9 2-3.3 2-5.9 3.5-14.3 1-2.8 1-.9 1 .9 4 7.5 3.5 13.4 2 4.9 2.5 2.2 5 1.1 4-.2 2.5-1 2-2 3-4.4 1.5-1.2 1.5 .9 4.5 6.4 1.5 1.1 2 .8 9 .8 23 .2 16.5-.3 6.5-.6 3-1.6 3.5-4.7 1.5-1.1 1 .6 3.5 4.5 2 1.1 1.5 .1 1.5-.6 4-3.3 1.5-.7 1.5 .5 3.5 2.6 2 .3 2-1.3 3.5-4.9 1.5-1 1.5 .9 3.5 5.2 2 1.9 3 1 4 .1 3-.6 2.5-1.6 2-2.5 4-7.2 1.5-1 1.5 1.3 3.5 6.5 2 2.7 2 1.5 3 .9 4.5 .1 3-.8 2-1.7 3-4.1 1-.6 1.5 1.1 3.5 4.6 2.5 1.5 7.5 .6 10-.5 2-.6 1.5-1.1 4.5-6.7 1-.6 1 .4 2.5 2.5 1 .2 1-.3 3-2.5 1 0 1 .8 4 5.4 1.5 1.2 2 .9 6 .6 9.5-.3 3-.5 2.5-1.3 2-2.1 3-4.3 1-.9 1.5 .4 4 3.9 1.5 .1 1-.7 2-3.4 4.5-14.4 1.5-2.3 .5 .2 1 1.8 5 16.1 2.5 4.1 2 1.5 2.5 .7 4 .4 4.5-.2 5-1.2 2-1.5 1.5-2 2.5-5.8 4.5-15.5 1.5-2.3 1 .7 1 2.3 4 14.1 2 5.2 2.5 3.7 1.5 1.1 2 .9 3.5 .7 5 .3 4-.1 2.5-.5 2.5-2.1 3.5-6.3 1-1.1 .5 0 1 1 4 7.2 1.5 1.3 2 .7 11 .8 33.5 .2"/>
<path stroke="#cd8046" d="M360.1 373.1l31.5-.5 34-1.4 35.5-2.2 28-2.4 6.5-1 4-1.4 3-2.1 5-5.1 2-.8 1.5 .4 4 3.2 1.5 .6 1-.3 2-3 .5 .1 2 4.1 1 1 1 .4 5 .1 6.5-.8 2.5-.7 2-1.1 1.5-1.5 1-1.8 2-6.4 3-15 1-3 .5-.2 1 2 3 14.4 2 6.7 2 3.2 1.5 .9 2 .6 9 .5 43.5-.7 30.5 1.5 2-.5 1.5-1.3 3.5-6.7 1-.8 1 1.1 2.5 5.8 2 3 2.5 1.4 6 1.3 20 2.6 6 .4 3-.2 1.5-.6 1.5-1.6 3-6.1 1-1.1 1 .8 3.5 7.5 2.5 2.3 2.5 .7 5 .6 12.5 .3 3-.5 2.5-1.7 1.5-1.9 3-5.4 1.5-1.3 1.5 1.1 4 6.9 1.5 1.6 1.5 .9 3.5 .5 5.5-1.8 5 1.9 3.5 .4 5-.6 3-1.7 2-2.9 3.5-8 1.5-1.5 1.5 1.5 3 6.4 1.5 2.2 1 .9 1.5 .4 2-.9 1.5-2.3 1.5-4.3 4-20.6 1.5-4.6 .5 .1 1 2.8 3.5 17.9 1.5 5 1 1.7 1 .5 .5-.2 1.5-2.6 1.5-5.6 2.5-12.9 1-3 .5-.3 1 2.2 3 15.6 1.5 5.8 2 4 1 .9 1.5 .3 1.5-.7 1-.9 4-5.4 1-1.9 2-7.7 3-16.9 1-2.9 .5-.1 1.5 4.8 4 21.5 1 3 1.5 2 1.5-.6 3.5-6.8 1-1.1 .5-.1 1.5 2 3.5 7.6 1 1.1 1 .2 1.5-1.7 3-8.5 1-1.9 .5 0 1 1.4 2.5 5.8 1 1.1 1 0 1-1 1.5-2.7 5-13.4 1-1.5 1-.4 1 .8 1 1.9 5.5 15.6 1.5 3 1.5 2 2 1.1 3-.5 1 .3 5.5 4.3 2.5 .8 4 .5 17.5 .5 23-.2 10.5-.7 5.5-1.5 1.5-1 1.5-1.8 2-4.5 2-9.1 2-14.2 .5-2.2 .5-1.1 .5-.1 1 .9 3 4.7 2.5 2.3 1 3.2 3 15.2 2 5.3 1 1.3 1.5 1 4.5 1.1 4-.1 2.5-1 2-2 3-4.4 1.5-1.1 1.5 .9 4.5 6.3 1.5 1.2 2 .8 9 .7 22.5 .2 17-.2 6.5-.6 3-1.6 3.5-4.7 1.5-1.1 1 .6 3.5 4.5 2 1.1 1.5 .1 1.5-.6 4-3.3 1.5-.7 1.5 .5 3.5 2.6 2 .3 2-1.3 3.5-4.9 1.5-1.1 1.5 1 3.5 5.2 2 1.8 3 1.1 4 .1 3-.6 2.5-1.6 2-2.5 4-7.3 1.5-.9 1.5 1.3 3.5 6.4 2 2.7 2 1.5 3 .9 4.5 .2 3-.8 2-1.8 3-4.1 1-.5 1.5 1 3 4.1 2 1.3 2 .1 3-1.7 1 .3 2.5 1.8 1.5 .5 4 .2 4.5-.4 2-.6 1.5-1.1 4.5-6.6 1-.6 1 .4 2.5 2.4 1 .3 1-.3 3-2.5 1 0 1.5 1.4 3 4.2 2.5 2 3.5 1 6 0 3-1 3.5-3.4 3.5 2.8 1 .2 1.5-.5 2-1.6 3.5-4.9 1-.8 1.5 .4 4 3.9 1 .2 1-.3 1.5-1.8 1-2 4.5-14.5 1.5-2.2 .5 .2 1 1.7 5 16.1 2.5 4.2 2 1.4 2.5 .8 4 .4 4.5-.2 5-1.2 2-1.6 1.5-2 2.5-5.8 4.5-15.4 1.5-2.3 1 .7 1 2.2 4 14.1 2 5.2 2.5 3.7 1.5 1.2 2 .9 3.5 .7 5 .3 4-.1 2.5-.6 2.5-2 3.5-6.4 1-1.1 .5 0 1 1 3.5 6.4 1 1.1 1.5 .7 1.5-.2 3-1.8 3.5 2.8 3 .8 35 .4"/>
<path stroke="#cd7d46" d="M360.1 363.9l33.5-.7 36-1.5 37.5-2.5 25.5-2.5 4.5-.9 3-1.3 2.5-1.9 4.5-4.8 2-1.2 2 .4 4 2.9 1.5 0 1-1.6 2-7.8 .5 .2 2 8.9 1.5 2.7 1.5 .7 2.5 .2 8.5-.9 4-1.6 1.5-1.6 1-1.8 2-6.4 3-14.9 1-3 .5-.3 1 2 3 14.5 2 6.7 2 3.1 1.5 1 2 .6 9 .4 43.5-.7 30.5 1.6 2-.6 1.5-1.2 3.5-6.7 1-.8 1 1.1 2.5 5.8 2 3 3 1.6 6 1.2 19.5 2.6 6 .4 3-.2 1.5-.6 1.5-1.5 3-6.1 1-1.1 1 .8 3.5 7.5 2.5 2.2 2.5 .7 5 .6 12.5 .4 3-.5 2.5-1.7 1.5-1.9 3-5.4 1.5-1.4 1.5 1.1 4 7 1.5 1.6 1.5 .9 1.5 .3 2-.1 5.5-2.5 1.5 .5 3.5 2.1 3.5 .6 5-.5 3-1.8 2-2.8 3.5-8 1.5-1.5 1.5 1.5 3 6.4 1.5 2.2 1 .9 1.5 .4 2-1 1.5-2.2 1.5-4.3 4-20.6 1.5-4.6 .5 .1 1 2.7 3.5 18 1.5 5 1 1.7 1 .5 .5-.2 1.5-2.6 1.5-5.7 2.5-12.9 1-3 .5-.3 1 2.2 3 15.5 1.5 5.8 2 3.8 1 .7 1 .1 1-.5 1-1.2 3.5-7.8 2-1.1 1-1.4 1.5-5 3-16.1 1-2.8 .5-.1 1.5 4.9 4 21.6 1 2.9 1.5 2 1-.1 1-1.1 3-6.1 1-1.2 .5-.1 1 1 4 8.3 1 .9 1-.2 1-1.3 1-2.7 3-11.6 .5-.9 .5-.1 1 2.1 3 9.5 1 1.2 1-.1 2-3 5-13.1 1-1.5 1-.3 1 .8 1 1.9 5 14.3 3 5.5 2 1.3 3.5-1.2 1 .1 4 4.5 2.5 1.6 5.5 1 12 .5 20.5 0 14-.5 6-.7 3.5-1.1 2.5-2 2-3.6 1.5-5.2 1-6 3-28.2 .5 .1 2 8.2 1.5 3.8 1 .9 2-.4 1 1.7 3.5 20.7 2 6.7 1 1.5 1.5 1.3 4.5 1.3 4 0 2.5-1 2-1.9 3.5-5 1-.6 1.5 .9 4.5 6.4 1.5 1.2 2 .8 9 .7 22.5 .2 17-.2 6.5-.6 3-1.6 3.5-4.7 1.5-1.1 1 .6 3.5 4.5 2 1.1 1.5 .1 1.5-.6 4-3.3 1.5-.7 1.5 .5 3.5 2.6 2 .3 2-1.3 3.5-4.9 1.5-1.1 1.5 1 3.5 5.2 2 1.8 3 1.1 4 0 3-.6 2.5-1.5 2-2.6 4-7.2 1.5-1 1.5 1.3 3.5 6.5 2 2.7 2 1.5 3 .9 4.5 .1 3-.8 2-1.8 3-4.1 1-.6 1 .5 3 4 2 1.6 1.5 0 1-.6 3-4.2 1 .6 2.5 4.1 1.5 1 3.5 .6 5-.3 2-.6 1.5-1 4.5-6.7 1-.6 1 .4 2.5 2.5 1 .2 1-.3 3-2.5 1 0 1.5 1.4 3 4.2 2.5 2 3 .9 5 0 2.5-.6 1.5-1.1 1.5-2.6 2-5.3 .5-.4 1 1.3 2 5 1 1.2 1 .5 1-.2 1.5-.9 4-5.2 1-.8 1.5 .4 4 3.9 1 .3 1-.4 1.5-1.7 1-2.1 4.5-14.4 1.5-2.3 .5 .2 1 1.8 5 16.1 2.5 4.1 2 1.5 2.5 .8 4 .3 4.5-.1 5-1.3 2-1.5 1.5-2 2.5-5.8 4.5-15.5 1.5-2.2 1 .6 1 2.3 4 14.1 2 5.2 2.5 3.7 3 1.9 3.5 .8 5 .3 4.5-.1 2.5-.6 2.5-2 3.5-6.4 1-1.1 .5-.1 1 1 3.5 6.3 2 1.4 1-.2 1-1 2-3.8 1-.9 3.5 6.2 1.5 1.2 1.5 .4 9 .6 26 .2"/>
<path stroke="#cc7a46" d="M360.1 354.8l35.5-.9 37.5-1.7 38.5-2.8 21-2.4 4-1.1 2.5-1.7 2-2.9 3-6.4 1-1.2 1 0 1 .5 7 5.4 1 .4 1-.1 1-1.5 .5-1.8 2-12.7 .5 .1 2 13.8 1.5 4.2 1.5 1.1 2.5 .4 8.5-.8 4-1.6 1.5-1.6 1-1.8 2-6.3 3-15 1-3 .5-.3 1 2.1 3 14.4 2 6.7 2 3.1 3 1.5 9 .6 44.5-.8 30 1.6 2-.5 1.5-1.2 3.5-6.7 1-.8 1 1.1 2.5 5.8 1.5 2.4 2 1.6 2.5 .9 20 3.1 8.5 .8 4.5 .1 1.5-.5 1.5-1.1 3.5-6.8 1-1 1 .7 3.5 7.5 2 2 2 .8 3.5 .6 11.5 .7 5-.3 3-1.1 2.5-2.8 3.5-6.1 1-.7 1.5 1.1 4 7 1.5 1.5 1.5 .9 2 .3 2-.4 5-3.1 1 .3 3.5 2.7 2 .9 3 .3 3.5-.4 2.5-1.1 2-2.1 4.5-9.7 1.5-1.6 1 .6 3 5.6 2 2.7 2 1.5 2 .1 2-2.4 1.5-4.1 4-20.5 1.5-4.6 .5 .1 1 2.8 3.5 17.9 1.5 5 1 1.7 1 .5 .5-.2 1.5-2.6 1.5-5.6 2.5-13 1-3.1 .5-.2 1 2.2 3 15.4 1.5 5.7 1.5 3.1 1 1 1 .2 1.5-1.1 1-1.9 3.5-11.1 .5-.4 2 1 1-1.2 1.5-5.2 2.5-13.1 1-2.7 .5 0 1.5 4.9 4 21.6 1 3 1.5 1.9 1.5-.7 3.5-6.7 1-1.2 .5-.1 1 1 4 8 1 .5 1-.6 1.5-3.7 3-15.3 1-2.9 .5 .1 .5 1 3.5 15 1 1.9 .5 .3 1-.3 2-3.4 4.5-12.3 1.5-2.4 1-.5 1.5 .8 2 3.6 4 14.1 2 4.6 1 1.2 1 .4 1-.2 2.5-1.5 1 .2 4.5 6 2.5 1.7 5.5 1 12 .5 20 .1 13-.6 8-1.4 2.5-.8 2.5-2.1 2-4 1.5-6 1-7.6 2.5-34.3 .5-2.7 .5 1.3 2 14.9 1 4 1 1.5 1-.5 1.5-1.9 .5 .1 .5 1.1 3.5 24.3 1.5 6.7 1 2.4 1.5 1.9 2 1.1 3 .8 4 0 2.5-1 2-2.1 3.5-5.4 1.5-1 5.5 2.5 3.5 5.3 2 1.8 2 .8 3.5 .5 26 .6 20-.6 2.5-.6 1.5-.8 4.5-5.7 1-.5 1 .5 3.5 4.5 2 1.2 1.5 0 1.5-.5 4-3.3 1.5-.8 1.5 .5 3.5 2.7 1.5 .3 1.5-.5 1-.8 3.5-4.9 1.5-1.1 1.5 1 3.5 5.1 2 1.9 3 1 4 .1 3-.7 2.5-1.7 2-2.7 4-7.8 1.5-1.1 1.5 1.4 3.5 7.1 2 2.8 2 1.7 3 .9 4.5 .1 3-.8 2-1.8 3-4.1 1-.6 1 .5 4 4.8 2 .5 1.5-1.4 3-6.7 .5 .1 .5 .8 3 7.1 1 .9 1.5 .6 6 .2 3.5-1 2-1.8 4-6.1 1 0 2.5 2.3 1.5 .6 1-.4 3.5-3.1 1.5 .7 4 5.6 2 1.8 3 1 4 0 3-.6 2-2 1.5-4.1 2-8.2 .5-.6 1 2.2 2 7.8 1 2.1 1 .9 1 .1 1.5-.8 4-5 1.5-.8 1 .4 3.5 3.8 1.5 .5 1-.4 1.5-1.7 1-2 4.5-14.5 1.5-2.2 .5 .2 1 1.7 5 16.2 2.5 4.1 2 1.4 2.5 .8 4 .4 4.5-.2 5-1.2 2-1.5 1.5-2.1 2.5-5.7 4.5-15.5 1.5-2.3 1 .7 1 2.2 4 14.1 2 5.2 2.5 3.7 3 1.8 3.5 .8 4.5 .2 3.5-.5 3.5-1.3 3-2 3.5-5.7 1-1 .5 0 1 1.1 3.5 6.2 1 .9 1 .2 1-.5 1-1.7 2-6.1 1-1.5 3.5 9.5 1 1.4 1.5 .9 3.5 .3 7-.9 9 1.7 16 .3"/>
<path stroke="#cb7647" d="M360.1 345.6l38-1 38.5-2 37.5-2.9 11-1.2 7-1.2 4.5-1.8 2.5-3 2-5.6 3-12.3 .5-.9 .5-.2 1 1.6 2.5 7.3 2 3.9 3 3.3 1.5 .6 1-.5 1-2.3 .5-2.6 2-17.6 .5 .2 2 18.5 1.5 5.8 1.5 1.4 2.5 .6 4 0 4.5-.6 4-1.6 1.5-1.5 1-1.8 2-6.4 3-15 1-3 .5-.2 1 2 3 14.4 2 6.7 2 3.2 1.5 .9 2 .6 9 .5 43.5-.8 30.5 1.7 2-.5 1.5-1.2 3.5-6.7 1-.8 1 1.1 3 6.8 2 2.4 3 1.4 7 1.3 18.5 2.5 5.5 .5 3-.2 1.5-.6 1.5-1.5 3-6.1 1-1.1 1 .8 3.5 7.5 2.5 2.3 3 .8 5 .5 12 .4 3-.6 2.5-1.6 1.5-1.9 3-5.4 1.5-1.4 1.5 1.1 4 6.9 1.5 1.6 1.5 .8 2 .4 2-.5 5-3.5 1 .2 3 2.7 2 1.2 2 .4 3 0 3.5-.8 2.5-2 2-3.4 3-7.1 1.5-1.8 1 .5 3 4.4 4.5 4.3 1.5 .6 1.5-1 1.5-3.1 1-3.5 3.5-18.5 1.5-4.5 .5 .1 1 2.7 3.5 18 1.5 5 1 1.7 1 .5 .5-.2 1.5-2.6 1.5-5.6 2.5-13 1-3.1 .5-.3 1 2.2 3 15.4 1.5 5.6 1.5 3.1 1 .8 1 0 1.5-1.6 1-2.6 3.5-14.4 .5-.3 .5 .5 1 1.9 1 .9 1-1.3 3.5-15.9 1-2.6 .5 0 1.5 5 4 21.6 1 3 1.5 1.8 1.5-.7 3.5-6.8 1-1.1 .5-.1 1 1 3.5 7.1 1 .9 1-.3 1-1.8 1-3.5 3-17.7 1-3 .5 .2 .5 1.4 3.5 17.6 1 2.3 .5 .5 1-.1 2-3.4 6-16.6 2-2.9 1.5-.9 1 .7 1 3 3.5 18.3 2 5.8 1 1.3 1 .3 3-1.6 1 .3 4 6 2.5 2.2 5 1.3 11 .7 21 .1 13.5-.6 10-2.3 1.5-.6 2-1.9 2-4.3 1.5-6.9 1-9.1 2.5-42.8 .5-2.9 3 27.5 .5 2.2 1 1.9 1-.7 1.5-2.5 .5 0 .5 1.2 3.5 26 1.5 7.1 1 2.7 1.5 2 2 1.2 2.5 .7 4.5 0 3-1.5 2-2.5 3.5-6.1 3-2.8 3-3.8 1 1.1 3.5 11.2 2 3.5 1.5 1.2 1.5 .6 5.5 .9 27 .5 10-.2 6-.5 2-.5 1.5-.8 4.5-5.7 1-.5 1 .6 3.5 4.5 2 1.2 1.5 0 1.5-.5 4-3.4 1.5-.7 1.5 .5 3.5 2.6 1.5 .3 1.5-.5 1-.8 3.5-4.9 1.5-1.1 1.5 1 3.5 5.2 2 1.8 3 1 4.5 0 3-.9 2.5-2.2 2-3.4 3.5-7.9 1.5-1.3 1.5 1.7 3 6.9 2 3.6 2.5 2.4 3 1 4.5 .2 3-.8 2-1.8 3-4.1 1-.6 1 .4 4 4.7 1 .4 1-.2 1.5-2.1 3-9.1 .5 .1 .5 1.1 2 7.2 1 2.4 1 1.2 1.5 .9 4.5 .4 4-.5 2.5-1.8 4.5-6.6 1-.1 2.5 2.3 1.5 .4 1.5-1 2.5-3 1-.5 1.5 .9 3.5 5.6 2 2.3 2.5 1.2 4 .2 3.5-.9 1-.9 1-1.7 1.5-5.6 2-11 .5-.9 1 2.9 2 10.8 1 3 1 1.4 1 .3 1.5-.6 4-4.9 1.5-.8 1 .5 3.5 3.8 1.5 .5 1-.4 1-1 1.5-2.7 4.5-14.4 1.5-2.3 .5 .2 1 1.8 5 16.1 2.5 4.1 2 1.5 2.5 .8 4 .3 4.5-.1 5-1.3 2-1.5 1.5-2 2.5-5.8 4.5-15.5 1.5-2.3 1 .7 1 2.2 4 14.1 2 5.2 2.5 3.7 3 1.8 3 .6 3 .1 4.5-1 7.5-4.5 3.5-4.7 1-.7 1.5 1.2 3.5 6.3 1 .8 1 .1 1-.9 1-2.4 2-8.4 1-2 .5 .8 3 11.9 1 1.9 1.5 1.1 1.5 .3 2-.2 5.5-2.7 1.5-.2 6 3.3 3 .9 16 .7"/>
<path stroke="#c87348" d="M360.1 336.4l40-1.2 39.5-2.1 35.5-2.9 10-1.2 6.5-1.4 3-1.1 2-1.4 1.5-2 1-2.2 1.5-5.7 3-18.6 1-3.4 .5 0 .5 1.2 3 15.1 2 6.5 1.5 2.5 1.5 1.4 1.5 .4 1-.8 1-3.2 .5-3.3 2-22.5 .5 .2 2 23.4 1 5.8 1.5 2.9 3 1.2 4.5 .1 5-.8 2.5-1 2-1.9 1.5-3 1-3.2 3.5-16.9 1-3 .5-.3 1 2 3 14.5 2 6.7 2 3.1 1.5 1 2 .5 9 .5 43.5-.8 30.5 1.9 2-.4 1.5-1 3.5-5.5 1-.7 1 1 3 5.8 2.5 2.4 4 1.2 10 1.7 15.5 2.1 7 .2 1.5-.5 1.5-1.2 3-5.1 1-.9 1 .7 3.5 6.4 2.5 1.9 3 .7 5.5 .6 12 .3 3-.8 2-1.4 1.5-1.9 3-5.4 1.5-1.4 1.5 1.1 4 6.9 1.5 1.6 1.5 .8 2 .4 2-.5 5-3.7 1.5 .6 2.5 2.4 2 1.2 2 .5 3 0 3.5-.8 2.5-2.1 2-3.4 3-7.2 1.5-2 1 .3 2.5 2.9 3 1.9 3 3.7 1 .4 1-.6 1.5-2.8 1-3.4 3.5-18.4 1.5-4.5 .5 .1 1 2.8 4 20 1 3 1.5 2.1 1-.1 .5-.6 1.5-3.6 3.5-17 1-3.1 .5-.3 1 2.2 3 15.3 1.5 5.6 1.5 3 1.5 .8 1.5-1.3 1-2.4 4-19.1 .5-.1 .5 1 2 6 .5 .5 .5-.2 1-1.9 2.5-9.6 1-2 .5 0 1 2.2 3.5 16.6 1.5 4.9 1 1.7 1 .5 1-.5 4-7.7 1-1.1 .5-.1 1 1 3.5 7 1 .8 .5-.1 1-1.2 1-3 3.5-20.9 1-2.9 .5 .4 .5 1.6 3.5 18.7 1 2.3 1 .7 1.5-1.5 1.5-3.4 5.5-17.3 3-8.4 1-1.8 .5 .1 .5 .9 .5 2 3.5 24.2 2 7.8 1 1.7 1 .7 3-1.2 1 .4 4 6.2 2 2 2 .9 2.5 .6 10.5 .8 21 .2 14.5-.6 3-.6 4-1.6 3.5-.3 2-.8 2.5-3.1 1.5-4.3 1-5.4 1-10.2 2.5-49.5 .5-2.8 2.5 33.4 1 6.8 1 2 1-.9 1.5-3.3 .5-.2 .5 .9 3.5 25 1.5 7 1 2.6 1.5 2 1.5 .9 2.5 .7 3 .3 2.5-.4 2-1.1 1.5-1.6 7-13.2 3.5-10.1 .5 .1 .5 1.1 3.5 17 2 5.5 1.5 1.9 1.5 .9 5 1.2 19 .8 15.5 0 6.5-.4 4-.5 2-.8 4.5-4.7 1-.4 1 .5 3.5 3.7 2 .9 1.5 0 1.5-.6 4-3.4 1.5-.7 1.5 .5 3.5 2.6 1.5 .4 1.5-.5 1-.9 3.5-4.9 1.5-1.1 1.5 1 3.5 5.2 2 1.8 3 1 4.5 0 3-.8 2.5-2.1 2-3.2 3.5-7.9 1-1.2 .5-.1 1.5 1.7 3.5 7.9 2.5 3.6 1.5 1.1 2 .8 6 .4 2-.5 1.5-.8 4-4.4 1-.5 1 .3 3.5 3.4 1.5 .5 1-.5 1.5-2.7 3-11.8 .5 .2 .5 1.4 2 9.1 1 2.9 1 1.7 1.5 1 4.5 .7 4.5-.7 2.5-1.8 4-5.1 1-.2 3 1.8 1-.2 1.5-1.4 2.5-3.7 1.5-.8 1.5 1.3 3.5 6.2 2 2.3 2.5 1.3 3.5 .1 2-.4 1.5-.8 1-1.1 1-2.2 1.5-7 2-13.9 .5-1.1 1 3.8 2.5 15.8 1 2.8 1 1.1 1 .2 1-.5 4-4.7 1.5-.7 1 .5 4 4.1 1.5 .1 1-.7 2-3.3 4.5-14.4 1.5-2.2 .5 .1 1 1.8 5 16.1 2.5 4.2 2 1.4 2.5 .8 4 .4 4.5-.2 5-1.2 2-1.6 1.5-2 2.5-5.8 4.5-15.5 1.5-2.3 1 .7 1 2.3 4 14 2 5.2 2.5 3.6 3 1.8 4.5 .7 4-.7 2.5-1.5 4-3.8 4-1.3 2.5-2.1 1-.4 1 .6 4 6 1 .6 1-.3 1-1.4 1-3 2-10.8 .5-2 .5-.6 .5 1.1 3 14.9 1 2.3 1.5 1.3 1.5 .3 2-.5 2-1.2 3.5-3.3 1.5-.3 1.5 .8 4.5 4.5 3 1.4 5 .7 11 .4"/>
<path stroke="#c57049" d="M360.1 327.2l43-1.4 41.5-2.4 33-2.9 9-1.4 5.5-1.4 2.5-1.2 2-1.8 1.5-2.6 1-3 1.5-7.7 3-25 1-4.4 .5 .3 .5 1.9 3 22.2 1.5 7.4 2 4.9 1 1.2 1.5 .6 1-.4 .5-.8 1-4 2.5-31.4 .5 .2 2 28.2 1 7.1 1.5 3.4 1.5 1.1 1.5 .4 4 .3 5-.5 3-.9 2-1.4 1.5-2.3 1-2.5 3.5-13.3 1-2.4 .5-.3 1 1.7 3 11.3 1.5 4.2 2 2.9 1.5 .9 2 .5 8 .3 43.5-.9 14.5 .7 19 1.9 6.5-.9 4.5 2.1 2.5 .8 19.5 3 17 2.1 2.5-.2 4-.9 4.5 1.8 2.5 .6 16.5 1.2 5-.2 3-.8 2-1.5 3.5-4.6 1.5-1 1.5 .8 4 5.2 2.5 1.6 2.5 .3 2-.6 5-4.6 1.5 .7 4 4.1 2 .8 2.5 .2 4-.5 2.5-1.3 2.5-3 3.5-6.4 1.5-1.1 2.5 .7 3-.7 1 .9 3 4.9 1 .5 1-.4 2-3.8 3.5-13.5 1.5-3.4 .5 .1 1 2 4 14.8 1.5 2.9 1.5 .5 1.5-2 1-2.9 3.5-17.2 1-3.1 .5-.3 1 2.2 4 19.5 1.5 3.9 1.5 1.6 1.5-.4 1.5-2.9 3-14.7 1-3 .5 .5 .5 1.6 2.5 11.9 1 2.6 1 1.1 3.5-.3 4.5 4 2 .3 2-1.9 4-7.1 1.5-1.1 1.5 1 3 4.5 1.5 .6 1.5-2.1 1-3.5 3.5-22.4 1-2.7 1 2.4 3.5 20.4 1 2.9 .5 .7 1 .4 1-.7 1.5-2.5 3.5-9.2 2.5-8.8 3-14.8 1-2.9 .5 .3 .5 1.8 3.5 28.1 2 9.1 1 2 1 .7 3-1.1 1 .4 4 6.2 2.5 2.2 3.5 1.1 7.5 .8 28 .3 11-.5 3-.7 4-1.9 5 0 2.5-1.8 2-4.4 1-5.4 1-12.1 1-30.5 1.5-104.8 .5 11.2 1.5 93.5 1.5 29.3 .5 3.3 .5 1.3 .5 0 2.5-9.5 .5-1.3 .5-.1 1 3.9 2 14 1.5 7.7 2 4.6 2.5 1.8 4 .6 4-.4 2.5-1.4 2.5-3 2.5-4.9 2-5.1 1.5-5.8 2.5-13.8 .5-1.5 .5-.2 1 3.6 3 20.4 2 7.5 1.5 2.6 2 1.5 3 1.1 4.5 .6 12 .6 20.5 .1 11.5-.5 5.5-1 6.5 .8 3-.8 4-2.6 1.5-.6 1.5 .4 3.5 1.9 2.5 .1 2-1.3 3.5-3.6 1-.4 1.5 .7 3.5 3.9 2 1.4 3.5 .8 5 0 3-.6 2-1 2-2 3-4.1 1.5-.8 1.5 1.1 4 5.2 1.5 1.1 2 .8 8.5 .6 3-.3 5-1.2 4.5 .3 2-.7 1.5-2.2 3.5-13.5 .5 .1 .5 1.5 2 9.2 1 3 1.5 2.1 1.5 .8 4 .5 5-.1 9-2.4 2.5-1.9 4-6.3 1.5-.7 1.5 1.2 3 5.2 2 2.4 3 1.5 3.5 0 3-1.1 1-1.2 1-2.2 1.5-7.2 2-14.1 .5-1.1 1 3.9 2.5 16.2 1 2.9 1 1.3 1 .3 1-.2 4-3.3 1.5-.5 1 .4 4 3.1 1.5 .1 1-.5 2-2.5 4.5-10.8 1.5-1.7 1.5 1.5 5 12.1 2.5 3 2 1.1 2.5 .6 8.5 0 5-1.3 2-1.6 1.5-2 2.5-5.8 4.5-15.6 1.5-2.2 1 .6 1 2.3 4 14 2 5.2 2.5 3.6 3 1.8 4.5 .6 3.5-.7 2.5-1.8 4-4.9 1.5-.7 1 .4 3.5 3.3 4.5 2.6 2 .7 2-.5 1-1.1 1-2.5 2.5-13 1-2.7 1 3.4 2 10.9 1 3.1 1.5 2 2 .3 2-.8 2-1.9 3.5-4.7 1.5-.5 1.5 1.2 4.5 6.1 3 2 5 1 11 .5"/>
<path stroke="#c36e4a" d="M360.1 318.1l46.5-1.7 43-2.7 30.5-3 7.5-1.4 5-1.6 2.5-1.6 1.5-1.8 1.5-3.2 1-3.8 1.5-9.6 3-31.6 1-5.4 .5 .6 .5 2.6 3.5 33.2 1 5.8 1.5 5 1.5 2.3 1.5 .6 1-.7 1-2.7 1-7.9 2-32.2 .5 .2 2 33.1 1 8.3 1 3.2 1 1.4 1.5 1 2.5 .7 7 .1 6.5-.8 2.5-1.4 3-3.6 1-.5 4 3.8 3.5 1.1 44.5-1.4 21 .3 19.5 1.9 41.5 6.2 21 2.6 23 1.7 6.5 .1 6.5-.6 7.5 .8 3-.3 2-1.1 1.5-1.7 2.5-4 1-.9 1 .4 3.5 5.4 2 1.7 3 .8 5.5 0 5-.9 4-2.1 2-2.3 3-6 1-.5 1 1.2 3 6.3 2 2 2 .2 4.5-1.6 5 1.2 2.5-.7 1.5-1.8 1.5-3.7 4-19.6 1-3.2 .5-.3 .5 .6 1 3.6 3.5 17.2 2 4.6 1 .9 1 0 1.5-2 1.5-5.1 2-10.6 1-2.8 1 2.4 2.5 13.3 1.5 4.8 1 1.6 1.5 1.2 2.5 .7 2.5 0 1.5-.4 1.5-1 3.5-5.7 1-.8 1 .5 3 3.8 1.5 .9 2 0 1.5-1.4 1.5-3.6 1-4.3 3-21 1-4.8 .5-.6 1 3.1 3 20.8 1.5 6.4 1 2.3 1.5 1.5 2 0 2-1.5 2-3.9 1.5-6.3 3.5-27.5 1-3.5 1 3.6 3.5 28.7 1.5 6 1.5 2.1 1 0 2.5-1.7 1 .2 5 7 2 1.3 3.5 .8 8 .5 14 .3 16-.2 8-.4 3-.8 4-2.3 4.5 .8 2-.5 2-1.9 1.5-4 1.5-13.2 2.5-57.9 .5-1.4 2 45.2 1.5 17.2 .5 1 .5-.4 2.5-11.7 .5-1.6 .5-.4 1 3.4 2.5 16.2 1.5 6.1 2 3.3 3 1.4 5 .4 4.5-.8 3-1.6 2-2.7 1.5-4.2 1-4.7 3.5-27.9 .5-2.4 .5-.7 1 3.9 3 25.3 2 9.5 1.5 3.2 2 1.9 3 1.2 4 .7 9.5 .7 16.5 .2 8.5 0 6-.5 8.5 .5 16-.5 7 .3 7-.7 7.5 .6 7-.2 3.5-.5 2.5-1 2-1.8 3-4.1 1.5-.8 1.5 1.1 4 5 3 1.5 7.5 .7 11.5-.3 3.5-.8 2-1.9 1.5-4.2 2.5-10.4 .5 .1 .5 1.4 2 9.3 1 2.9 1.5 2.2 1.5 .7 3 .6 5.5 .2 6-.2 3.5-.5 3-1.5 4.5-5.2 1.5-.7 1 .5 3.5 4.2 2 1.6 2.5 .7 3 0 3-1.2 1-1.1 1-2.2 1.5-7.1 2-14 .5-1.1 1 3.9 2.5 16.5 1.5 4 1.5 1.5 2.5 .6 10 .8 3.5-.3 6-1.5 9 1.8 11.5-.4 6-1.3 2-1.4 1.5-1.7 3-6.7 4.5-15.6 1.5-2.2 1 .6 1 2.3 4 14 2 5.1 2.5 3.6 3 1.7 4.5 .5 3.5-1 2.5-2.3 4-6.2 1.5-.8 1.5 1.4 3.5 5.5 2 2 3 1 2.5-.5 1.5-1.6 1-2.5 2.5-13.1 1-2.8 1 3.4 2 10.9 1 3 1.5 1.9 2 .2 2-1.2 2-2.6 3.5-6 1.5-.8 1.5 1.6 4.5 7.9 3 2.5 5 1.3 11 .6"/>
<path stroke="#c06b4b" d="M360.1 308.9l49-1.9 43.5-2.9 28-3 7.5-1.6 4.5-1.7 2.5-1.9 1.5-2 1.5-3.8 1-4.6 2-16.9 2.5-32.7 1-6.4 .5 .8 .5 3.3 3.5 41.3 1 7 1.5 6 1.5 2.6 1.5 .5 1-.8 1-3.1 1-8.9 2-36.1 .5 .3 2 36.9 1 9.2 1 3.6 1 1.5 1.5 1.1 2.5 .8 6.5 .3 8-.7 2-1 2.5-3.2 1-.6 3.5 3.5 3 .8 40.5-1.6 23.5 .1 21 2 41.5 6.3 19.5 2.5 21.5 1.8 19.5 .8 6-.2 3-.9 2-2.1 3-5.9 1-1.1 1 .6 3 5.9 2 2.4 3 1.2 5.5 .3 6-.5 3-1.3 2-2.6 3.5-9 1-.8 1 1.5 3 7.8 1.5 2.3 1.5 1.2 1.5 .5 5.5 .3 5-.9 1.5-.9 1.5-1.9 2-5 3-11.9 1-2.4 .5-.3 .5 .5 1 2.7 3.5 12.8 2 3.4 1 .6 1-.1 1.5-1.7 1.5-4.2 2-9 1-2.3 1 2 2.5 11.1 1.5 3.9 1 1.3 1.5 1 4 .5 2.5-.8 1.5-1.5 3.5-7.9 1-.9 1 1.1 2.5 5.6 1.5 1.8 1 .4 1-.2 2-2 1.5-4 1-4.7 3-22.3 1-4.8 .5-.4 1 3.5 2.5 18.8 1.5 8.2 2 5.2 1 1 1.5 .4 1.5-.5 1.5-1.5 2-5.7 2-13.7 2.5-26.4 1-4.6 1 4.1 3.5 34.3 1.5 7.3 1.5 2.7 1 .1 2.5-1.4 1 .2 5 7.2 2 1.3 3.5 .8 8 .6 13.5 .2 15.5-.1 8.5-.5 3.5-1 4-2.7 1-.1 3.5 1.1 2-.4 2-2.1 1.5-4.4 1.5-14.7 2.5-64.5 .5-1.6 2 50.7 1.5 19.5 .5 1.4 .5-.2 2.5-11.2 .5-1.6 .5-.3 1 3.4 2.5 16.3 1.5 6.1 2 3.4 3 1.3 5 .4 4.5-.8 3-1.6 2-3 1.5-5.1 1-5.9 3.5-34.7 .5-3 .5-1 1 4.8 3 30.9 2 11.5 1.5 3.9 2 2.3 3 1.5 4 .9 9.5 .8 16.5 .3 8.5-.1 6-.5 6 .5 8.5 .1 27-.1 11.5-.4 3.5-.7 2.5-1.3 2-2.2 3-4.9 1.5-1.1 1.5 1.4 4 6.1 3 1.9 7 .8 12-.2 3.5-.6 2-1.6 1.5-3.5 2.5-8.7 .5 .1 .5 1.2 2 7.7 1 2.5 1.5 1.8 1.5 .6 3.5 .5 6 .1 5.5-.2 3.5-.6 3-1.8 4-5.5 1.5-1.1 1 .5 3.5 4.8 2 1.8 2.5 1 3 .1 3-.9 1-.9 1-1.8 1.5-5.9 2-11.7 .5-.9 .5 .9 2 11.7 1.5 6 1 1.9 1 .9 4 1.2 10 .6 19-.2 10.5-.5 5.5-1 2.5-1.4 2.5-3 2-4.1 4-10.6 1.5-1.7 1 .5 1 1.7 4 10.4 2 3.9 2.5 2.6 2.5 1.1 5 .2 3.5-1.3 2.5-2.9 4-7.7 1-.9 .5 0 1.5 1.6 3 6 2 2.8 1.5 1.2 1.5 .6 3-.2 1.5-1.3 1-2.1 2.5-10.9 1-2.3 1 2.8 2 9 1 2.5 1.5 1.4 2-.2 2-1.6 2-3.3 3.5-7.5 1-.9 .5 0 1.5 1.9 4.5 9.6 3 3.2 2 .9 3 .6 11 .8"/>
<path stroke="#be684c" d="M360.1 299.7l52.5-2.2 45-3.3 14.5-1.5 10-1.6 6-1.6 4.5-2.3 2.5-2.5 1.5-2.7 1.5-5.4 1-6.4 2-23.9 2.5-46.3 1-8.9 .5 1.3 .5 4.9 3.5 59.7 1 10.1 1.5 8.6 1.5 3.7 1.5 1 1-.6 1-3 1-8.8 2-36 .5 .3 2 37 1 9.3 1 3.6 1 1.6 2 1.4 3.5 .8 6.5 .1 6.5-.6 2-1 2.5-3.2 1-.6 3.5 3.5 3 .8 40.5-1.6 23.5 .1 21 2 41 6.4 19.5 2.6 21.5 1.9 20 .8 6-.2 3-.9 2-2.1 3-6.1 1-1.2 1 .5 3.5 6.9 2 2.1 3 .9 5.5 .2 6-.9 1.5-.7 1.5-1.6 2-4.5 3-11.4 .5-.9 .5-.2 1 2.1 3.5 12.7 1.5 2.7 2.5 1.8 5.5 .9 6.5-.2 2.5-.8 4-3.4 1.5-.6 1.5 .8 3.5 3 2.5 .9 3 .1 4.5-1.2 5 1.1 4.5-.1 3.5-.8 2-1.6 1.5-2.7 2.5-6.6 1-1 1 1.2 2 4.7 1.5 2.4 1 .7 1 0 1-.5 1-1.2 1.5-3.7 1-4.4 3.5-28.2 1-4.9 .5-.1 1 4.3 2.5 21 1.5 8.9 1 3.5 1 1.9 1 1 1.5 .2 1.5-.9 1.5-2.3 2-8.2 2-19.7 2.5-37.7 1-6.6 .5 1.4 .5 4.5 3.5 49.2 1.5 10.7 1.5 4.4 1 .8 2.5-.6 1 .4 5 7.6 2 1.5 3 .8 8 .8 13 .3 16.5-.1 8.5-.6 3.5-1.4 4-3.7 1 0 3.5 2 2-.2 2-1.9 1.5-4.4 1.5-14.7 2.5-64.4 .5-1.7 2 50.7 1.5 19.6 .5 1.4 .5-.3 2.5-11.2 .5-1.5 .5-.4 1 3.4 2 13.4 1.5 7.4 2 4.4 1.5 1.2 1.5 .5 5 .2 5-1.2 3-2.4 2-4.3 1.5-7.3 1-8.4 3.5-49.6 .5-4.4 .5-1.4 1 6.8 3 44.2 2 16.5 1.5 5.5 2 3.3 3 2.2 4 1.2 9 1.1 16.5 .5 9-.1 6-.8 6 .8 8 .2 27.5-.2 11.5-.6 3.5-.9 2.5-1.8 2-3.2 3-7.1 1-1.3 .5-.2 1 1 3.5 8 2 3 3 1.9 5 .8 17 .3 5.5-1 4.5 .9 6.5 0 8.5-.3 4.5-.6 2-.7 2-1.7 2-3.1 2.5-5.3 1.5-1.6 1.5 1.5 3 6.3 2 2.7 2.5 1.6 3 .6 5 .1 4-1.3 4 1.5 4 .3 45.5-.3 6-1 6.5-3.6 1.5-.5 2 .5 6 3.1 2.5 .5 3.5 0 5-1.1 1.5-.9 1.5-1.5 2.5-4.9 3.5-9.8 1-1.4 .5 0 1 1.2 3.5 9.8 2.5 4.8 1.5 1.5 1.5 .9 2 .6 2.5 .1 4-1.1 3 .5 1.5-.1 3-1.8 1.5-1.9 1.5-3.1 4.5-13.7 1-1.4 .5 0 1.5 2.7 4.5 13.7 1.5 2.7 1.5 1.8 2 1.3 3 .9 11 .9"/>
<path stroke="#ba664c" d="M360.1 290.6l32.5-1.3 29-1.7 25-1.9 19-2.2 10.5-1.8 7.5-2.2 5.5-3.2 3.5-4.1 2.5-5.7 1.5-6.4 1.5-12.6 1-15.2 2-57.2 2.5-110.9 .5-4.2 1.5 0 3.5 142.5 1 24.7 1.5 21.4 1 7.5 1.5 5.7 1 1.5 .5 .2 1-2 1-8 2-34.7 .5 .5 2 37.7 1 9.6 1 3.9 1 1.7 2 1.8 2.5 1 6.5 .8 7.5-.4 2-1 2.5-3.1 1-.6 3.5 3.6 3 .8 43-1.4 22 .2 20.5 2.1 40 6.4 19.5 2.7 21.5 1.9 19.5 .8 7-.3 3-1.1 2-2.3 3-6.9 1-1.5 .5-.1 1 1.1 3 6.9 2 2.5 3 1.1 5.5-.1 3.5-.8 2.5-1.4 1.5-1.8 1.5-3.8 2-11 3-27.3 .5-2.3 .5-.3 1 5 3.5 30.5 1.5 6.5 1 2.4 1.5 2 2 1.3 2.5 .9 8.5 1 18 0 13-1 3.5-1 2-1.8 2-4.3 2.5-8.4 1-1.3 1 1.4 2.5 6.9 1.5 2.1 1 .2 1-.6 1.5-2.8 1.5-6.5 1-7.5 3.5-43.5 1-5.2 1 4.5 3 36.4 1.5 11.9 1 4.4 1 2.2 1 .8 1-.2 1-1.1 1-2 1.5-6 2-20 2-47.5 2.5-90.8 1-15.9 .5 3.5 .5 10.7 2.5 90.6 1.5 39.5 1.5 21.3 1 7.1 1.5 4.8 3 3.3 3.5 7.5 2 3 3 2.2 5.5 1.5 9 .9 12.5 .4 12.5-.2 7-.8 2.5-1.1 1.5-1.5 4-8.4 1-.8 1 1.1 2 3.9 1.5 2.1 1.5 .6 1.5-.8 1-1.6 1-3.3 1-7.6 1-16.8 2-54.6 .5-1.6 2 50.7 1.5 19.5 .5 1.4 .5-.3 2.5-11.2 .5-1.6 .5-.4 1 3.4 3 18.6 1.5 4.7 1.5 2 1.5 .7 3 .2 3-.7 4-2.5 3-4.3 2-6.7 1.5-10.8 2-33.4 3.5-119.5 .5-10.5 .5-3.3 1 16.2 3 106.3 2 39.6 1.5 13.4 2 8 1.5 3 1.5 2.1 4 3 4 1.5 5 1.1 16.5 1.1 9-.1 6-1.9 6 1.9 8 .4 27.5-.3 7-.6 4.5-.9 2-.9 1.5-1.1 1.5-2.2 1-2.3 2-7.7 3-16.9 1-3.3 .5-.3 1 2.3 3.5 19.3 2 7.2 1.5 2.9 1.5 1.6 2 1.1 2.5 .7 11 1 20 0 10.5-.7 3.5-.7 2-.9 2-1.8 2-4 2-7.5 2.5-12.8 1-3.3 .5-.4 .5 .4 1 3.2 3 15 2 6.6 2 3.4 1.5 1.2 2 .8 4 .9 6 .5 22 .3 37.5-.3 17-1.2 4.5-1.1 3-1.4 2-1.9 1.5-2.7 1.5-4.5 1.5-7 4-26.7 1-3.3 .5-.1 1.5 5.7 3.5 23.7 2.5 10.1 2 3.9 2 1.7 3 1 4 0 3-.9 2.5-2 1.5-2.4 1.5-4 2.5-12.4 4-29.8 1-3.4 .5 0 1.5 6.4 4.5 32.9 1.5 6.6 1.5 4.2 2 3.1 3 2.2 4.5 1.4 6.5 1"/>
<path stroke="#b7644d" d="M360.1 281.4l33-1.4 28-1.7 23.5-2 18-2.2 11-2.1 7.5-2.5 5.5-3.3 4-4.8 3-6.7 2-8.5 1.5-12.3 1-14.5 1.5-39.7 2.5-119.7 5 0 .5 2.7 2.5 126.4 1.5 33.4 1.5 15.8 1 5.4 1 3.1 .5 .8 .5 0 .5-1 1-7.2 2-33.6 .5 .7 2 38.4 1 9.8 1 4.2 1.5 2.6 2.5 2 3.5 1.3 6 .7 6-.1 2-1 2.5-3.1 1-.5 3.5 3.6 3 .9 45-1.3 20.5 .3 20 2.2 40 6.5 19 2.6 21.5 2 19.5 .7 7-.3 3.5-1.2 2-2.6 3.5-8.8 1-.9 1 1.1 3 7.6 2 2.9 1.5 .9 2 .3 5.5-.5 3-1.2 2.5-2.2 1.5-2.8 1.5-5.9 2-17.1 3-42.2 .5-3.6 .5-.6 1 7.8 3.5 47.3 1.5 10.1 1 3.7 1.5 3.2 2 2 2.5 1.3 3.5 .9 4.5 .6 8.5 .3 10-.1 8-.5 5.5-.9 3.5-1.6 2-2.8 1.5-4.3 2.5-10.1 1-1.6 1 1.5 2.5 8 1.5 2.4 1 .1 1-.9 1.5-4.1 1.5-9 1-10.5 3-51 1-11.4 .5-1.1 1 7.5 2.5 41.3 1.5 17.8 1 6.9 1 3.7 1 1.5 1 0 1-1.3 1-2.5 1.5-7.3 2-24.2 2-61.2 2-102.7 4 0 2.5 120.8 2 50.6 1 11.6 1.5 8.5 7 17.1 2 3.1 2.5 2.1 3.5 1.5 5 1.2 8 1 10 .4 10.5-.1 7-.6 3.5-1.1 2.5-2.5 1.5-3.5 3-10.2 1-1.1 1 1.6 2 6.5 1.5 3.5 1.5 1.4 1-.1 1-.9 1-2.1 1-4.9 1-11.5 2.5-64.4 .5-1.6 2 50.7 1.5 19.5 .5 1.3 .5-.2 2.5-11.3 .5-1.6 .5-.4 1 3.3 3 18.4 1.5 4.7 1 1.4 1.5 .9 2.5 .1 2.5-.7 2.5-1.5 2-2 3-5.2 2-7.1 1.5-10.5 1.5-21.6 1-25.5 3-139 4 0 2.5 125 1 30.4 1.5 26.4 1.5 12.9 2 8.2 1.5 3.6 2 3.1 2 2.1 2.5 1.8 4 1.8 5.5 1.3 7 .8 9 .5 7.5-.4 5.5-2.8 6 3.1 8 .6 27.5-.5 7-.9 4.5-1.4 2-1.4 1.5-1.8 1.5-3.3 1-3.6 2-11.9 3-26.3 1-5.2 .5-.4 1 3.7 3.5 29.9 2 11.1 1.5 4.5 1.5 2.5 2 1.7 2.5 1.1 4.5 1 6.5 .6 20 .1 10.5-1.1 3.5-1.2 2-1.3 2-2.8 2-6.2 2-11.6 2.5-19.9 1-5.1 .5-.7 .5 .6 1 5 3 23.4 2 10.2 2 5.1 1.5 1.9 2 1.4 4 1.3 6 .7 22 .6 37.5-.5 10-.7 7-1.1 4.5-1.6 3-2.2 2-3.1 1.5-4.1 1.5-7 1.5-10.8 4-41.5 1-5.1 .5-.1 1.5 8.9 3.5 36.7 2.5 15.7 2 6 2 2.7 3 1.5 4 0 3-1.4 2.5-3 1.5-3.7 1.5-6.3 2.5-19.2 4-46.2 1-5.3 .5 0 1.5 9.9 4.5 51.1 1.5 10.2 1.5 6.5 2 4.9 3 3.4 4.5 2.2 6.5 1.4"/>
<path stroke="#b4624d" d="M360.1 272.2l60-3.2 23.5-2 17.5-2.1 11-2.1 8-2.5 5.5-3.3 4-4.3 3-5.9 2-6.9 1.5-8.9 1.5-16.6 2-52 2-102.4 6 0 3 128 1.5 28.6 1.5 13.4 1 4.8 1 2.6 .5 .5 .5-.5 .5-1.7 2.5-29.5 .5 .7 2 31.3 1.5 10.2 1 2.3 1.5 1.8 2.5 1.6 3 1 6 .8 6-.2 2-.9 2.5-3.1 1-.5 3.5 3.6 3 .9 45.5-1.4 20 .4 20 2.2 39.5 6.6 19 2.7 21.5 2 19.5 .8 7.5-.3 2-.5 1.5-.8 2-2.6 3.5-9 1-1 1 1 3 7.8 2 3 1.5 .9 2 .4 5.5-.6 3-1.3 2.5-2.4 1.5-3 1.5-6.4 2-18.6 3-45.9 .5-3.8 .5-.7 1 8.4 3.5 51.4 1.5 11 1 4 1.5 3.4 2 2.2 3 1.6 4 1 5.5 .6 10.5 .3 11-.5 7-.8 4-1.4 2-1.8 1.5-3.1 3.5-13.7 1-1.7 1 1.6 2.5 8.3 1.5 2.4 1 .1 1-1 1.5-4.3 1.5-9.8 1-11.1 3-54.1 1-11.9 .5-1.1 1 8.3 2.5 43.7 2 22.8 1 5.4 1.5 3.1 1-.2 1-1.4 1.5-4.8 2-15.8 1.5-28.2 1.5-54.7 1.5-83.4 5 0 2.5 121.7 2 43.7 1 9.6 1 5.3 7.5 19.3 2 2.9 2.5 1.9 4 1.7 5 1.1 8 .9 10.5 .4 10-.1 6.5-.7 3.5-1.3 2-2.5 1.5-3.7 3-11.1 .5-.9 .5-.2 1 1.9 3.5 11 1.5 1.8 1 .2 1-.6 1-1.6 1-3.9 1-9.2 2.5-51.6 .5-1.4 2 40.2 .5 7.5 1 7.4 .5 .7 .5-.7 2.5-12.2 .5-1.7 .5-.5 1 3.2 3 18.2 1.5 4.6 1 1.4 1.5 .9 2 0 2.5-.7 2.5-1.5 2-1.9 3-5.1 2.5-8.9 1.5-11.5 1.5-23.4 1-27.7 2.5-122.9 5 0 2 107.7 1 33 1.5 28.7 1.5 13.9 1 5.3 1.5 5.1 1.5 3.4 2 3.1 2 2.1 2.5 1.7 4 1.8 5.5 1.3 7 .9 9 .5 7-.4 5.5-3.1 1 .3 3 2.2 2 .9 8 .6 16 0 11.5-.5 7-1 4.5-1.5 2-1.5 1.5-2 1.5-3.6 1-3.9 2-12.9 3-28.6 1-5.5 .5-.5 1 4 3.5 32.4 2 12.1 1.5 4.9 1.5 2.7 2 1.9 2.5 1.2 4.5 1 6.5 .7 20 .1 10.5-1.2 3.5-1.3 2-1.4 2-3.1 2-6.7 2-12.6 2.5-21.6 1-5.5 .5-.8 .5 .7 1 5.4 3 25.4 2 11.1 2 5.6 1.5 2 2 1.5 4 1.4 6 .8 22 .7 37.5-.6 10-.7 7-1.3 4.5-1.7 3-2.4 2-3.3 1.5-4.5 1.5-7.6 1.5-11.7 4-45 1-5.6 .5-.1 1.5 9.6 4 44.3 2.5 14.8 2 5.3 2 2.4 3 1.4 4-.3 3-1.8 2-2.9 1.5-4 1.5-6.9 2.5-20.7 4-50.3 1-5.6 .5 0 1.5 10.7 4.5 55.5 1.5 11.1 1.5 7 2 5.3 3 3.7 4.5 2.4 6.5 1.5"/>
<path stroke="#b0604e" d="M360.1 263.0l60.5-3.3 23-2 17.5-2.1 11-2.1 8-2.6 5.5-3.3 4-4.3 3-5.9 2-6.9 1.5-8.9 1.5-16.6 2-52 2-93 6 0 .5 2.2 1 59.5 1.5 57.1 1.5 28.6 1.5 13.6 1.5 6.6 1 2 .5 0 1-3.3 2-18.5 .5 .7 2 23.7 1 6.2 1 2.8 1.5 1.9 2.5 1.6 3 .9 6.5 .8 6-.1 2-1 2.5-3.1 1-.6 3.5 3.7 3 .8 44.5-1.3 20.5 .3 20 2.2 40.5 6.9 19 2.7 21 2 19.5 .8 7.5-.3 2-.5 1.5-.8 2-2.6 3.5-9 1-1 1 1 3 7.8 2 3 1.5 .9 2 .4 5.5-.6 3-1.3 2.5-2.3 1.5-3.1 1.5-6.4 2-18.6 3-45.9 .5-3.8 .5-.6 1 8.3 3.5 51.4 1.5 11 1 4.1 1.5 3.3 2 2.2 3 1.6 4 1.1 5 .5 10 .3 11-.4 7-.7 4.5-1.3 2-1.5 1.5-2.4 1.5-4.5 2.5-10.5 1-1.7 1 1.6 2.5 8.3 1.5 2.4 1 .1 1-1 1.5-4.3 1.5-9.7 1-11.2 3-54.1 1-11.9 .5-1 1 8.2 2.5 43.7 2 22.8 1 5.4 1.5 3.1 1-.1 1-1.5 1.5-4.8 2-15.7 1.5-28.3 3-128.8 5 0 2.5 112.4 2 43.7 1 9.6 1 5.3 7.5 19.3 2 2.9 2.5 1.9 4 1.7 5 1.1 8 .9 10.5 .5 10-.2 6.5-.6 3.5-1.4 2-2.4 1.5-3.6 3-11.1 .5-.9 .5-.2 1 1.9 3.5 11.3 1.5 1.9 1 .4 1-.3 1-1.2 1-2.9 1-6.8 2.5-38.5 .5-1 2 29.4 .5 5.3 1 4.7 .5 0 .5-1.1 2.5-13.1 .5-1.8 .5-.5 1 3.1 2.5 15.6 1.5 5.8 1 1.9 1.5 1.2 2 .3 2.5-.6 4-2.6 2-2.4 1.5-2.6 2.5-7.7 1.5-9.1 1.5-18.4 1.5-37.4 2.5-113.7 5 0 2.5 116.6 1 26.7 1.5 22.6 1.5 11 2.5 8.8 1.5 3 2 2.8 2 1.9 2.5 1.6 4 1.7 5.5 1.2 7.5 .9 8.5 .4 6.5-.4 5.5-3.1 1 .3 3 2.2 2 .8 8 .7 16-.1 11.5-.4 7-1 4.5-1.5 2-1.5 1.5-2 1.5-3.6 1-3.9 2-12.9 3-28.6 1-5.5 .5-.5 1 4 3.5 32.4 2 12.1 1.5 4.9 1.5 2.7 2 1.8 2.5 1.2 4.5 1.1 6.5 .7 20 0 10.5-1.2 3.5-1.2 2-1.5 2-3 2-6.7 2-12.6 2.5-21.6 1-5.5 .5-.8 .5 .7 1 5.4 3 25.4 2 11.1 2 5.5 1.5 2.1 2 1.5 4 1.3 6 .9 22 .6 37.5-.5 10-.8 7-1.2 4.5-1.7 3-2.4 2-3.3 1.5-4.5 1.5-7.6 1.5-11.7 4-45.1 1-5.5 .5-.1 1.5 9.6 4 44.3 2.5 14.7 2 5.4 2 2.4 3 1.3 4-.2 3-1.9 2-2.8 1.5-4.1 1.5-6.8 2.5-20.8 4-50.2 1-5.7 .5 0 1.5 10.7 4.5 55.5 1.5 11.1 1.5 7.1 2 5.3 3 3.6 4.5 2.4 6.5 1.6"/>
<path stroke="#ad5e4e" d="M360.1 253.9l60-3.4 22.5-2 17.5-2.1 11-2.1 8-2.4 6-3.3 4-4 3-5.4 2.5-8.1 1.5-8.8 1.5-16.7 1.5-34.2 2-96.3 .5-5.1 6.5 0 2.5 109.5 1.5 28.7 1.5 13.7 1.5 7 1.5 2.9 .5-.2 .5-1.2 2-11 .5 .7 2 16.2 1 4.3 1 2 1.5 1.5 2.5 1.3 3 .9 6.5 .7 6-.2 2-1 2.5-3.1 1-.6 3.5 3.7 3 .8 44.5-1.4 20.5 .3 20 2.3 40 6.9 19 2.8 21.5 2.1 19.5 .8 7.5-.3 2-.5 1.5-.8 2-2.6 3.5-9 1-1 1 1 3 7.8 2 3 1.5 1 2 .3 5.5-.6 3-1.3 2.5-2.3 1.5-3.1 1.5-6.4 2-18.6 3-45.8 .5-3.9 .5-.6 1 8.4 3.5 51.3 1.5 11 1 4.1 1.5 3.4 2 2.1 3 1.7 4 1 5 .5 10 .3 11-.4 7-.7 4.5-1.3 2-1.5 1.5-2.4 1.5-4.5 2.5-10.5 1-1.7 1 1.6 2.5 8.3 1.5 2.4 1 .1 1-1 1.5-4.3 1.5-9.7 1-11.2 3-54.1 1-11.9 .5-1 1 8.2 2.5 43.8 2 22.7 1 5.4 1.5 3.1 .5 .1 1-.8 1.5-3.6 1.5-8 1-9.8 1.5-28.3 3-119.5 5 0 .5 6.9 2 96.2 2 43.7 1 9.6 1 5.3 6 16 2 4.2 2 2.5 3 2 4 1.4 5 1 8 .8 10 .4 9.5-.1 6.5-.7 3.5-1.3 2-2.4 1.5-3.6 3-11 .5-.9 .5-.2 1 1.9 3.5 11.5 1.5 2.1 1 .5 1 0 1-.7 1-1.8 1-4.5 2.5-25.3 .5-.8 2 18.6 1 4.9 .5 .4 1-2.3 2.5-14 1-2.5 1 3 2.5 15.5 1.5 5.7 1 1.9 1.5 1.2 2 .2 2.5-.6 4-2.6 2-2.4 1.5-2.7 2.5-7.6 1.5-9.2 1.5-18.3 1-22.1 2.5-112.3 .5-7.5 5 0 2.5 107.3 1 26.7 1.5 22.6 1.5 11 2.5 8.8 1.5 3 2 2.8 2.5 2.3 2.5 1.5 4 1.5 5.5 1.2 7.5 .8 8.5 .4 6-.4 5.5-3.1 1 .3 3 2.2 2 .8 8.5 .7 15.5-.1 11.5-.5 7-.9 4.5-1.5 2-1.5 1.5-2 1.5-3.6 1-3.9 2-12.9 3-28.6 1-5.6 .5-.4 1 4 3.5 32.4 2 12.1 1.5 4.9 1.5 2.7 2 1.8 2.5 1.2 4.5 1.1 6.5 .7 20 0 10.5-1.2 3.5-1.2 2-1.5 2-3 2-6.7 2-12.6 2.5-21.6 1-5.5 .5-.8 .5 .7 1 5.4 3 25.3 2 11.1 2 5.6 1.5 2.1 2 1.5 4 1.3 6 .9 22 .6 37.5-.6 10-.7 7-1.2 4.5-1.8 3-2.4 2-3.2 1.5-4.6 1.5-7.5 1.5-11.8 4-45 1-5.5 .5-.2 1.5 9.7 4 44.2 2.5 14.8 2 5.3 2 2.5 3 1.3 4-.3 3-1.8 2-2.9 1.5-4 1.5-6.8 2.5-20.8 4-50.2 1-5.7 .5 0 1.5 10.7 4.5 55.5 1.5 11.1 1.5 7.1 2 5.2 3 3.7 4.5 2.4 6.5 1.6"/>
</g>
<g stroke="#6b6b6b" stroke-width="1.1" fill="none">
<path d="M138.7 102.4H348"/>
<path d="M153.7 102.4V995.4"/>
<path d="M139 995.4H347.7"/>
<path d="M139.1 102.6H153.7"/>
<path d="M146 152.2H153.7"/>
<path d="M139.1 201.9H153.7"/>
<path d="M146 251.5H153.7"/>
<path d="M139.1 301.2H153.7"/>
<path d="M146 350.9H153.7"/>
<path d="M139.1 400.5H153.7"/>
<path d="M146 450.1H153.7"/>
<path d="M139.1 499.8H153.7"/>
<path d="M146 549.4H153.7"/>
<path d="M139.1 599.1H153.7"/>
<path d="M146 648.8H153.7"/>
<path d="M139.1 698.4H153.7"/>
<path d="M146 748.0H153.7"/>
<path d="M139.1 797.7H153.7"/>
<path d="M146 847.4H153.7"/>
<path d="M139.1 897.0H153.7"/>
<path d="M146 946.6H153.7"/>
<path d="M139.1 996.3H153.7"/>
<path d="M167.6 995.4V1009.5"/>
<path d="M195.8 995.4V1003"/>
<path d="M224.1 995.4V1009.5"/>
<path d="M252.3 995.4V1003"/>
<path d="M280.6 995.4V1009.5"/>
<path d="M308.9 995.4V1003"/>
<path d="M337.1 995.4V1009.5"/>
<path d="M362.7 102.7H1402.4"/>
<path d="M362.7 102.7V997.3H1387.8V102.7"/>
<path d="M1387.8 102.7H1402.4"/>
<path d="M1387.8 152.3H1395.8"/>
<path d="M1387.8 201.9H1402.4"/>
<path d="M1387.8 251.5H1395.8"/>
<path d="M1387.8 301.1H1402.4"/>
<path d="M1387.8 350.7H1395.8"/>
<path d="M1387.8 400.3H1402.4"/>
<path d="M1387.8 449.9H1395.8"/>
<path d="M1387.8 499.5H1402.4"/>
<path d="M1387.8 549.1H1395.8"/>
<path d="M1387.8 598.7H1402.4"/>
<path d="M1387.8 648.3H1395.8"/>
<path d="M1387.8 697.9H1402.4"/>
<path d="M1387.8 747.5H1395.8"/>
<path d="M1387.8 797.1H1402.4"/>
<path d="M1387.8 846.7H1395.8"/>
<path d="M1387.8 896.3H1402.4"/>
<path d="M1387.8 945.9H1395.8"/>
<path d="M1387.8 995.5H1402.4"/>
<path d="M397.4 997.3V1004.8"/>
<path d="M455.7 997.3V1011.3"/>
<path d="M514.0 997.3V1004.8"/>
<path d="M572.3 997.3V1011.3"/>
<path d="M630.6 997.3V1004.8"/>
<path d="M688.9 997.3V1011.3"/>
<path d="M747.2 997.3V1004.8"/>
<path d="M805.5 997.3V1011.3"/>
<path d="M863.8 997.3V1004.8"/>
<path d="M922.1 997.3V1011.3"/>
<path d="M980.4 997.3V1004.8"/>
<path d="M1038.7 997.3V1011.3"/>
<path d="M1097.0 997.3V1004.8"/>
<path d="M1155.3 997.3V1011.3"/>
<path d="M1213.6 997.3V1004.8"/>
<path d="M1271.9 997.3V1011.3"/>
<path d="M1330.2 997.3V1004.8"/>
<path d="M1388.5 997.3V1011.3"/>
</g>
<text x="128.4" y="111.7" font-size="32.0" text-anchor="end" font-weight="normal" fill="#000" font-family='"Liberation Sans", "DejaVu Sans", sans-serif' >900</text>
<text x="1411.7" y="111.7" font-size="32.0" text-anchor="start" font-weight="normal" fill="#000" font-family='"Liberation Sans", "DejaVu Sans", sans-serif' >900</text>
<text x="128.4" y="211.0" font-size="32.0" text-anchor="end" font-weight="normal" fill="#000" font-family='"Liberation Sans", "DejaVu Sans", sans-serif' >800</text>
<text x="1411.7" y="211.0" font-size="32.0" text-anchor="start" font-weight="normal" fill="#000" font-family='"Liberation Sans", "DejaVu Sans", sans-serif' >800</text>
<text x="128.4" y="310.2" font-size="32.0" text-anchor="end" font-weight="normal" fill="#000" font-family='"Liberation Sans", "DejaVu Sans", sans-serif' >700</text>
<text x="1411.7" y="310.2" font-size="32.0" text-anchor="start" font-weight="normal" fill="#000" font-family='"Liberation Sans", "DejaVu Sans", sans-serif' >700</text>
<text x="128.4" y="409.4" font-size="32.0" text-anchor="end" font-weight="normal" fill="#000" font-family='"Liberation Sans", "DejaVu Sans", sans-serif' >600</text>
<text x="1411.7" y="409.4" font-size="32.0" text-anchor="start" font-weight="normal" fill="#000" font-family='"Liberation Sans", "DejaVu Sans", sans-serif' >600</text>
<text x="128.4" y="508.7" font-size="32.0" text-anchor="end" font-weight="normal" fill="#000" font-family='"Liberation Sans", "DejaVu Sans", sans-serif' >500</text>
<text x="1411.7" y="508.7" font-size="32.0" text-anchor="start" font-weight="normal" fill="#000" font-family='"Liberation Sans", "DejaVu Sans", sans-serif' >500</text>
<text x="128.4" y="607.9" font-size="32.0" text-anchor="end" font-weight="normal" fill="#000" font-family='"Liberation Sans", "DejaVu Sans", sans-serif' >400</text>
<text x="1411.7" y="607.9" font-size="32.0" text-anchor="start" font-weight="normal" fill="#000" font-family='"Liberation Sans", "DejaVu Sans", sans-serif' >400</text>
<text x="128.4" y="707.2" font-size="32.0" text-anchor="end" font-weight="normal" fill="#000" font-family='"Liberation Sans", "DejaVu Sans", sans-serif' >300</text>
<text x="1411.7" y="707.2" font-size="32.0" text-anchor="start" font-weight="normal" fill="#000" font-family='"Liberation Sans", "DejaVu Sans", sans-serif' >300</text>
<text x="128.4" y="806.4" font-size="32.0" text-anchor="end" font-weight="normal" fill="#000" font-family='"Liberation Sans", "DejaVu Sans", sans-serif' >200</text>
<text x="1411.7" y="806.4" font-size="32.0" text-anchor="start" font-weight="normal" fill="#000" font-family='"Liberation Sans", "DejaVu Sans", sans-serif' >200</text>
<text x="128.4" y="905.7" font-size="32.0" text-anchor="end" font-weight="normal" fill="#000" font-family='"Liberation Sans", "DejaVu Sans", sans-serif' >100</text>
<text x="1411.7" y="905.7" font-size="32.0" text-anchor="start" font-weight="normal" fill="#000" font-family='"Liberation Sans", "DejaVu Sans", sans-serif' >100</text>
<text x="128.4" y="1004.9" font-size="32.0" text-anchor="end" font-weight="normal" fill="#000" font-family='"Liberation Sans", "DejaVu Sans", sans-serif' >0</text>
<text x="1411.7" y="1004.9" font-size="32.0" text-anchor="start" font-weight="normal" fill="#000" font-family='"Liberation Sans", "DejaVu Sans", sans-serif' >0</text>
<text x="167.6" y="1043.6" font-size="32.0" text-anchor="middle" font-weight="normal" fill="#000" font-family='"Liberation Sans", "DejaVu Sans", sans-serif' >100</text>
<text x="224.1" y="1043.6" font-size="32.0" text-anchor="middle" font-weight="normal" fill="#000" font-family='"Liberation Sans", "DejaVu Sans", sans-serif' >90</text>
<text x="280.6" y="1043.6" font-size="32.0" text-anchor="middle" font-weight="normal" fill="#000" font-family='"Liberation Sans", "DejaVu Sans", sans-serif' >80</text>
<text x="337.1" y="1043.6" font-size="32.0" text-anchor="middle" font-weight="normal" fill="#000" font-family='"Liberation Sans", "DejaVu Sans", sans-serif' >70</text>
<text x="455.2" y="1045.8" font-size="32.0" text-anchor="middle" font-weight="normal" fill="#000" font-family='"Liberation Sans", "DejaVu Sans", sans-serif' >2</text>
<text x="571.8" y="1045.8" font-size="32.0" text-anchor="middle" font-weight="normal" fill="#000" font-family='"Liberation Sans", "DejaVu Sans", sans-serif' >3</text>
<text x="688.4" y="1045.8" font-size="32.0" text-anchor="middle" font-weight="normal" fill="#000" font-family='"Liberation Sans", "DejaVu Sans", sans-serif' >4</text>
<text x="805.0" y="1045.8" font-size="32.0" text-anchor="middle" font-weight="normal" fill="#000" font-family='"Liberation Sans", "DejaVu Sans", sans-serif' >5</text>
<text x="921.6" y="1045.8" font-size="32.0" text-anchor="middle" font-weight="normal" fill="#000" font-family='"Liberation Sans", "DejaVu Sans", sans-serif' >6</text>
<text x="1038.2" y="1045.8" font-size="32.0" text-anchor="middle" font-weight="normal" fill="#000" font-family='"Liberation Sans", "DejaVu Sans", sans-serif' >7</text>
<text x="1154.8" y="1045.8" font-size="32.0" text-anchor="middle" font-weight="normal" fill="#000" font-family='"Liberation Sans", "DejaVu Sans", sans-serif' >8</text>
<text x="1271.4" y="1045.8" font-size="32.0" text-anchor="middle" font-weight="normal" fill="#000" font-family='"Liberation Sans", "DejaVu Sans", sans-serif' >9</text>
<text x="1388.0" y="1045.8" font-size="32.0" text-anchor="middle" font-weight="normal" fill="#000" font-family='"Liberation Sans", "DejaVu Sans", sans-serif' >10</text>
<text x="168.0" y="1098.3" font-size="38.5" text-anchor="start" font-weight="normal" fill="#000" font-family='"Liberation Sans", "DejaVu Sans", sans-serif' >Mass (%)</text>
<text x="821.6" y="1106.1" font-size="38.5" text-anchor="start" font-weight="normal" fill="#000" font-family='"Liberation Sans", "DejaVu Sans", sans-serif' >2-θ (˚)</text>
<text x="36.9" y="526.7" font-size="38.0" text-anchor="middle" font-weight="normal" fill="#000" font-family='"Liberation Sans", "DejaVu Sans", sans-serif' transform="rotate(-90 36.9 526.7)">Temperature (˚C)</text>
<text x="0.9" y="104.2" font-size="45.0" text-anchor="start" font-weight="bold" fill="#000" font-family='"Liberation Sans", "DejaVu Sans", sans-serif' >a</text>
<path d="M329.3 274.4 L329.0 290.0 L328.7 301.6 L327.5 314.0 L325.5 324.0 L321.0 338.0 L315.9 352.7 L312.0 366.0 L309.5 381.5 L307.5 398.0 L305.7 413.5 L304.0 430.0 L302.5 445.5 L301.0 465.0 L299.9 483.9 L299.3 500.0 L298.9 515.8 L298.4 532.0 L298.0 547.8 L297.5 562.0 L296.6 572.0 L295.5 580.0 L293.5 588.0 L290.0 594.5 L284.5 600.0 L275.0 605.5 L262.0 612.5 L252.0 619.2 L238.0 627.0 L225.9 636.0 L215.0 644.0 L207.2 652.8 L199.0 662.0 L194.1 669.6 L191.0 678.0 L189.3 688.2 L188.2 700.0 L187.4 710.6 L186.6 725.0 L185.5 740.5 L183.6 747.5 L181.1 753.6 L179.0 762.0 L177.3 774.1 L175.5 798.0 L173.6 822.6 L171.0 848.0 L168.0 871.2 L165.2 877.0 L163.1 882.4 L161.0 893.0 L159.4 908.5 L158.8 930.0 L158.7 953.3 L158.9 962.0 L159.6 967.0 L162.0 969.2 L166.9 970.0" fill="none" stroke="#2b2b2b" stroke-width="1.3"/>
<path d="M226.3 324H324.8" stroke="#8e4a7a" stroke-width="1.3"/>
<path d="M226.6 591H325.5" stroke="#9cc9bb" stroke-width="1.3"/>
<path d="M226.6 680.8H325.5" stroke="#7cc49a" stroke-width="1.3"/>
<path d="M226.6 970.1H325.5" stroke="#222" stroke-width="1.3"/>
<text x="212.0" y="463.0" font-size="30.4" text-anchor="start" font-weight="normal" fill="#000" font-family='"Liberation Sans", "DejaVu Sans", sans-serif' >Loss 5.4%</text>
<text x="212.2" y="645.3" font-size="30.4" text-anchor="start" font-weight="normal" fill="#000" font-family='"Liberation Sans", "DejaVu Sans", sans-serif' >Loss 18.6%</text>
<text x="212.2" y="828.2" font-size="30.4" text-anchor="start" font-weight="normal" fill="#000" font-family='"Liberation Sans", "DejaVu Sans", sans-serif' >Loss 3.5%</text>
<g font-family='"Liberation Sans", sans-serif' font-weight='bold' font-size='31.0' fill='#000'>
<text x="497.2" y="127.3">‡</text>
<text x="778.5" y="154.7">‡</text>
<text x="858.6" y="146.4">‡</text>
<text x="880.1" y="146.4">‡</text>
<text x="1008.9" y="134.7">‡</text>
<text x="955.5" y="223.5">‡</text>
<text x="1131.8" y="176.8">‡</text>
<text x="1201.5" y="186.2">‡</text>
<text x="1319.2" y="160.3">‡</text>
<text x="1353.1" y="141.5">‡</text>
<text x="1065.9" y="244.0">‡</text>
</g>
<g font-family='"Liberation Sans", sans-serif' font-weight='normal' font-size='50.0' fill='#000'>
<text x="508.1" y="206.9">↓</text>
<text x="965.2" y="157.8">↓</text>
<text x="818.8" y="296.4">↓</text>
<text x="1162.9" y="294.1">↓</text>
<text x="1221.0" y="269.3">↓</text>
<text x="1334.0" y="297.6">↓</text>
</g>
<g font-family='"Liberation Sans", sans-serif' font-weight='normal' font-size='32.7' fill='#000'>
<text x="539.2" y="301.5">◊</text>
<text x="734.8" y="299.8">◊</text>
<text x="773.5" y="299.8">◊</text>
<text x="793.1" y="298.0">◊</text>
<text x="844.7" y="299.8">◊</text>
<text x="1001.4" y="336.0">◊</text>
<text x="1089.0" y="328.8">◊</text>
<text x="1103.4" y="313.7">◊</text>
<text x="1199.8" y="355.0">◊</text>
<text x="1235.1" y="327.5">◊</text>
<text x="1251.6" y="300.5">◊</text>
<text x="873.3" y="379.8">◊</text>
</g>
<g font-family='"Liberation Sans", sans-serif' font-weight='bold' font-size='33.0' fill='#000'>
<text x="642.5" y="310.9">†</text>
<text x="693.0" y="324.4">†</text>
<text x="807.0" y="282.9">†</text>
<text x="832.5" y="326.8">†</text>
<text x="968.9" y="347.6">†</text>
<text x="1073.3" y="348.8">†</text>
<text x="1156.6" y="347.4">†</text>
<text x="1190.4" y="335.0">†</text>
<text x="1293.2" y="282.7">†</text>
<text x="1326.8" y="337.8">†</text>
</g>
<g font-family='"DejaVu Sans", sans-serif' font-weight='bold' font-size='21.5' fill='#000'>
<text x="748.3" y="323.1">⊤</text>
<text x="858.0" y="317.9">⊤</text>
<text x="889.6" y="328.9">⊤</text>
<text x="975.6" y="221.4">⊤</text>
</g>
<g font-family='"DejaVu Sans", sans-serif' font-weight='normal' font-size='26.6' fill='#000'>
<text x="653.3" y="572.9">▽</text>
<text x="778.5" y="600.3">▽</text>
<text x="892.0" y="578.2">▽</text>
<text x="956.6" y="578.9">▽</text>
<text x="1020.6" y="581.8">▽</text>
<text x="1096.0" y="586.0">▽</text>
<text x="1126.7" y="577.5">▽</text>
<text x="1268.7" y="583.2">▽</text>
<text x="1252.4" y="650.1">▽</text>
<text x="1315.0" y="657.7">▽</text>
<text x="1327.0" y="601.7">▽</text>
<text x="1352.9" y="642.9">▽</text>
<text x="1363.4" y="674.8">▽</text>
</g>
<g font-family='"Liberation Sans", sans-serif' font-weight='normal' font-size='36.0' fill='#000'>
<text x="847.0" y="584.4">⌂</text>
<text x="937.9" y="610.6">⌂</text>
<text x="1240.4" y="607.7">⌂</text>
</g>
<g font-family='"Liberation Sans", sans-serif' font-weight='normal' font-size='23.3' fill='#000'>
<text x="554.8" y="787.6">v</text>
<text x="874.7" y="789.4">v</text>
<text x="905.1" y="835.8">v</text>
<text x="1096.2" y="819.6">v</text>
<text x="1171.8" y="853.4">v</text>
<text x="1202.6" y="795.3">v</text>
</g>
<g font-family='"Liberation Sans", sans-serif' font-weight='bold' font-size='26.0' fill='#000'>
<text x="504.6" y="877.6">Λ</text>
</g>
<g font-family='"DejaVu Sans", sans-serif' font-weight='bold' font-size='27.6' fill='#000'>
<text x="677.6" y="904.1">⊥</text>
<text x="706.6" y="904.6">⊥</text>
<text x="749.7" y="911.8">⊥</text>
<text x="802.5" y="911.4">⊥</text>
<text x="829.7" y="904.7">⊥</text>
<text x="842.5" y="918.9">⊥</text>
<text x="919.3" y="914.8">⊥</text>
<text x="943.4" y="907.7">⊥</text>
<text x="999.3" y="899.1">⊥</text>
<text x="1036.4" y="917.2">⊥</text>
<text x="1065.3" y="909.6">⊥</text>
</g>
<g font-family='"Liberation Sans", sans-serif' font-weight='normal' font-size='55.0' fill='#000'>
<text x="480.9" y="1004.9">↑</text>
<text x="754.2" y="1001.6">↑</text>
<text x="806.4" y="1007.1">↑</text>
<text x="852.5" y="1013.1">↑</text>
<text x="859.2" y="1009.2">↑</text>
<text x="871.2" y="1017.4">↑</text>
<text x="918.1" y="1012.4">↑</text>
<text x="1002.8" y="1014.5">↑</text>
</g>
<g font-family='"DejaVu Sans", sans-serif' font-weight='normal' font-size='28.0' fill='#000'>
<text x="498.3" y="991.5">△</text>
<text x="785.9" y="982.2">△</text>
<text x="896.1" y="993.9">△</text>
<text x="1060.7" y="995.2">△</text>
<text x="1075.4" y="999.6">△</text>
<text x="1158.6" y="992.9">△</text>
<text x="1184.4" y="995.2">△</text>
<text x="1200.6" y="998.1">△</text>
<text x="1316.4" y="990.8">△</text>
</g>
<path fill="#8c7232" d="M1743.1 1089.5 L1635.8 733.1 L1647.5 736.1 L1628.6 712.4 L1625.4 742.5 L1633.6 733.7 L1734.3 1092.0 Z"/>
<path fill="#8c7232" d="M1749.0 1091.1 L1752.2 645.7 L1762.5 652.0 L1751.4 623.8 L1739.5 651.6 L1750.0 645.6 L1740.9 1090.9 Z"/>
<path fill="#8c7232" d="M1629.9 677.5 L1625.6 561.2 L1632.8 566.0 L1624.3 544.0 L1615.8 566.0 L1623.1 561.2 L1619.2 677.5 Z"/>
<path fill="#8c7232" d="M1634.0 678.6 L1809.9 442.3 L1813.7 452.9 L1822.0 424.0 L1796.3 439.6 L1807.6 440.4 L1625.9 672.3 Z"/>
<path fill="#8c7232" d="M1640.4 676.4 L1703.5 621.3 L1704.6 629.5 L1714.9 610.6 L1694.4 617.2 L1702.2 619.8 L1636.2 671.3 Z"/>
<path fill="#8c7232" d="M1660.1 520.0 L1794.7 425.3 L1794.4 435.6 L1811.2 412.0 L1782.9 418.1 L1792.5 421.9 L1652.5 508.4 Z"/>
<path fill="#8c7232" d="M1745.3 585.9 L1780.1 72.0 L1791.3 79.7 L1780.7 47.8 L1765.4 77.7 L1777.6 71.8 L1733.2 585.0 Z"/>
<path fill="#8c7232" d="M1755.9 586.0 L1788.4 279.9 L1798.8 287.8 L1789.9 256.5 L1773.9 284.8 L1785.9 279.6 L1745.7 584.8 Z"/>
<path fill="#8c7232" d="M1767.3 587.5 L1835.9 447.5 L1842.1 458.2 L1845.6 426.1 L1820.9 446.9 L1833.3 446.0 L1755.3 581.1 Z"/>
<path fill="#e8202a" d="M1752.1 1091.5 L1780.9 880.5 L1791.2 888.7 L1783.3 857.2 L1766.5 885.0 L1778.7 880.2 L1744.1 1090.3 Z"/>
<path fill="#e8202a" d="M1848.7 824.9 L1777.5 641.3 L1788.1 643.7 L1769.3 621.9 L1769.4 650.7 L1775.8 641.9 L1842.9 827.1 Z"/>
<path fill="#e8202a" d="M1863.1 826.5 L1859.9 439.4 L1870.6 446.1 L1858.7 416.0 L1846.6 445.9 L1857.4 439.4 L1850.9 826.5 Z"/>
<path fill="#e8202a" d="M1865.5 380.3 L1862.2 286.6 L1871.1 292.8 L1859.2 264.8 L1847.1 292.8 L1856.2 286.6 L1852.4 380.3 Z"/>
<path fill="#e8202a" d="M1864.7 223.1 L1860.7 69.6 L1870.8 75.8 L1858.7 47.8 L1846.8 75.8 L1856.7 69.6 L1853.3 223.1 Z"/>
<path fill="#1e3773" d="M1755.1 1093.7 L1838.1 966.2 L1841.7 976.8 L1849.8 945.9 L1823.6 964.2 L1834.8 964.0 L1744.1 1086.1 Z"/>
<path fill="#1e3773" d="M1866.6 928.4 L1861.7 876.7 L1870.2 882.8 L1858.5 854.9 L1847.2 883.0 L1855.7 876.8 L1851.5 928.6 Z"/>
<path fill="#5a7d8c" d="M1946.6 1090.0 L1869.3 965.1 L1879.0 965.7 L1858.5 948.8 L1863.5 974.9 L1867.6 966.1 L1940.4 1093.7 Z"/>
<path fill="#5a7d8c" d="M1951.2 1093.0 L1947.2 962.5 L1957.8 968.7 L1945.7 940.7 L1933.8 968.7 L1944.2 962.5 L1940.8 1093.0 Z"/>
<path fill="#5a7d8c" d="M1946.2 1092.2 L1990.6 1059.5 L1991.2 1068.2 L2003.0 1050.0 L1981.7 1054.1 L1989.5 1057.9 L1942.5 1086.7 Z"/>
<path fill="#5a7d8c" d="M2011.2 1026.4 L2009.3 959.4 L2016.5 964.0 L2008.1 943.0 L1999.5 964.0 L2006.8 959.4 L2004.1 1026.4 Z"/>
<path fill="#5a7d8c" d="M1961.6 912.6 L1921.1 870.0 L1930.7 868.1 L1909.0 857.8 L1916.4 880.6 L1919.6 871.4 L1956.6 917.0 Z"/>
<path fill="#5a7d8c" d="M1982.9 916.8 L1978.6 536.9 L1987.6 542.0 L1977.1 519.0 L1966.6 542.0 L1975.6 536.9 L1971.1 916.8 Z"/>
<path fill="#5a7d8c" d="M1964.1 487.1 L1882.0 417.6 L1891.0 414.8 L1868.5 407.0 L1879.0 428.3 L1880.7 419.1 L1959.9 491.9 Z"/>
<path fill="#5a7d8c" d="M1986.6 488.2 L1889.0 272.4 L1899.7 274.6 L1879.2 252.8 L1880.3 282.7 L1886.2 273.5 L1970.5 494.9 Z"/>
<path fill="#958b6c" d="M2139.8 398.8 L2139.5 73.3 L2147.8 75.4 L2138.5 54.4 L2129.2 75.4 L2137.5 73.3 L2137.2 398.8 Z"/>
<path fill="#958b6c" d="M2139.8 631.6 L2139.5 479.3 L2147.8 481.4 L2138.5 460.4 L2129.2 481.4 L2137.5 479.3 L2137.2 631.6 Z"/>
<path fill="#958b6c" d="M2139.8 870.6 L2139.5 721.4 L2147.8 723.5 L2138.5 702.5 L2129.2 723.5 L2137.5 721.4 L2137.2 870.6 Z"/>
<path fill="#958b6c" d="M2139.8 1076.4 L2139.5 947.2 L2147.8 949.3 L2138.5 928.3 L2129.2 949.3 L2137.5 947.2 L2137.2 1076.4 Z"/>
<rect x="1752.9" y="3.4" width="192.8" height="30.5" fill="#e8202a"/>
<rect x="1786.1" y="214.6" width="128.0" height="30.9" fill="#e8202a"/>
<rect x="1791.0" y="371.8" width="119.0" height="30.5" fill="#e8202a"/>
<rect x="1922.0" y="483.8" width="125.8" height="31.2" fill="#5a7d8c"/>
<rect x="1521.6" y="506.0" width="184.4" height="30.6" fill="#8c7232"/>
<rect x="1706.0" y="574.8" width="134.0" height="30.9" fill="#8c7232"/>
<rect x="1525.9" y="667.3" width="171.8" height="30.9" fill="#8c7232"/>
<rect x="1766.0" y="817.9" width="138.1" height="31.2" fill="#e8202a"/>
<rect x="1921.6" y="908.4" width="146.9" height="30.2" fill="#5a7d8c"/>
<rect x="1779.0" y="920.0" width="128.0" height="22.2" fill="#1e3773"/>
<rect x="1971.1" y="1018.0" width="119.5" height="30.0" fill="#5a7d8c"/>
<rect x="1626.8" y="1084.7" width="208.2" height="30.7" fill="#8c805f"/>
<rect x="1887.9" y="1084.7" width="140.6" height="30.5" fill="#5a7d8c"/>
<text x="1803.7" y="25.5" font-size="21.3" fill="#fbf8f0" font-weight="normal" font-family='"Liberation Sans", "DejaVu Sans", sans-serif'>P2 phase</text>
<text x="1790.5" y="239.1" font-size="27.7" fill="#fbf8f0" font-weight="bold" font-family='"Liberation Sans", sans-serif'>‡</text>
<text x="1811.1" y="237.5" font-size="21.1" fill="#fbf8f0" font-weight="normal" font-family='"Liberation Sans", "DejaVu Sans", sans-serif'>P3 Phase</text>
<text x="1788.1" y="399.6" font-size="42.1" fill="#fbf8f0" font-weight="normal" font-family='"Liberation Sans", sans-serif'>↓</text>
<text x="1811.8" y="395.6" font-size="21.1" fill="#fbf8f0" font-weight="normal" font-family='"Liberation Sans", "DejaVu Sans", sans-serif'>O3 phase</text>
<text x="1932.9" y="510.2" font-size="31.4" fill="#fbf8f0" font-weight="bold" font-family='"Liberation Sans", sans-serif'>†</text>
<text x="1950.3" y="506.5" font-size="21.1" fill="#fbf8f0" font-weight="normal" font-family='"Liberation Sans", "DejaVu Sans", sans-serif'>α-Na<tspan dy="5.3" font-size="14.8">2</tspan><tspan dy="-5.3">CO</tspan><tspan dy="5.3" font-size="14.8">3</tspan></text>
<text x="1524.8" y="530.1" font-size="21.1" fill="#fbf8f0" font-weight="bold" font-family='"DejaVu Sans", sans-serif'>⊤</text>
<text x="1552.5" y="528.3" font-size="21.0" fill="#fbf8f0" font-weight="normal" font-family='"Liberation Sans", "DejaVu Sans", sans-serif'>β-Ni<tspan dy="4.2" font-size="14.7">0.75</tspan><tspan dy="-4.2">Mn</tspan><tspan dy="4.2" font-size="14.7">2.25</tspan><tspan dy="-4.2">O</tspan><tspan dy="4.2" font-size="14.7">4</tspan></text>
<text x="1707.4" y="599.0" font-size="22.0" fill="#fbf8f0" font-weight="normal" font-family='"Liberation Sans", sans-serif'>◊</text>
<text x="1728.3" y="596.5" font-size="14.6" fill="#fbf8f0" font-weight="normal" font-family='"Liberation Sans", "DejaVu Sans", sans-serif'>α-Ni<tspan dy="3.6" font-size="10.2">0.75</tspan><tspan dy="-3.6">Mn</tspan><tspan dy="3.6" font-size="10.2">2.25</tspan><tspan dy="-3.6">O</tspan><tspan dy="3.6" font-size="10.2">4</tspan></text>
<text x="1537.2" y="690.0" font-size="27.5" fill="#fbf8f0" font-weight="normal" font-family='"Liberation Sans", sans-serif'>⌂</text>
<text x="1565.9" y="689.4" font-size="21.0" fill="#fbf8f0" font-weight="normal" font-family='"Liberation Sans", "DejaVu Sans", sans-serif'>Ni<tspan dy="5.2" font-size="14.7">0.25</tspan><tspan dy="-5.2">Mn</tspan><tspan dy="5.2" font-size="14.7">0.75</tspan><tspan dy="-5.2">O</tspan></text>
<text x="1774.8" y="842.0" font-size="19.9" fill="#fbf8f0" font-weight="normal" font-family='"Liberation Sans", sans-serif'>Λ</text>
<text x="1797.5" y="842.0" font-size="18.9" fill="#fbf8f0" font-weight="normal" font-family='"Liberation Sans", "DejaVu Sans", sans-serif'>O-stacking</text>
<text x="1783.8" y="936.6" font-size="16.8" fill="#fbf8f0" font-weight="normal" font-family='"Liberation Sans", sans-serif'>v</text>
<text x="1798.7" y="936.6" font-size="13.5" fill="#fbf8f0" font-weight="normal" font-family='"Liberation Sans", "DejaVu Sans", sans-serif'>Ni<tspan dy="3.4" font-size="9.4">0.25</tspan><tspan dy="-3.4">Mn</tspan><tspan dy="3.4" font-size="9.4">0.75</tspan><tspan dy="-3.4">(OH)</tspan><tspan dy="3.4" font-size="9.4">2</tspan></text>
<text transform="translate(1927.7 929.9) scale(1 0.72)" font-size="25.4" fill="#fbf8f0" font-weight="normal" font-family='"DejaVu Sans", sans-serif'>⊥</text>
<text x="1958.2" y="928.4" font-size="21.2" fill="#fbf8f0" font-weight="normal" font-family='"Liberation Sans", "DejaVu Sans", sans-serif'>γ-Na<tspan dy="5.3" font-size="14.8">2</tspan><tspan dy="-5.3">CO</tspan><tspan dy="5.3" font-size="14.8">3</tspan></text>
<text x="1972.2" y="1044.6" font-size="39.7" fill="#fbf8f0" font-weight="normal" font-family='"Liberation Sans", sans-serif'>↑</text>
<text x="1993.1" y="1041.5" font-size="18.5" fill="#fbf8f0" font-weight="normal" font-family='"Liberation Sans", "DejaVu Sans", sans-serif'>NaOH•H<tspan dy="4.6" font-size="12.9">2</tspan><tspan dy="-4.6">O</tspan></text>
<text x="1648.6" y="1104.0" font-size="24.1" fill="#fbf8f0" font-weight="normal" font-family='"DejaVu Sans", sans-serif'>▽</text>
<text x="1674.5" y="1106.0" font-size="21.0" fill="#fbf8f0" font-weight="normal" font-family='"Liberation Sans", "DejaVu Sans", sans-serif'>Ni<tspan dy="5.2" font-size="14.7">0.25</tspan><tspan dy="-5.2">Mn</tspan><tspan dy="5.2" font-size="14.7">0.75</tspan><tspan dy="-5.2">CO</tspan><tspan dy="5.2" font-size="14.7">3</tspan></text>
<text transform="translate(1909.4 1107.4) scale(1 0.85)" font-size="26.6" fill="#fbf8f0" font-weight="normal" font-family='"DejaVu Sans", sans-serif'>△</text>
<text x="1935.7" y="1108.3" font-size="21.4" fill="#fbf8f0" font-weight="normal" font-family='"Liberation Sans", "DejaVu Sans", sans-serif'>α-NaOH</text>
<text x="2109.5" y="45.7" font-size="21.0" fill="#000" font-weight="normal" font-family='"Liberation Sans", "DejaVu Sans", sans-serif'>950˚C</text>
<text x="2109.4" y="441.8" font-size="21.0" fill="#000" font-weight="normal" font-family='"Liberation Sans", "DejaVu Sans", sans-serif'>600˚C</text>
<text x="2110.0" y="684.8" font-size="21.0" fill="#000" font-weight="normal" font-family='"Liberation Sans", "DejaVu Sans", sans-serif'>400˚C</text>
<text x="2109.4" y="908.7" font-size="21.0" fill="#000" font-weight="normal" font-family='"Liberation Sans", "DejaVu Sans", sans-serif'>200˚C</text>
<text x="2124.8" y="1119.4" font-size="21.0" fill="#000" font-weight="normal" font-family='"Liberation Sans", "DejaVu Sans", sans-serif'>RT</text>
<text x="1574.4" y="102.2" font-size="49.5" font-weight="bold" font-family='"Liberation Sans", sans-serif'>b</text>
</svg>
</body></html>
